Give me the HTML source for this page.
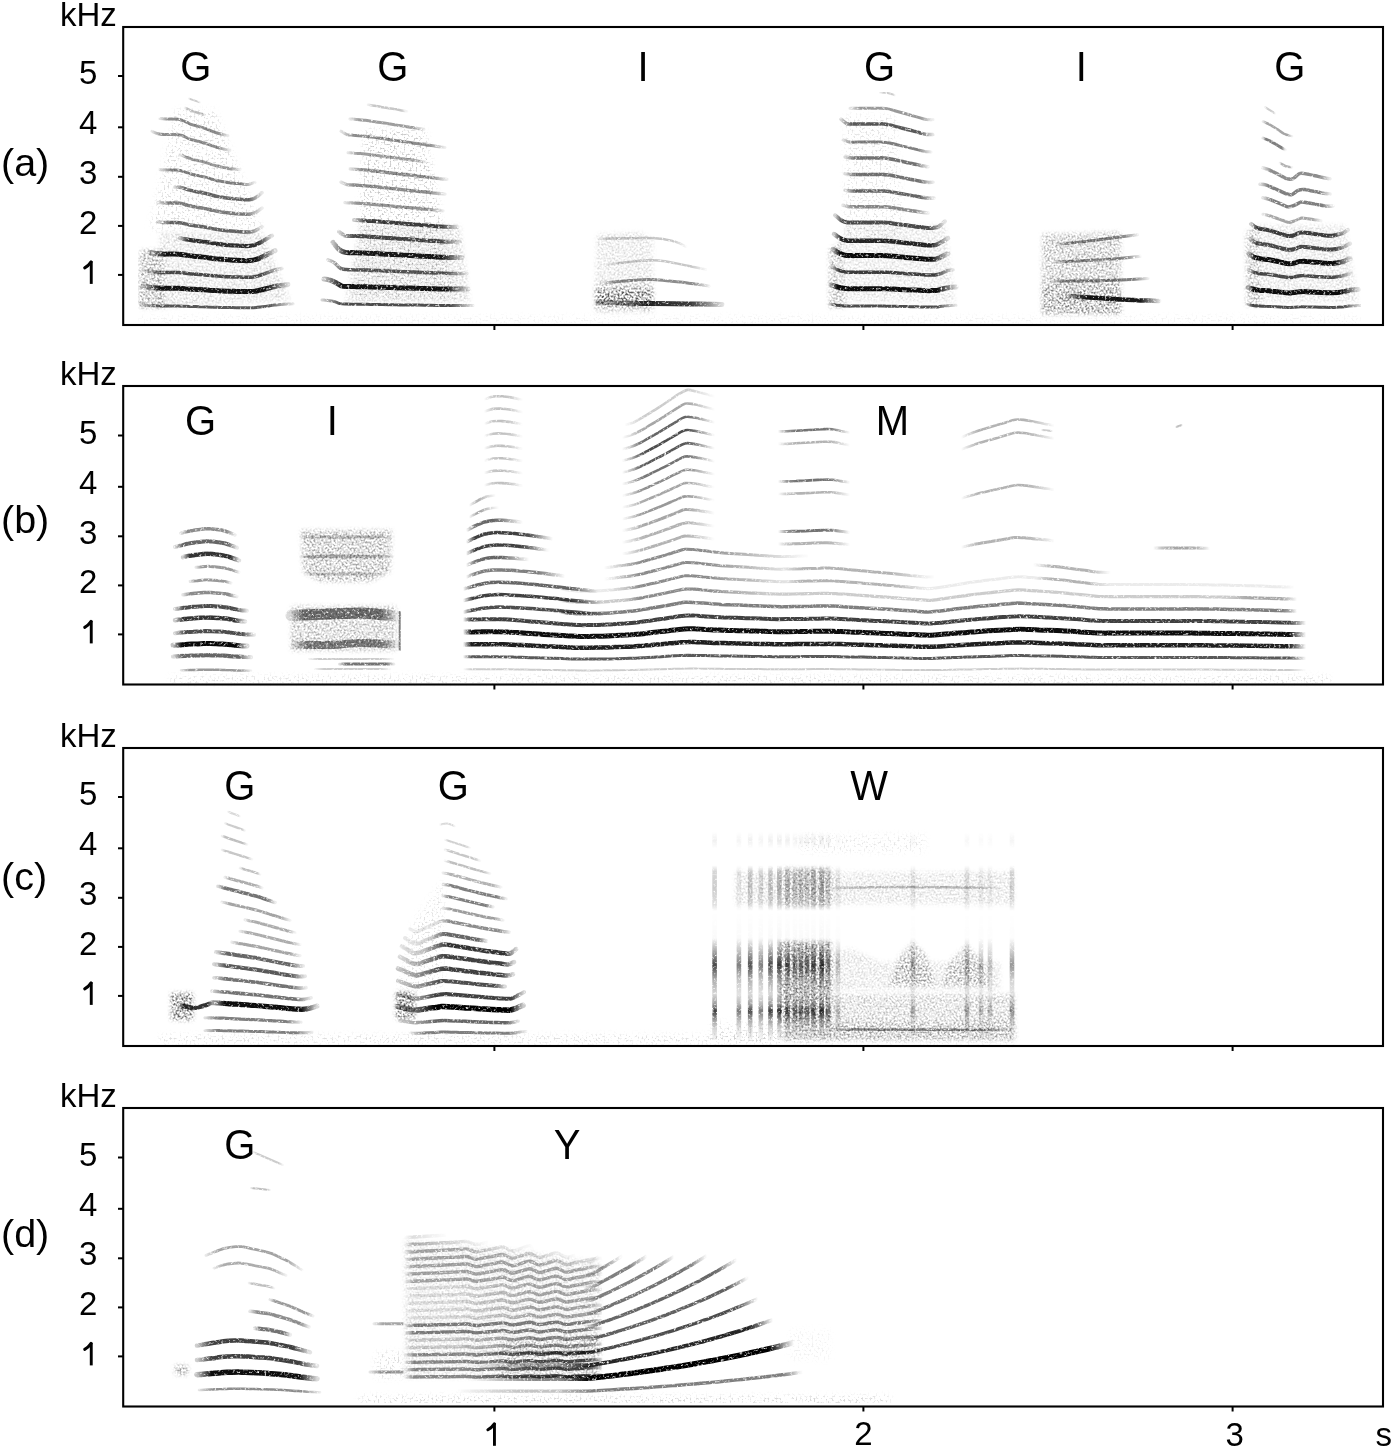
<!DOCTYPE html>
<html><head><meta charset="utf-8"><style>
html,body{margin:0;padding:0;background:#fff;}
body{width:1395px;height:1449px;overflow:hidden;}
svg{display:block;}
text{font-family:"Liberation Sans", sans-serif;fill:#000;}
</style></head><body>
<svg width="1395" height="1449" viewBox="0 0 1395 1449">
<defs>
<filter id="sp1" x="-3%" y="-3%" width="106%" height="106%" color-interpolation-filters="sRGB">
<feGaussianBlur in="SourceGraphic" stdDeviation="2" result="m"/>
<feTurbulence type="fractalNoise" baseFrequency="0.5" numOctaves="2" seed="7" result="n"/>
<feColorMatrix in="n" type="matrix" values="0 0 0 0 0  0 0 0 0 0  0 0 0 0 0  3.2 0 0 0 -1.25" result="a"/>
<feComposite in="a" in2="m" operator="in"/>
</filter>
<filter id="sp2" x="-3%" y="-3%" width="106%" height="106%" color-interpolation-filters="sRGB">
<feGaussianBlur in="SourceGraphic" stdDeviation="3" result="m"/>
<feTurbulence type="fractalNoise" baseFrequency="0.5" numOctaves="2" seed="3" result="n"/>
<feColorMatrix in="n" type="matrix" values="0 0 0 0 0  0 0 0 0 0  0 0 0 0 0  5 0 0 0 -2.6" result="a"/>
<feComposite in="a" in2="m" operator="in"/>
</filter>
<filter id="soft" x="0" y="0" width="100%" height="100%" color-interpolation-filters="sRGB">
<feTurbulence type="fractalNoise" baseFrequency="0.42" numOctaves="2" seed="11" result="n"/>
<feColorMatrix in="n" type="matrix" values="0 0 0 0 0  0 0 0 0 0  0 0 0 0 0  -3.2 0 0 0 2.75" result="m"/>
<feComposite in="SourceGraphic" in2="m" operator="in" result="s"/>
<feGaussianBlur in="s" stdDeviation="0.6"/>
</filter>
<linearGradient id="g1" gradientUnits="userSpaceOnUse" x1="141.0" y1="0" x2="293.0" y2="0"><stop offset="0" stop-opacity=".16"/><stop offset=".12" stop-opacity=".65"/><stop offset=".85" stop-opacity=".65"/><stop offset="1" stop-opacity=".1"/></linearGradient>
<linearGradient id="g2" gradientUnits="userSpaceOnUse" x1="143.0" y1="0" x2="288.0" y2="0"><stop offset="0" stop-opacity=".23"/><stop offset=".12" stop-opacity=".92"/><stop offset=".85" stop-opacity=".92"/><stop offset="1" stop-opacity=".14"/></linearGradient>
<linearGradient id="g3" gradientUnits="userSpaceOnUse" x1="147.0" y1="0" x2="282.0" y2="0"><stop offset="0" stop-opacity=".17"/><stop offset=".12" stop-opacity=".7"/><stop offset=".85" stop-opacity=".7"/><stop offset="1" stop-opacity=".1"/></linearGradient>
<linearGradient id="g4" gradientUnits="userSpaceOnUse" x1="150.0" y1="0" x2="275.0" y2="0"><stop offset="0" stop-opacity=".23"/><stop offset=".12" stop-opacity=".92"/><stop offset=".85" stop-opacity=".92"/><stop offset="1" stop-opacity=".14"/></linearGradient>
<linearGradient id="g5" gradientUnits="userSpaceOnUse" x1="180.0" y1="0" x2="272.0" y2="0"><stop offset="0" stop-opacity=".2"/><stop offset=".08" stop-opacity=".8"/><stop offset=".85" stop-opacity=".8"/><stop offset="1" stop-opacity=".12"/></linearGradient>
<linearGradient id="g6" gradientUnits="userSpaceOnUse" x1="158.0" y1="0" x2="262.0" y2="0"><stop offset="0" stop-opacity=".15"/><stop offset=".12" stop-opacity=".6"/><stop offset=".85" stop-opacity=".6"/><stop offset="1" stop-opacity=".09"/></linearGradient>
<linearGradient id="g7" gradientUnits="userSpaceOnUse" x1="158.0" y1="0" x2="262.0" y2="0"><stop offset="0" stop-opacity=".12"/><stop offset=".12" stop-opacity=".5"/><stop offset=".85" stop-opacity=".5"/><stop offset="1" stop-opacity=".07"/></linearGradient>
<linearGradient id="g8" gradientUnits="userSpaceOnUse" x1="175.0" y1="0" x2="262.0" y2="0"><stop offset="0" stop-opacity=".15"/><stop offset=".12" stop-opacity=".6"/><stop offset=".85" stop-opacity=".6"/><stop offset="1" stop-opacity=".09"/></linearGradient>
<linearGradient id="g9" gradientUnits="userSpaceOnUse" x1="160.0" y1="0" x2="255.0" y2="0"><stop offset="0" stop-opacity=".12"/><stop offset=".12" stop-opacity=".5"/><stop offset=".85" stop-opacity=".5"/><stop offset="1" stop-opacity=".07"/></linearGradient>
<linearGradient id="g10" gradientUnits="userSpaceOnUse" x1="180.0" y1="0" x2="240.0" y2="0"><stop offset="0" stop-opacity=".1"/><stop offset=".12" stop-opacity=".4"/><stop offset=".85" stop-opacity=".4"/><stop offset="1" stop-opacity=".06"/></linearGradient>
<linearGradient id="g11" gradientUnits="userSpaceOnUse" x1="152.0" y1="0" x2="230.0" y2="0"><stop offset="0" stop-opacity=".11"/><stop offset=".12" stop-opacity=".45"/><stop offset=".85" stop-opacity=".45"/><stop offset="1" stop-opacity=".07"/></linearGradient>
<linearGradient id="g12" gradientUnits="userSpaceOnUse" x1="160.0" y1="0" x2="228.0" y2="0"><stop offset="0" stop-opacity=".11"/><stop offset=".12" stop-opacity=".45"/><stop offset=".85" stop-opacity=".45"/><stop offset="1" stop-opacity=".07"/></linearGradient>
<linearGradient id="g13" gradientUnits="userSpaceOnUse" x1="185.0" y1="0" x2="205.0" y2="0"><stop offset="0" stop-opacity=".06"/><stop offset=".12" stop-opacity=".25"/><stop offset=".85" stop-opacity=".25"/><stop offset="1" stop-opacity=".04"/></linearGradient>
<linearGradient id="g14" gradientUnits="userSpaceOnUse" x1="189.0" y1="0" x2="200.0" y2="0"><stop offset="0" stop-opacity=".05"/><stop offset=".12" stop-opacity=".2"/><stop offset=".85" stop-opacity=".2"/><stop offset="1" stop-opacity=".03"/></linearGradient>
<linearGradient id="g15" gradientUnits="userSpaceOnUse" x1="322.0" y1="0" x2="473.0" y2="0"><stop offset="0" stop-opacity=".17"/><stop offset=".12" stop-opacity=".7"/><stop offset=".85" stop-opacity=".7"/><stop offset="1" stop-opacity=".1"/></linearGradient>
<linearGradient id="g16" gradientUnits="userSpaceOnUse" x1="324.0" y1="0" x2="468.0" y2="0"><stop offset="0" stop-opacity=".23"/><stop offset=".12" stop-opacity=".92"/><stop offset=".85" stop-opacity=".92"/><stop offset="1" stop-opacity=".14"/></linearGradient>
<linearGradient id="g17" gradientUnits="userSpaceOnUse" x1="328.0" y1="0" x2="467.0" y2="0"><stop offset="0" stop-opacity=".16"/><stop offset=".12" stop-opacity=".65"/><stop offset=".85" stop-opacity=".65"/><stop offset="1" stop-opacity=".1"/></linearGradient>
<linearGradient id="g18" gradientUnits="userSpaceOnUse" x1="333.0" y1="0" x2="462.0" y2="0"><stop offset="0" stop-opacity=".23"/><stop offset=".12" stop-opacity=".9"/><stop offset=".85" stop-opacity=".9"/><stop offset="1" stop-opacity=".14"/></linearGradient>
<linearGradient id="g19" gradientUnits="userSpaceOnUse" x1="339.0" y1="0" x2="460.0" y2="0"><stop offset="0" stop-opacity=".17"/><stop offset=".12" stop-opacity=".7"/><stop offset=".85" stop-opacity=".7"/><stop offset="1" stop-opacity=".1"/></linearGradient>
<linearGradient id="g20" gradientUnits="userSpaceOnUse" x1="354.0" y1="0" x2="457.0" y2="0"><stop offset="0" stop-opacity=".19"/><stop offset=".12" stop-opacity=".75"/><stop offset=".85" stop-opacity=".75"/><stop offset="1" stop-opacity=".11"/></linearGradient>
<linearGradient id="g21" gradientUnits="userSpaceOnUse" x1="345.0" y1="0" x2="443.0" y2="0"><stop offset="0" stop-opacity=".1"/><stop offset=".12" stop-opacity=".42"/><stop offset=".85" stop-opacity=".42"/><stop offset="1" stop-opacity=".06"/></linearGradient>
<linearGradient id="g22" gradientUnits="userSpaceOnUse" x1="341.0" y1="0" x2="445.0" y2="0"><stop offset="0" stop-opacity=".11"/><stop offset=".12" stop-opacity=".45"/><stop offset=".85" stop-opacity=".45"/><stop offset="1" stop-opacity=".07"/></linearGradient>
<linearGradient id="g23" gradientUnits="userSpaceOnUse" x1="350.0" y1="0" x2="447.0" y2="0"><stop offset="0" stop-opacity=".11"/><stop offset=".12" stop-opacity=".45"/><stop offset=".85" stop-opacity=".45"/><stop offset="1" stop-opacity=".07"/></linearGradient>
<linearGradient id="g24" gradientUnits="userSpaceOnUse" x1="348.0" y1="0" x2="425.0" y2="0"><stop offset="0" stop-opacity=".1"/><stop offset=".12" stop-opacity=".38"/><stop offset=".85" stop-opacity=".38"/><stop offset="1" stop-opacity=".06"/></linearGradient>
<linearGradient id="g25" gradientUnits="userSpaceOnUse" x1="341.0" y1="0" x2="445.0" y2="0"><stop offset="0" stop-opacity=".11"/><stop offset=".12" stop-opacity=".45"/><stop offset=".85" stop-opacity=".45"/><stop offset="1" stop-opacity=".07"/></linearGradient>
<linearGradient id="g26" gradientUnits="userSpaceOnUse" x1="350.0" y1="0" x2="424.0" y2="0"><stop offset="0" stop-opacity=".1"/><stop offset=".12" stop-opacity=".38"/><stop offset=".85" stop-opacity=".38"/><stop offset="1" stop-opacity=".06"/></linearGradient>
<linearGradient id="g27" gradientUnits="userSpaceOnUse" x1="368.0" y1="0" x2="407.0" y2="0"><stop offset="0" stop-opacity=".06"/><stop offset=".12" stop-opacity=".22"/><stop offset=".85" stop-opacity=".22"/><stop offset="1" stop-opacity=".03"/></linearGradient>
<linearGradient id="g28" gradientUnits="userSpaceOnUse" x1="598.0" y1="0" x2="722.0" y2="0"><stop offset="0" stop-opacity=".3"/><stop offset=".25" stop-opacity=".51"/><stop offset=".4" stop-opacity=".85"/><stop offset=".75" stop-opacity=".77"/><stop offset=".9" stop-opacity=".42"/><stop offset="1" stop-opacity=".13"/></linearGradient>
<linearGradient id="g29" gradientUnits="userSpaceOnUse" x1="603.0" y1="0" x2="709.0" y2="0"><stop offset="0" stop-opacity=".11"/><stop offset=".12" stop-opacity=".45"/><stop offset=".85" stop-opacity=".45"/><stop offset="1" stop-opacity=".07"/></linearGradient>
<linearGradient id="g30" gradientUnits="userSpaceOnUse" x1="607.0" y1="0" x2="706.0" y2="0"><stop offset="0" stop-opacity=".06"/><stop offset=".12" stop-opacity=".22"/><stop offset=".85" stop-opacity=".22"/><stop offset="1" stop-opacity=".03"/></linearGradient>
<linearGradient id="g31" gradientUnits="userSpaceOnUse" x1="599.0" y1="0" x2="686.0" y2="0"><stop offset="0" stop-opacity=".06"/><stop offset=".12" stop-opacity=".22"/><stop offset=".85" stop-opacity=".22"/><stop offset="1" stop-opacity=".03"/></linearGradient>
<linearGradient id="g32" gradientUnits="userSpaceOnUse" x1="830.0" y1="0" x2="956.0" y2="0"><stop offset="0" stop-opacity=".17"/><stop offset=".05" stop-opacity=".7"/><stop offset=".85" stop-opacity=".7"/><stop offset="1" stop-opacity=".1"/></linearGradient>
<linearGradient id="g33" gradientUnits="userSpaceOnUse" x1="831.0" y1="0" x2="956.0" y2="0"><stop offset="0" stop-opacity=".24"/><stop offset=".05" stop-opacity=".95"/><stop offset=".85" stop-opacity=".95"/><stop offset="1" stop-opacity=".14"/></linearGradient>
<linearGradient id="g34" gradientUnits="userSpaceOnUse" x1="832.0" y1="0" x2="953.0" y2="0"><stop offset="0" stop-opacity=".19"/><stop offset=".06" stop-opacity=".75"/><stop offset=".85" stop-opacity=".75"/><stop offset="1" stop-opacity=".11"/></linearGradient>
<linearGradient id="g35" gradientUnits="userSpaceOnUse" x1="833.0" y1="0" x2="948.0" y2="0"><stop offset="0" stop-opacity=".24"/><stop offset=".06" stop-opacity=".95"/><stop offset=".85" stop-opacity=".95"/><stop offset="1" stop-opacity=".14"/></linearGradient>
<linearGradient id="g36" gradientUnits="userSpaceOnUse" x1="834.0" y1="0" x2="948.0" y2="0"><stop offset="0" stop-opacity=".21"/><stop offset=".06" stop-opacity=".85"/><stop offset=".85" stop-opacity=".85"/><stop offset="1" stop-opacity=".13"/></linearGradient>
<linearGradient id="g37" gradientUnits="userSpaceOnUse" x1="835.0" y1="0" x2="945.0" y2="0"><stop offset="0" stop-opacity=".17"/><stop offset=".06" stop-opacity=".7"/><stop offset=".85" stop-opacity=".7"/><stop offset="1" stop-opacity=".1"/></linearGradient>
<linearGradient id="g38" gradientUnits="userSpaceOnUse" x1="843.0" y1="0" x2="928.0" y2="0"><stop offset="0" stop-opacity=".11"/><stop offset=".12" stop-opacity=".45"/><stop offset=".85" stop-opacity=".45"/><stop offset="1" stop-opacity=".07"/></linearGradient>
<linearGradient id="g39" gradientUnits="userSpaceOnUse" x1="845.0" y1="0" x2="934.0" y2="0"><stop offset="0" stop-opacity=".15"/><stop offset=".12" stop-opacity=".6"/><stop offset=".85" stop-opacity=".6"/><stop offset="1" stop-opacity=".09"/></linearGradient>
<linearGradient id="g40" gradientUnits="userSpaceOnUse" x1="845.0" y1="0" x2="933.0" y2="0"><stop offset="0" stop-opacity=".14"/><stop offset=".12" stop-opacity=".55"/><stop offset=".85" stop-opacity=".55"/><stop offset="1" stop-opacity=".08"/></linearGradient>
<linearGradient id="g41" gradientUnits="userSpaceOnUse" x1="845.0" y1="0" x2="928.0" y2="0"><stop offset="0" stop-opacity=".14"/><stop offset=".12" stop-opacity=".55"/><stop offset=".85" stop-opacity=".55"/><stop offset="1" stop-opacity=".08"/></linearGradient>
<linearGradient id="g42" gradientUnits="userSpaceOnUse" x1="843.0" y1="0" x2="931.0" y2="0"><stop offset="0" stop-opacity=".12"/><stop offset=".12" stop-opacity=".5"/><stop offset=".85" stop-opacity=".5"/><stop offset="1" stop-opacity=".07"/></linearGradient>
<linearGradient id="g43" gradientUnits="userSpaceOnUse" x1="841.0" y1="0" x2="933.0" y2="0"><stop offset="0" stop-opacity=".16"/><stop offset=".12" stop-opacity=".65"/><stop offset=".85" stop-opacity=".65"/><stop offset="1" stop-opacity=".1"/></linearGradient>
<linearGradient id="g44" gradientUnits="userSpaceOnUse" x1="850.0" y1="0" x2="933.0" y2="0"><stop offset="0" stop-opacity=".1"/><stop offset=".12" stop-opacity=".4"/><stop offset=".85" stop-opacity=".4"/><stop offset="1" stop-opacity=".06"/></linearGradient>
<linearGradient id="g45" gradientUnits="userSpaceOnUse" x1="880.0" y1="0" x2="895.0" y2="0"><stop offset="0" stop-opacity=".05"/><stop offset=".12" stop-opacity=".2"/><stop offset=".85" stop-opacity=".2"/><stop offset="1" stop-opacity=".03"/></linearGradient>
<linearGradient id="g46" gradientUnits="userSpaceOnUse" x1="1067.0" y1="0" x2="1159.0" y2="0"><stop offset="0" stop-opacity=".23"/><stop offset=".2" stop-opacity=".9"/><stop offset=".8" stop-opacity=".9"/><stop offset="1" stop-opacity=".14"/></linearGradient>
<linearGradient id="g47" gradientUnits="userSpaceOnUse" x1="1052.0" y1="0" x2="1148.0" y2="0"><stop offset="0" stop-opacity=".12"/><stop offset=".12" stop-opacity=".5"/><stop offset=".85" stop-opacity=".5"/><stop offset="1" stop-opacity=".07"/></linearGradient>
<linearGradient id="g48" gradientUnits="userSpaceOnUse" x1="1057.0" y1="0" x2="1140.0" y2="0"><stop offset="0" stop-opacity=".11"/><stop offset=".12" stop-opacity=".45"/><stop offset=".85" stop-opacity=".45"/><stop offset="1" stop-opacity=".07"/></linearGradient>
<linearGradient id="g49" gradientUnits="userSpaceOnUse" x1="1057.0" y1="0" x2="1137.5" y2="0"><stop offset="0" stop-opacity=".11"/><stop offset=".12" stop-opacity=".45"/><stop offset=".85" stop-opacity=".45"/><stop offset="1" stop-opacity=".07"/></linearGradient>
<linearGradient id="g50" gradientUnits="userSpaceOnUse" x1="1247.0" y1="0" x2="1361.0" y2="0"><stop offset="0" stop-opacity=".17"/><stop offset=".05" stop-opacity=".7"/><stop offset=".85" stop-opacity=".7"/><stop offset="1" stop-opacity=".1"/></linearGradient>
<linearGradient id="g51" gradientUnits="userSpaceOnUse" x1="1248.0" y1="0" x2="1358.0" y2="0"><stop offset="0" stop-opacity=".24"/><stop offset=".05" stop-opacity=".95"/><stop offset=".85" stop-opacity=".95"/><stop offset="1" stop-opacity=".14"/></linearGradient>
<linearGradient id="g52" gradientUnits="userSpaceOnUse" x1="1249.0" y1="0" x2="1351.0" y2="0"><stop offset="0" stop-opacity=".17"/><stop offset=".06" stop-opacity=".7"/><stop offset=".85" stop-opacity=".7"/><stop offset="1" stop-opacity=".1"/></linearGradient>
<linearGradient id="g53" gradientUnits="userSpaceOnUse" x1="1249.0" y1="0" x2="1350.0" y2="0"><stop offset="0" stop-opacity=".24"/><stop offset=".06" stop-opacity=".95"/><stop offset=".85" stop-opacity=".95"/><stop offset="1" stop-opacity=".14"/></linearGradient>
<linearGradient id="g54" gradientUnits="userSpaceOnUse" x1="1250.0" y1="0" x2="1350.0" y2="0"><stop offset="0" stop-opacity=".17"/><stop offset=".06" stop-opacity=".7"/><stop offset=".85" stop-opacity=".7"/><stop offset="1" stop-opacity=".1"/></linearGradient>
<linearGradient id="g55" gradientUnits="userSpaceOnUse" x1="1251.0" y1="0" x2="1348.0" y2="0"><stop offset="0" stop-opacity=".19"/><stop offset=".06" stop-opacity=".75"/><stop offset=".85" stop-opacity=".75"/><stop offset="1" stop-opacity=".11"/></linearGradient>
<linearGradient id="g56" gradientUnits="userSpaceOnUse" x1="1263.0" y1="0" x2="1321.0" y2="0"><stop offset="0" stop-opacity=".09"/><stop offset=".12" stop-opacity=".35"/><stop offset=".85" stop-opacity=".35"/><stop offset="1" stop-opacity=".05"/></linearGradient>
<linearGradient id="g57" gradientUnits="userSpaceOnUse" x1="1263.0" y1="0" x2="1333.0" y2="0"><stop offset="0" stop-opacity=".12"/><stop offset=".12" stop-opacity=".5"/><stop offset=".85" stop-opacity=".5"/><stop offset="1" stop-opacity=".07"/></linearGradient>
<linearGradient id="g58" gradientUnits="userSpaceOnUse" x1="1260.0" y1="0" x2="1330.0" y2="0"><stop offset="0" stop-opacity=".12"/><stop offset=".12" stop-opacity=".5"/><stop offset=".85" stop-opacity=".5"/><stop offset="1" stop-opacity=".07"/></linearGradient>
<linearGradient id="g59" gradientUnits="userSpaceOnUse" x1="1263.0" y1="0" x2="1330.0" y2="0"><stop offset="0" stop-opacity=".11"/><stop offset=".12" stop-opacity=".45"/><stop offset=".85" stop-opacity=".45"/><stop offset="1" stop-opacity=".07"/></linearGradient>
<linearGradient id="g60" gradientUnits="userSpaceOnUse" x1="1280.0" y1="0" x2="1292.0" y2="0"><stop offset="0" stop-opacity=".07"/><stop offset=".12" stop-opacity=".3"/><stop offset=".85" stop-opacity=".3"/><stop offset="1" stop-opacity=".04"/></linearGradient>
<linearGradient id="g61" gradientUnits="userSpaceOnUse" x1="1263.0" y1="0" x2="1285.0" y2="0"><stop offset="0" stop-opacity=".12"/><stop offset=".12" stop-opacity=".5"/><stop offset=".85" stop-opacity=".5"/><stop offset="1" stop-opacity=".07"/></linearGradient>
<linearGradient id="g62" gradientUnits="userSpaceOnUse" x1="1263.0" y1="0" x2="1292.0" y2="0"><stop offset="0" stop-opacity=".09"/><stop offset=".12" stop-opacity=".35"/><stop offset=".85" stop-opacity=".35"/><stop offset="1" stop-opacity=".05"/></linearGradient>
<linearGradient id="g63" gradientUnits="userSpaceOnUse" x1="1265.0" y1="0" x2="1275.0" y2="0"><stop offset="0" stop-opacity=".05"/><stop offset=".12" stop-opacity=".2"/><stop offset=".85" stop-opacity=".2"/><stop offset="1" stop-opacity=".03"/></linearGradient>
<linearGradient id="g64" gradientUnits="userSpaceOnUse" x1="181.0" y1="0" x2="251.0" y2="0"><stop offset="0" stop-opacity=".1"/><stop offset=".12" stop-opacity=".4"/><stop offset=".85" stop-opacity=".4"/><stop offset="1" stop-opacity=".06"/></linearGradient>
<linearGradient id="g65" gradientUnits="userSpaceOnUse" x1="173.0" y1="0" x2="251.0" y2="0"><stop offset="0" stop-opacity=".15"/><stop offset=".12" stop-opacity=".6"/><stop offset=".85" stop-opacity=".6"/><stop offset="1" stop-opacity=".09"/></linearGradient>
<linearGradient id="g66" gradientUnits="userSpaceOnUse" x1="173.0" y1="0" x2="247.0" y2="0"><stop offset="0" stop-opacity=".24"/><stop offset=".12" stop-opacity=".97"/><stop offset=".85" stop-opacity=".97"/><stop offset="1" stop-opacity=".15"/></linearGradient>
<linearGradient id="g67" gradientUnits="userSpaceOnUse" x1="175.0" y1="0" x2="254.0" y2="0"><stop offset="0" stop-opacity=".17"/><stop offset=".12" stop-opacity=".7"/><stop offset=".85" stop-opacity=".7"/><stop offset="1" stop-opacity=".1"/></linearGradient>
<linearGradient id="g68" gradientUnits="userSpaceOnUse" x1="175.0" y1="0" x2="245.0" y2="0"><stop offset="0" stop-opacity=".2"/><stop offset=".12" stop-opacity=".8"/><stop offset=".85" stop-opacity=".8"/><stop offset="1" stop-opacity=".12"/></linearGradient>
<linearGradient id="g69" gradientUnits="userSpaceOnUse" x1="175.0" y1="0" x2="247.0" y2="0"><stop offset="0" stop-opacity=".17"/><stop offset=".12" stop-opacity=".7"/><stop offset=".85" stop-opacity=".7"/><stop offset="1" stop-opacity=".1"/></linearGradient>
<linearGradient id="g70" gradientUnits="userSpaceOnUse" x1="183.0" y1="0" x2="237.0" y2="0"><stop offset="0" stop-opacity=".11"/><stop offset=".12" stop-opacity=".45"/><stop offset=".85" stop-opacity=".45"/><stop offset="1" stop-opacity=".07"/></linearGradient>
<linearGradient id="g71" gradientUnits="userSpaceOnUse" x1="190.0" y1="0" x2="231.0" y2="0"><stop offset="0" stop-opacity=".1"/><stop offset=".12" stop-opacity=".4"/><stop offset=".85" stop-opacity=".4"/><stop offset="1" stop-opacity=".06"/></linearGradient>
<linearGradient id="g72" gradientUnits="userSpaceOnUse" x1="196.0" y1="0" x2="239.0" y2="0"><stop offset="0" stop-opacity=".1"/><stop offset=".12" stop-opacity=".4"/><stop offset=".85" stop-opacity=".4"/><stop offset="1" stop-opacity=".06"/></linearGradient>
<linearGradient id="g73" gradientUnits="userSpaceOnUse" x1="183.0" y1="0" x2="239.0" y2="0"><stop offset="0" stop-opacity=".2"/><stop offset=".12" stop-opacity=".8"/><stop offset=".85" stop-opacity=".8"/><stop offset="1" stop-opacity=".12"/></linearGradient>
<linearGradient id="g74" gradientUnits="userSpaceOnUse" x1="175.0" y1="0" x2="237.0" y2="0"><stop offset="0" stop-opacity=".15"/><stop offset=".12" stop-opacity=".6"/><stop offset=".85" stop-opacity=".6"/><stop offset="1" stop-opacity=".09"/></linearGradient>
<linearGradient id="g75" gradientUnits="userSpaceOnUse" x1="181.0" y1="0" x2="235.0" y2="0"><stop offset="0" stop-opacity=".11"/><stop offset=".12" stop-opacity=".45"/><stop offset=".85" stop-opacity=".45"/><stop offset="1" stop-opacity=".07"/></linearGradient>
<linearGradient id="g76" gradientUnits="userSpaceOnUse" x1="301.0" y1="0" x2="392.0" y2="0"><stop offset="0" stop-opacity=".06"/><stop offset=".12" stop-opacity=".25"/><stop offset=".85" stop-opacity=".25"/><stop offset="1" stop-opacity=".04"/></linearGradient>
<linearGradient id="g77" gradientUnits="userSpaceOnUse" x1="301.0" y1="0" x2="392.0" y2="0"><stop offset="0" stop-opacity=".07"/><stop offset=".12" stop-opacity=".3"/><stop offset=".85" stop-opacity=".3"/><stop offset="1" stop-opacity=".04"/></linearGradient>
<linearGradient id="g78" gradientUnits="userSpaceOnUse" x1="305.0" y1="0" x2="385.0" y2="0"><stop offset="0" stop-opacity=".05"/><stop offset=".12" stop-opacity=".2"/><stop offset=".85" stop-opacity=".2"/><stop offset="1" stop-opacity=".03"/></linearGradient>
<linearGradient id="g79" gradientUnits="userSpaceOnUse" x1="291.0" y1="0" x2="396.0" y2="0"><stop offset="0" stop-opacity=".14"/><stop offset=".12" stop-opacity=".55"/><stop offset=".85" stop-opacity=".55"/><stop offset="1" stop-opacity=".08"/></linearGradient>
<linearGradient id="g80" gradientUnits="userSpaceOnUse" x1="295.0" y1="0" x2="396.0" y2="0"><stop offset="0" stop-opacity=".12"/><stop offset=".12" stop-opacity=".5"/><stop offset=".85" stop-opacity=".5"/><stop offset="1" stop-opacity=".07"/></linearGradient>
<linearGradient id="g81" gradientUnits="userSpaceOnUse" x1="339.7" y1="0" x2="393.9" y2="0"><stop offset="0" stop-opacity=".14"/><stop offset=".12" stop-opacity=".55"/><stop offset=".85" stop-opacity=".55"/><stop offset="1" stop-opacity=".08"/></linearGradient>
<linearGradient id="g82" gradientUnits="userSpaceOnUse" x1="309.0" y1="0" x2="393.0" y2="0"><stop offset="0" stop-opacity=".05"/><stop offset=".12" stop-opacity=".2"/><stop offset=".85" stop-opacity=".2"/><stop offset="1" stop-opacity=".03"/></linearGradient>
<linearGradient id="g83" gradientUnits="userSpaceOnUse" x1="315.0" y1="0" x2="390.0" y2="0"><stop offset="0" stop-opacity=".05"/><stop offset=".12" stop-opacity=".2"/><stop offset=".85" stop-opacity=".2"/><stop offset="1" stop-opacity=".03"/></linearGradient>
<linearGradient id="g84" gradientUnits="userSpaceOnUse" x1="463.0" y1="0" x2="1306.0" y2="0"><stop offset="0" stop-opacity="0"/><stop offset=".01" stop-opacity=".2"/><stop offset=".02" stop-opacity=".2"/><stop offset=".03" stop-opacity=".2"/><stop offset=".04" stop-opacity=".2"/><stop offset=".05" stop-opacity=".2"/><stop offset=".06" stop-opacity=".2"/><stop offset=".07" stop-opacity=".2"/><stop offset=".09" stop-opacity=".2"/><stop offset=".1" stop-opacity=".2"/><stop offset=".11" stop-opacity=".2"/><stop offset=".12" stop-opacity=".2"/><stop offset=".13" stop-opacity=".2"/><stop offset=".14" stop-opacity=".2"/><stop offset=".15" stop-opacity=".2"/><stop offset=".16" stop-opacity=".2"/><stop offset=".17" stop-opacity=".2"/><stop offset=".18" stop-opacity=".2"/><stop offset=".19" stop-opacity=".2"/><stop offset=".2" stop-opacity=".2"/><stop offset=".21" stop-opacity=".2"/><stop offset=".22" stop-opacity=".2"/><stop offset=".23" stop-opacity=".2"/><stop offset=".25" stop-opacity=".2"/><stop offset=".26" stop-opacity=".2"/><stop offset=".27" stop-opacity=".2"/><stop offset=".28" stop-opacity=".2"/><stop offset=".29" stop-opacity=".2"/><stop offset=".3" stop-opacity=".2"/><stop offset=".31" stop-opacity=".2"/><stop offset=".32" stop-opacity=".2"/><stop offset=".33" stop-opacity=".2"/><stop offset=".34" stop-opacity=".2"/><stop offset=".35" stop-opacity=".2"/><stop offset=".36" stop-opacity=".2"/><stop offset=".37" stop-opacity=".2"/><stop offset=".38" stop-opacity=".2"/><stop offset=".4" stop-opacity=".2"/><stop offset=".41" stop-opacity=".2"/><stop offset=".42" stop-opacity=".2"/><stop offset=".43" stop-opacity=".2"/><stop offset=".44" stop-opacity=".2"/><stop offset=".45" stop-opacity=".2"/><stop offset=".46" stop-opacity=".2"/><stop offset=".47" stop-opacity=".2"/><stop offset=".48" stop-opacity=".2"/><stop offset=".49" stop-opacity=".2"/><stop offset=".5" stop-opacity=".2"/><stop offset=".51" stop-opacity=".2"/><stop offset=".52" stop-opacity=".2"/><stop offset=".53" stop-opacity=".2"/><stop offset=".54" stop-opacity=".2"/><stop offset=".56" stop-opacity=".2"/><stop offset=".57" stop-opacity=".2"/><stop offset=".58" stop-opacity=".2"/><stop offset=".59" stop-opacity=".2"/><stop offset=".6" stop-opacity=".2"/><stop offset=".61" stop-opacity=".2"/><stop offset=".62" stop-opacity=".2"/><stop offset=".63" stop-opacity=".2"/><stop offset=".64" stop-opacity=".2"/><stop offset=".65" stop-opacity=".2"/><stop offset=".66" stop-opacity=".2"/><stop offset=".67" stop-opacity=".2"/><stop offset=".68" stop-opacity=".2"/><stop offset=".69" stop-opacity=".2"/><stop offset=".7" stop-opacity=".2"/><stop offset=".72" stop-opacity=".2"/><stop offset=".73" stop-opacity=".2"/><stop offset=".74" stop-opacity=".2"/><stop offset=".75" stop-opacity=".2"/><stop offset=".76" stop-opacity=".2"/><stop offset=".77" stop-opacity=".2"/><stop offset=".78" stop-opacity=".2"/><stop offset=".79" stop-opacity=".2"/><stop offset=".8" stop-opacity=".2"/><stop offset=".81" stop-opacity=".2"/><stop offset=".82" stop-opacity=".2"/><stop offset=".83" stop-opacity=".2"/><stop offset=".84" stop-opacity=".2"/><stop offset=".85" stop-opacity=".2"/><stop offset=".86" stop-opacity=".2"/><stop offset=".88" stop-opacity=".2"/><stop offset=".89" stop-opacity=".2"/><stop offset=".9" stop-opacity=".2"/><stop offset=".91" stop-opacity=".2"/><stop offset=".92" stop-opacity=".2"/><stop offset=".93" stop-opacity=".2"/><stop offset=".94" stop-opacity=".2"/><stop offset=".95" stop-opacity=".2"/><stop offset=".96" stop-opacity=".2"/><stop offset=".97" stop-opacity=".2"/><stop offset=".98" stop-opacity=".2"/><stop offset=".99" stop-opacity=".1"/><stop offset="1" stop-opacity="0"/></linearGradient>
<linearGradient id="g85" gradientUnits="userSpaceOnUse" x1="463.0" y1="0" x2="1306.0" y2="0"><stop offset="0" stop-opacity="0"/><stop offset=".01" stop-opacity=".65"/><stop offset=".02" stop-opacity=".65"/><stop offset=".03" stop-opacity=".65"/><stop offset=".04" stop-opacity=".65"/><stop offset=".05" stop-opacity=".65"/><stop offset=".06" stop-opacity=".65"/><stop offset=".07" stop-opacity=".65"/><stop offset=".09" stop-opacity=".65"/><stop offset=".1" stop-opacity=".65"/><stop offset=".11" stop-opacity=".65"/><stop offset=".12" stop-opacity=".65"/><stop offset=".13" stop-opacity=".65"/><stop offset=".14" stop-opacity=".65"/><stop offset=".15" stop-opacity=".65"/><stop offset=".16" stop-opacity=".65"/><stop offset=".17" stop-opacity=".65"/><stop offset=".18" stop-opacity=".65"/><stop offset=".19" stop-opacity=".65"/><stop offset=".2" stop-opacity=".65"/><stop offset=".21" stop-opacity=".65"/><stop offset=".22" stop-opacity=".65"/><stop offset=".23" stop-opacity=".65"/><stop offset=".25" stop-opacity=".65"/><stop offset=".26" stop-opacity=".65"/><stop offset=".27" stop-opacity=".65"/><stop offset=".28" stop-opacity=".65"/><stop offset=".29" stop-opacity=".65"/><stop offset=".3" stop-opacity=".65"/><stop offset=".31" stop-opacity=".65"/><stop offset=".32" stop-opacity=".65"/><stop offset=".33" stop-opacity=".65"/><stop offset=".34" stop-opacity=".65"/><stop offset=".35" stop-opacity=".65"/><stop offset=".36" stop-opacity=".65"/><stop offset=".37" stop-opacity=".65"/><stop offset=".38" stop-opacity=".65"/><stop offset=".4" stop-opacity=".65"/><stop offset=".41" stop-opacity=".65"/><stop offset=".42" stop-opacity=".65"/><stop offset=".43" stop-opacity=".65"/><stop offset=".44" stop-opacity=".65"/><stop offset=".45" stop-opacity=".65"/><stop offset=".46" stop-opacity=".65"/><stop offset=".47" stop-opacity=".65"/><stop offset=".48" stop-opacity=".65"/><stop offset=".49" stop-opacity=".65"/><stop offset=".5" stop-opacity=".65"/><stop offset=".51" stop-opacity=".65"/><stop offset=".52" stop-opacity=".65"/><stop offset=".53" stop-opacity=".65"/><stop offset=".54" stop-opacity=".65"/><stop offset=".56" stop-opacity=".65"/><stop offset=".57" stop-opacity=".65"/><stop offset=".58" stop-opacity=".65"/><stop offset=".59" stop-opacity=".65"/><stop offset=".6" stop-opacity=".65"/><stop offset=".61" stop-opacity=".65"/><stop offset=".62" stop-opacity=".65"/><stop offset=".63" stop-opacity=".65"/><stop offset=".64" stop-opacity=".65"/><stop offset=".65" stop-opacity=".65"/><stop offset=".66" stop-opacity=".65"/><stop offset=".67" stop-opacity=".65"/><stop offset=".68" stop-opacity=".65"/><stop offset=".69" stop-opacity=".65"/><stop offset=".7" stop-opacity=".65"/><stop offset=".72" stop-opacity=".65"/><stop offset=".73" stop-opacity=".65"/><stop offset=".74" stop-opacity=".65"/><stop offset=".75" stop-opacity=".65"/><stop offset=".76" stop-opacity=".65"/><stop offset=".77" stop-opacity=".65"/><stop offset=".78" stop-opacity=".65"/><stop offset=".79" stop-opacity=".65"/><stop offset=".8" stop-opacity=".65"/><stop offset=".81" stop-opacity=".65"/><stop offset=".82" stop-opacity=".65"/><stop offset=".83" stop-opacity=".65"/><stop offset=".84" stop-opacity=".65"/><stop offset=".85" stop-opacity=".65"/><stop offset=".86" stop-opacity=".65"/><stop offset=".88" stop-opacity=".65"/><stop offset=".89" stop-opacity=".65"/><stop offset=".9" stop-opacity=".65"/><stop offset=".91" stop-opacity=".65"/><stop offset=".92" stop-opacity=".65"/><stop offset=".93" stop-opacity=".65"/><stop offset=".94" stop-opacity=".65"/><stop offset=".95" stop-opacity=".65"/><stop offset=".96" stop-opacity=".65"/><stop offset=".97" stop-opacity=".65"/><stop offset=".98" stop-opacity=".65"/><stop offset=".99" stop-opacity=".33"/><stop offset="1" stop-opacity="0"/></linearGradient>
<linearGradient id="g86" gradientUnits="userSpaceOnUse" x1="463.0" y1="0" x2="1306.0" y2="0"><stop offset="0" stop-opacity="0"/><stop offset=".01" stop-opacity=".88"/><stop offset=".02" stop-opacity=".88"/><stop offset=".03" stop-opacity=".88"/><stop offset=".04" stop-opacity=".88"/><stop offset=".05" stop-opacity=".88"/><stop offset=".06" stop-opacity=".88"/><stop offset=".07" stop-opacity=".88"/><stop offset=".09" stop-opacity=".88"/><stop offset=".1" stop-opacity=".88"/><stop offset=".11" stop-opacity=".88"/><stop offset=".12" stop-opacity=".88"/><stop offset=".13" stop-opacity=".88"/><stop offset=".14" stop-opacity=".88"/><stop offset=".15" stop-opacity=".88"/><stop offset=".16" stop-opacity=".88"/><stop offset=".17" stop-opacity=".88"/><stop offset=".18" stop-opacity=".88"/><stop offset=".19" stop-opacity=".88"/><stop offset=".2" stop-opacity=".88"/><stop offset=".21" stop-opacity=".88"/><stop offset=".22" stop-opacity=".88"/><stop offset=".23" stop-opacity=".88"/><stop offset=".25" stop-opacity=".88"/><stop offset=".26" stop-opacity=".88"/><stop offset=".27" stop-opacity=".88"/><stop offset=".28" stop-opacity=".88"/><stop offset=".29" stop-opacity=".88"/><stop offset=".3" stop-opacity=".88"/><stop offset=".31" stop-opacity=".88"/><stop offset=".32" stop-opacity=".88"/><stop offset=".33" stop-opacity=".88"/><stop offset=".34" stop-opacity=".88"/><stop offset=".35" stop-opacity=".88"/><stop offset=".36" stop-opacity=".88"/><stop offset=".37" stop-opacity=".88"/><stop offset=".38" stop-opacity=".88"/><stop offset=".4" stop-opacity=".88"/><stop offset=".41" stop-opacity=".88"/><stop offset=".42" stop-opacity=".88"/><stop offset=".43" stop-opacity=".88"/><stop offset=".44" stop-opacity=".88"/><stop offset=".45" stop-opacity=".88"/><stop offset=".46" stop-opacity=".88"/><stop offset=".47" stop-opacity=".88"/><stop offset=".48" stop-opacity=".88"/><stop offset=".49" stop-opacity=".88"/><stop offset=".5" stop-opacity=".88"/><stop offset=".51" stop-opacity=".88"/><stop offset=".52" stop-opacity=".88"/><stop offset=".53" stop-opacity=".88"/><stop offset=".54" stop-opacity=".88"/><stop offset=".56" stop-opacity=".88"/><stop offset=".57" stop-opacity=".88"/><stop offset=".58" stop-opacity=".88"/><stop offset=".59" stop-opacity=".88"/><stop offset=".6" stop-opacity=".88"/><stop offset=".61" stop-opacity=".88"/><stop offset=".62" stop-opacity=".88"/><stop offset=".63" stop-opacity=".88"/><stop offset=".64" stop-opacity=".88"/><stop offset=".65" stop-opacity=".88"/><stop offset=".66" stop-opacity=".88"/><stop offset=".67" stop-opacity=".88"/><stop offset=".68" stop-opacity=".88"/><stop offset=".69" stop-opacity=".88"/><stop offset=".7" stop-opacity=".88"/><stop offset=".72" stop-opacity=".88"/><stop offset=".73" stop-opacity=".88"/><stop offset=".74" stop-opacity=".88"/><stop offset=".75" stop-opacity=".88"/><stop offset=".76" stop-opacity=".88"/><stop offset=".77" stop-opacity=".88"/><stop offset=".78" stop-opacity=".88"/><stop offset=".79" stop-opacity=".88"/><stop offset=".8" stop-opacity=".88"/><stop offset=".81" stop-opacity=".88"/><stop offset=".82" stop-opacity=".88"/><stop offset=".83" stop-opacity=".88"/><stop offset=".84" stop-opacity=".88"/><stop offset=".85" stop-opacity=".88"/><stop offset=".86" stop-opacity=".88"/><stop offset=".88" stop-opacity=".88"/><stop offset=".89" stop-opacity=".88"/><stop offset=".9" stop-opacity=".88"/><stop offset=".91" stop-opacity=".88"/><stop offset=".92" stop-opacity=".88"/><stop offset=".93" stop-opacity=".88"/><stop offset=".94" stop-opacity=".88"/><stop offset=".95" stop-opacity=".88"/><stop offset=".96" stop-opacity=".88"/><stop offset=".97" stop-opacity=".88"/><stop offset=".98" stop-opacity=".88"/><stop offset=".99" stop-opacity=".44"/><stop offset="1" stop-opacity="0"/></linearGradient>
<linearGradient id="g87" gradientUnits="userSpaceOnUse" x1="463.0" y1="0" x2="1306.0" y2="0"><stop offset="0" stop-opacity="0"/><stop offset=".01" stop-opacity=".95"/><stop offset=".02" stop-opacity=".95"/><stop offset=".03" stop-opacity=".95"/><stop offset=".04" stop-opacity=".95"/><stop offset=".05" stop-opacity=".95"/><stop offset=".06" stop-opacity=".95"/><stop offset=".07" stop-opacity=".95"/><stop offset=".09" stop-opacity=".95"/><stop offset=".1" stop-opacity=".95"/><stop offset=".11" stop-opacity=".95"/><stop offset=".12" stop-opacity=".95"/><stop offset=".13" stop-opacity=".95"/><stop offset=".14" stop-opacity=".95"/><stop offset=".15" stop-opacity=".95"/><stop offset=".16" stop-opacity=".95"/><stop offset=".17" stop-opacity=".95"/><stop offset=".18" stop-opacity=".95"/><stop offset=".19" stop-opacity=".95"/><stop offset=".2" stop-opacity=".95"/><stop offset=".21" stop-opacity=".95"/><stop offset=".22" stop-opacity=".95"/><stop offset=".23" stop-opacity=".95"/><stop offset=".25" stop-opacity=".95"/><stop offset=".26" stop-opacity=".95"/><stop offset=".27" stop-opacity=".95"/><stop offset=".28" stop-opacity=".95"/><stop offset=".29" stop-opacity=".95"/><stop offset=".3" stop-opacity=".95"/><stop offset=".31" stop-opacity=".95"/><stop offset=".32" stop-opacity=".95"/><stop offset=".33" stop-opacity=".95"/><stop offset=".34" stop-opacity=".95"/><stop offset=".35" stop-opacity=".95"/><stop offset=".36" stop-opacity=".95"/><stop offset=".37" stop-opacity=".95"/><stop offset=".38" stop-opacity=".95"/><stop offset=".4" stop-opacity=".95"/><stop offset=".41" stop-opacity=".95"/><stop offset=".42" stop-opacity=".95"/><stop offset=".43" stop-opacity=".95"/><stop offset=".44" stop-opacity=".95"/><stop offset=".45" stop-opacity=".95"/><stop offset=".46" stop-opacity=".95"/><stop offset=".47" stop-opacity=".95"/><stop offset=".48" stop-opacity=".95"/><stop offset=".49" stop-opacity=".95"/><stop offset=".5" stop-opacity=".95"/><stop offset=".51" stop-opacity=".95"/><stop offset=".52" stop-opacity=".95"/><stop offset=".53" stop-opacity=".95"/><stop offset=".54" stop-opacity=".95"/><stop offset=".56" stop-opacity=".95"/><stop offset=".57" stop-opacity=".95"/><stop offset=".58" stop-opacity=".95"/><stop offset=".59" stop-opacity=".95"/><stop offset=".6" stop-opacity=".95"/><stop offset=".61" stop-opacity=".95"/><stop offset=".62" stop-opacity=".95"/><stop offset=".63" stop-opacity=".95"/><stop offset=".64" stop-opacity=".95"/><stop offset=".65" stop-opacity=".95"/><stop offset=".66" stop-opacity=".95"/><stop offset=".67" stop-opacity=".95"/><stop offset=".68" stop-opacity=".95"/><stop offset=".69" stop-opacity=".95"/><stop offset=".7" stop-opacity=".95"/><stop offset=".72" stop-opacity=".95"/><stop offset=".73" stop-opacity=".95"/><stop offset=".74" stop-opacity=".95"/><stop offset=".75" stop-opacity=".95"/><stop offset=".76" stop-opacity=".95"/><stop offset=".77" stop-opacity=".95"/><stop offset=".78" stop-opacity=".95"/><stop offset=".79" stop-opacity=".95"/><stop offset=".8" stop-opacity=".95"/><stop offset=".81" stop-opacity=".95"/><stop offset=".82" stop-opacity=".95"/><stop offset=".83" stop-opacity=".95"/><stop offset=".84" stop-opacity=".95"/><stop offset=".85" stop-opacity=".95"/><stop offset=".86" stop-opacity=".95"/><stop offset=".88" stop-opacity=".95"/><stop offset=".89" stop-opacity=".95"/><stop offset=".9" stop-opacity=".95"/><stop offset=".91" stop-opacity=".95"/><stop offset=".92" stop-opacity=".95"/><stop offset=".93" stop-opacity=".95"/><stop offset=".94" stop-opacity=".95"/><stop offset=".95" stop-opacity=".95"/><stop offset=".96" stop-opacity=".95"/><stop offset=".97" stop-opacity=".95"/><stop offset=".98" stop-opacity=".95"/><stop offset=".99" stop-opacity=".47"/><stop offset="1" stop-opacity="0"/></linearGradient>
<linearGradient id="g88" gradientUnits="userSpaceOnUse" x1="463.0" y1="0" x2="1306.0" y2="0"><stop offset="0" stop-opacity="0"/><stop offset=".01" stop-opacity=".75"/><stop offset=".02" stop-opacity=".75"/><stop offset=".03" stop-opacity=".75"/><stop offset=".04" stop-opacity=".75"/><stop offset=".05" stop-opacity=".75"/><stop offset=".06" stop-opacity=".75"/><stop offset=".07" stop-opacity=".75"/><stop offset=".09" stop-opacity=".75"/><stop offset=".1" stop-opacity=".75"/><stop offset=".11" stop-opacity=".75"/><stop offset=".12" stop-opacity=".75"/><stop offset=".13" stop-opacity=".75"/><stop offset=".14" stop-opacity=".75"/><stop offset=".15" stop-opacity=".75"/><stop offset=".16" stop-opacity=".75"/><stop offset=".17" stop-opacity=".75"/><stop offset=".18" stop-opacity=".75"/><stop offset=".19" stop-opacity=".75"/><stop offset=".2" stop-opacity=".75"/><stop offset=".21" stop-opacity=".75"/><stop offset=".22" stop-opacity=".75"/><stop offset=".23" stop-opacity=".75"/><stop offset=".25" stop-opacity=".75"/><stop offset=".26" stop-opacity=".75"/><stop offset=".27" stop-opacity=".75"/><stop offset=".28" stop-opacity=".75"/><stop offset=".29" stop-opacity=".75"/><stop offset=".3" stop-opacity=".75"/><stop offset=".31" stop-opacity=".75"/><stop offset=".32" stop-opacity=".75"/><stop offset=".33" stop-opacity=".75"/><stop offset=".34" stop-opacity=".75"/><stop offset=".35" stop-opacity=".75"/><stop offset=".36" stop-opacity=".75"/><stop offset=".37" stop-opacity=".75"/><stop offset=".38" stop-opacity=".75"/><stop offset=".4" stop-opacity=".75"/><stop offset=".41" stop-opacity=".75"/><stop offset=".42" stop-opacity=".75"/><stop offset=".43" stop-opacity=".75"/><stop offset=".44" stop-opacity=".75"/><stop offset=".45" stop-opacity=".75"/><stop offset=".46" stop-opacity=".75"/><stop offset=".47" stop-opacity=".75"/><stop offset=".48" stop-opacity=".75"/><stop offset=".49" stop-opacity=".75"/><stop offset=".5" stop-opacity=".75"/><stop offset=".51" stop-opacity=".75"/><stop offset=".52" stop-opacity=".75"/><stop offset=".53" stop-opacity=".75"/><stop offset=".54" stop-opacity=".75"/><stop offset=".56" stop-opacity=".75"/><stop offset=".57" stop-opacity=".75"/><stop offset=".58" stop-opacity=".75"/><stop offset=".59" stop-opacity=".75"/><stop offset=".6" stop-opacity=".75"/><stop offset=".61" stop-opacity=".75"/><stop offset=".62" stop-opacity=".75"/><stop offset=".63" stop-opacity=".75"/><stop offset=".64" stop-opacity=".75"/><stop offset=".65" stop-opacity=".75"/><stop offset=".66" stop-opacity=".75"/><stop offset=".67" stop-opacity=".75"/><stop offset=".68" stop-opacity=".75"/><stop offset=".69" stop-opacity=".75"/><stop offset=".7" stop-opacity=".75"/><stop offset=".72" stop-opacity=".75"/><stop offset=".73" stop-opacity=".75"/><stop offset=".74" stop-opacity=".75"/><stop offset=".75" stop-opacity=".75"/><stop offset=".76" stop-opacity=".75"/><stop offset=".77" stop-opacity=".75"/><stop offset=".78" stop-opacity=".75"/><stop offset=".79" stop-opacity=".75"/><stop offset=".8" stop-opacity=".75"/><stop offset=".81" stop-opacity=".75"/><stop offset=".82" stop-opacity=".75"/><stop offset=".83" stop-opacity=".75"/><stop offset=".84" stop-opacity=".75"/><stop offset=".85" stop-opacity=".75"/><stop offset=".86" stop-opacity=".75"/><stop offset=".88" stop-opacity=".75"/><stop offset=".89" stop-opacity=".75"/><stop offset=".9" stop-opacity=".75"/><stop offset=".91" stop-opacity=".75"/><stop offset=".92" stop-opacity=".75"/><stop offset=".93" stop-opacity=".75"/><stop offset=".94" stop-opacity=".75"/><stop offset=".95" stop-opacity=".75"/><stop offset=".96" stop-opacity=".75"/><stop offset=".97" stop-opacity=".75"/><stop offset=".98" stop-opacity=".75"/><stop offset=".99" stop-opacity=".38"/><stop offset="1" stop-opacity="0"/></linearGradient>
<linearGradient id="g89" gradientUnits="userSpaceOnUse" x1="559.0" y1="0" x2="1297.0" y2="0"><stop offset="0" stop-opacity="0"/><stop offset=".01" stop-opacity=".5"/><stop offset=".02" stop-opacity=".5"/><stop offset=".04" stop-opacity=".5"/><stop offset=".05" stop-opacity=".5"/><stop offset=".06" stop-opacity=".5"/><stop offset=".07" stop-opacity=".5"/><stop offset=".09" stop-opacity=".5"/><stop offset=".1" stop-opacity=".5"/><stop offset=".11" stop-opacity=".5"/><stop offset=".12" stop-opacity=".5"/><stop offset=".13" stop-opacity=".5"/><stop offset=".15" stop-opacity=".5"/><stop offset=".16" stop-opacity=".5"/><stop offset=".17" stop-opacity=".5"/><stop offset=".18" stop-opacity=".5"/><stop offset=".2" stop-opacity=".5"/><stop offset=".21" stop-opacity=".5"/><stop offset=".22" stop-opacity=".5"/><stop offset=".23" stop-opacity=".5"/><stop offset=".24" stop-opacity=".5"/><stop offset=".26" stop-opacity=".5"/><stop offset=".27" stop-opacity=".5"/><stop offset=".28" stop-opacity=".5"/><stop offset=".29" stop-opacity=".5"/><stop offset=".3" stop-opacity=".5"/><stop offset=".32" stop-opacity=".5"/><stop offset=".33" stop-opacity=".5"/><stop offset=".34" stop-opacity=".5"/><stop offset=".35" stop-opacity=".5"/><stop offset=".37" stop-opacity=".5"/><stop offset=".38" stop-opacity=".5"/><stop offset=".39" stop-opacity=".5"/><stop offset=".4" stop-opacity=".5"/><stop offset=".41" stop-opacity=".5"/><stop offset=".43" stop-opacity=".5"/><stop offset=".44" stop-opacity=".5"/><stop offset=".45" stop-opacity=".5"/><stop offset=".46" stop-opacity=".5"/><stop offset=".48" stop-opacity=".5"/><stop offset=".49" stop-opacity=".5"/><stop offset=".5" stop-opacity=".5"/><stop offset=".51" stop-opacity=".5"/><stop offset=".52" stop-opacity=".5"/><stop offset=".54" stop-opacity=".5"/><stop offset=".55" stop-opacity=".5"/><stop offset=".56" stop-opacity=".5"/><stop offset=".57" stop-opacity=".5"/><stop offset=".59" stop-opacity=".5"/><stop offset=".6" stop-opacity=".5"/><stop offset=".61" stop-opacity=".5"/><stop offset=".62" stop-opacity=".5"/><stop offset=".63" stop-opacity=".5"/><stop offset=".65" stop-opacity=".5"/><stop offset=".66" stop-opacity=".5"/><stop offset=".67" stop-opacity=".5"/><stop offset=".68" stop-opacity=".5"/><stop offset=".7" stop-opacity=".5"/><stop offset=".71" stop-opacity=".5"/><stop offset=".72" stop-opacity=".5"/><stop offset=".73" stop-opacity=".5"/><stop offset=".74" stop-opacity=".5"/><stop offset=".76" stop-opacity=".5"/><stop offset=".77" stop-opacity=".5"/><stop offset=".78" stop-opacity=".5"/><stop offset=".79" stop-opacity=".5"/><stop offset=".8" stop-opacity=".5"/><stop offset=".82" stop-opacity=".5"/><stop offset=".83" stop-opacity=".5"/><stop offset=".84" stop-opacity=".5"/><stop offset=".85" stop-opacity=".5"/><stop offset=".87" stop-opacity=".5"/><stop offset=".88" stop-opacity=".5"/><stop offset=".89" stop-opacity=".5"/><stop offset=".9" stop-opacity=".5"/><stop offset=".91" stop-opacity=".5"/><stop offset=".93" stop-opacity=".5"/><stop offset=".94" stop-opacity=".5"/><stop offset=".95" stop-opacity=".5"/><stop offset=".96" stop-opacity=".5"/><stop offset=".98" stop-opacity=".5"/><stop offset=".99" stop-opacity=".33"/><stop offset="1" stop-opacity="0"/></linearGradient>
<linearGradient id="g90" gradientUnits="userSpaceOnUse" x1="559.0" y1="0" x2="1297.0" y2="0"><stop offset="0" stop-opacity="0"/><stop offset=".01" stop-opacity=".2"/><stop offset=".02" stop-opacity=".2"/><stop offset=".04" stop-opacity=".2"/><stop offset=".05" stop-opacity=".2"/><stop offset=".06" stop-opacity=".2"/><stop offset=".07" stop-opacity=".2"/><stop offset=".09" stop-opacity=".22"/><stop offset=".1" stop-opacity=".33"/><stop offset=".11" stop-opacity=".45"/><stop offset=".12" stop-opacity=".45"/><stop offset=".13" stop-opacity=".45"/><stop offset=".15" stop-opacity=".45"/><stop offset=".16" stop-opacity=".45"/><stop offset=".17" stop-opacity=".45"/><stop offset=".18" stop-opacity=".45"/><stop offset=".2" stop-opacity=".45"/><stop offset=".21" stop-opacity=".42"/><stop offset=".22" stop-opacity=".38"/><stop offset=".23" stop-opacity=".34"/><stop offset=".24" stop-opacity=".3"/><stop offset=".26" stop-opacity=".27"/><stop offset=".27" stop-opacity=".23"/><stop offset=".28" stop-opacity=".2"/><stop offset=".29" stop-opacity=".2"/><stop offset=".3" stop-opacity=".2"/><stop offset=".32" stop-opacity=".2"/><stop offset=".33" stop-opacity=".2"/><stop offset=".34" stop-opacity=".2"/><stop offset=".35" stop-opacity=".2"/><stop offset=".37" stop-opacity=".2"/><stop offset=".38" stop-opacity=".2"/><stop offset=".39" stop-opacity=".2"/><stop offset=".4" stop-opacity=".2"/><stop offset=".41" stop-opacity=".2"/><stop offset=".43" stop-opacity=".2"/><stop offset=".44" stop-opacity=".2"/><stop offset=".45" stop-opacity=".2"/><stop offset=".46" stop-opacity=".2"/><stop offset=".48" stop-opacity=".2"/><stop offset=".49" stop-opacity=".2"/><stop offset=".5" stop-opacity=".2"/><stop offset=".51" stop-opacity=".2"/><stop offset=".52" stop-opacity=".2"/><stop offset=".54" stop-opacity=".2"/><stop offset=".55" stop-opacity=".2"/><stop offset=".56" stop-opacity=".2"/><stop offset=".57" stop-opacity=".2"/><stop offset=".59" stop-opacity=".2"/><stop offset=".6" stop-opacity=".2"/><stop offset=".61" stop-opacity=".2"/><stop offset=".62" stop-opacity=".2"/><stop offset=".63" stop-opacity=".2"/><stop offset=".65" stop-opacity=".2"/><stop offset=".66" stop-opacity=".2"/><stop offset=".67" stop-opacity=".2"/><stop offset=".68" stop-opacity=".2"/><stop offset=".7" stop-opacity=".2"/><stop offset=".71" stop-opacity=".2"/><stop offset=".72" stop-opacity=".2"/><stop offset=".73" stop-opacity=".2"/><stop offset=".74" stop-opacity=".2"/><stop offset=".76" stop-opacity=".2"/><stop offset=".77" stop-opacity=".2"/><stop offset=".78" stop-opacity=".2"/><stop offset=".79" stop-opacity=".2"/><stop offset=".8" stop-opacity=".2"/><stop offset=".82" stop-opacity=".2"/><stop offset=".83" stop-opacity=".2"/><stop offset=".84" stop-opacity=".2"/><stop offset=".85" stop-opacity=".2"/><stop offset=".87" stop-opacity=".2"/><stop offset=".88" stop-opacity=".2"/><stop offset=".89" stop-opacity=".2"/><stop offset=".9" stop-opacity=".2"/><stop offset=".91" stop-opacity=".2"/><stop offset=".93" stop-opacity=".32"/><stop offset=".94" stop-opacity=".35"/><stop offset=".95" stop-opacity=".35"/><stop offset=".96" stop-opacity=".35"/><stop offset=".98" stop-opacity=".35"/><stop offset=".99" stop-opacity=".19"/><stop offset="1" stop-opacity="0"/></linearGradient>
<linearGradient id="g91" gradientUnits="userSpaceOnUse" x1="559.0" y1="0" x2="1294.0" y2="0"><stop offset="0" stop-opacity="0"/><stop offset=".01" stop-opacity=".08"/><stop offset=".02" stop-opacity=".08"/><stop offset=".04" stop-opacity=".08"/><stop offset=".05" stop-opacity=".08"/><stop offset=".06" stop-opacity=".08"/><stop offset=".07" stop-opacity=".1"/><stop offset=".09" stop-opacity=".22"/><stop offset=".1" stop-opacity=".33"/><stop offset=".11" stop-opacity=".45"/><stop offset=".12" stop-opacity=".45"/><stop offset=".13" stop-opacity=".45"/><stop offset=".15" stop-opacity=".45"/><stop offset=".16" stop-opacity=".45"/><stop offset=".17" stop-opacity=".45"/><stop offset=".18" stop-opacity=".45"/><stop offset=".2" stop-opacity=".45"/><stop offset=".21" stop-opacity=".42"/><stop offset=".22" stop-opacity=".38"/><stop offset=".23" stop-opacity=".34"/><stop offset=".24" stop-opacity=".3"/><stop offset=".26" stop-opacity=".27"/><stop offset=".27" stop-opacity=".23"/><stop offset=".28" stop-opacity=".19"/><stop offset=".29" stop-opacity=".15"/><stop offset=".31" stop-opacity=".11"/><stop offset=".32" stop-opacity=".2"/><stop offset=".33" stop-opacity=".3"/><stop offset=".34" stop-opacity=".3"/><stop offset=".36" stop-opacity=".3"/><stop offset=".37" stop-opacity=".3"/><stop offset=".38" stop-opacity=".3"/><stop offset=".39" stop-opacity=".3"/><stop offset=".4" stop-opacity=".3"/><stop offset=".42" stop-opacity=".3"/><stop offset=".43" stop-opacity=".3"/><stop offset=".44" stop-opacity=".3"/><stop offset=".45" stop-opacity=".29"/><stop offset=".47" stop-opacity=".23"/><stop offset=".48" stop-opacity=".17"/><stop offset=".49" stop-opacity=".11"/><stop offset=".5" stop-opacity=".08"/><stop offset=".51" stop-opacity=".08"/><stop offset=".53" stop-opacity=".08"/><stop offset=".54" stop-opacity=".08"/><stop offset=".55" stop-opacity=".08"/><stop offset=".56" stop-opacity=".08"/><stop offset=".58" stop-opacity=".08"/><stop offset=".59" stop-opacity=".08"/><stop offset=".6" stop-opacity=".08"/><stop offset=".61" stop-opacity=".08"/><stop offset=".62" stop-opacity=".08"/><stop offset=".64" stop-opacity=".08"/><stop offset=".65" stop-opacity=".08"/><stop offset=".66" stop-opacity=".2"/><stop offset=".67" stop-opacity=".3"/><stop offset=".69" stop-opacity=".3"/><stop offset=".7" stop-opacity=".3"/><stop offset=".71" stop-opacity=".3"/><stop offset=".72" stop-opacity=".3"/><stop offset=".73" stop-opacity=".17"/><stop offset=".75" stop-opacity=".08"/><stop offset=".76" stop-opacity=".08"/><stop offset=".77" stop-opacity=".08"/><stop offset=".78" stop-opacity=".08"/><stop offset=".8" stop-opacity=".08"/><stop offset=".81" stop-opacity=".08"/><stop offset=".82" stop-opacity=".08"/><stop offset=".83" stop-opacity=".08"/><stop offset=".84" stop-opacity=".08"/><stop offset=".86" stop-opacity=".08"/><stop offset=".87" stop-opacity=".08"/><stop offset=".88" stop-opacity=".08"/><stop offset=".89" stop-opacity=".08"/><stop offset=".91" stop-opacity=".08"/><stop offset=".92" stop-opacity=".08"/><stop offset=".93" stop-opacity=".08"/><stop offset=".94" stop-opacity=".08"/><stop offset=".96" stop-opacity=".08"/><stop offset=".97" stop-opacity=".08"/><stop offset=".98" stop-opacity=".08"/><stop offset=".99" stop-opacity=".05"/><stop offset="1" stop-opacity=".01"/></linearGradient>
<linearGradient id="g92" gradientUnits="userSpaceOnUse" x1="604.0" y1="0" x2="934.0" y2="0"><stop offset="0" stop-opacity="0"/><stop offset=".03" stop-opacity=".1"/><stop offset=".05" stop-opacity=".22"/><stop offset=".08" stop-opacity=".33"/><stop offset=".11" stop-opacity=".45"/><stop offset=".14" stop-opacity=".45"/><stop offset=".16" stop-opacity=".45"/><stop offset=".19" stop-opacity=".45"/><stop offset=".22" stop-opacity=".45"/><stop offset=".25" stop-opacity=".45"/><stop offset=".27" stop-opacity=".45"/><stop offset=".3" stop-opacity=".45"/><stop offset=".33" stop-opacity=".42"/><stop offset=".35" stop-opacity=".38"/><stop offset=".38" stop-opacity=".34"/><stop offset=".41" stop-opacity=".3"/><stop offset=".44" stop-opacity=".27"/><stop offset=".46" stop-opacity=".23"/><stop offset=".49" stop-opacity=".19"/><stop offset=".52" stop-opacity=".15"/><stop offset=".55" stop-opacity=".11"/><stop offset=".57" stop-opacity=".2"/><stop offset=".6" stop-opacity=".3"/><stop offset=".63" stop-opacity=".3"/><stop offset=".65" stop-opacity=".3"/><stop offset=".68" stop-opacity=".3"/><stop offset=".71" stop-opacity=".3"/><stop offset=".74" stop-opacity=".3"/><stop offset=".76" stop-opacity=".3"/><stop offset=".79" stop-opacity=".3"/><stop offset=".82" stop-opacity=".3"/><stop offset=".85" stop-opacity=".3"/><stop offset=".87" stop-opacity=".29"/><stop offset=".9" stop-opacity=".23"/><stop offset=".93" stop-opacity=".17"/><stop offset=".95" stop-opacity=".11"/><stop offset=".98" stop-opacity=".05"/><stop offset="1" stop-opacity=".01"/></linearGradient>
<linearGradient id="g93" gradientUnits="userSpaceOnUse" x1="1033.0" y1="0" x2="1111.0" y2="0"><stop offset="0" stop-opacity="0"/><stop offset=".12" stop-opacity=".14"/><stop offset=".23" stop-opacity=".3"/><stop offset=".35" stop-opacity=".3"/><stop offset=".46" stop-opacity=".3"/><stop offset=".58" stop-opacity=".3"/><stop offset=".69" stop-opacity=".3"/><stop offset=".81" stop-opacity=".21"/><stop offset=".92" stop-opacity=".07"/><stop offset="1" stop-opacity="0"/></linearGradient>
<linearGradient id="g94" gradientUnits="userSpaceOnUse" x1="604.0" y1="0" x2="808.0" y2="0"><stop offset="0" stop-opacity="0"/><stop offset=".04" stop-opacity=".1"/><stop offset=".09" stop-opacity=".22"/><stop offset=".13" stop-opacity=".33"/><stop offset=".18" stop-opacity=".45"/><stop offset=".22" stop-opacity=".45"/><stop offset=".26" stop-opacity=".45"/><stop offset=".31" stop-opacity=".45"/><stop offset=".35" stop-opacity=".45"/><stop offset=".4" stop-opacity=".45"/><stop offset=".44" stop-opacity=".45"/><stop offset=".49" stop-opacity=".45"/><stop offset=".53" stop-opacity=".42"/><stop offset=".57" stop-opacity=".38"/><stop offset=".62" stop-opacity=".34"/><stop offset=".66" stop-opacity=".3"/><stop offset=".71" stop-opacity=".27"/><stop offset=".75" stop-opacity=".23"/><stop offset=".79" stop-opacity=".19"/><stop offset=".84" stop-opacity=".15"/><stop offset=".88" stop-opacity=".11"/><stop offset=".93" stop-opacity=".07"/><stop offset=".97" stop-opacity=".03"/><stop offset="1" stop-opacity=".01"/></linearGradient>
<linearGradient id="g95" gradientUnits="userSpaceOnUse" x1="622.0" y1="0" x2="715.0" y2="0"><stop offset="0" stop-opacity="0"/><stop offset=".1" stop-opacity=".12"/><stop offset=".19" stop-opacity=".27"/><stop offset=".29" stop-opacity=".3"/><stop offset=".39" stop-opacity=".3"/><stop offset=".48" stop-opacity=".3"/><stop offset=".58" stop-opacity=".3"/><stop offset=".68" stop-opacity=".3"/><stop offset=".77" stop-opacity=".25"/><stop offset=".87" stop-opacity=".14"/><stop offset=".97" stop-opacity=".02"/><stop offset="1" stop-opacity="0"/></linearGradient>
<linearGradient id="g96" gradientUnits="userSpaceOnUse" x1="778.0" y1="0" x2="850.0" y2="0"><stop offset="0" stop-opacity="0"/><stop offset=".12" stop-opacity=".21"/><stop offset=".25" stop-opacity=".3"/><stop offset=".38" stop-opacity=".3"/><stop offset=".5" stop-opacity=".3"/><stop offset=".62" stop-opacity=".3"/><stop offset=".75" stop-opacity=".27"/><stop offset=".88" stop-opacity=".14"/><stop offset="1" stop-opacity="0"/></linearGradient>
<linearGradient id="g97" gradientUnits="userSpaceOnUse" x1="961.0" y1="0" x2="1054.0" y2="0"><stop offset="0" stop-opacity="0"/><stop offset=".1" stop-opacity=".18"/><stop offset=".19" stop-opacity=".3"/><stop offset=".29" stop-opacity=".3"/><stop offset=".39" stop-opacity=".3"/><stop offset=".48" stop-opacity=".3"/><stop offset=".58" stop-opacity=".3"/><stop offset=".68" stop-opacity=".3"/><stop offset=".77" stop-opacity=".26"/><stop offset=".87" stop-opacity=".16"/><stop offset=".97" stop-opacity=".05"/><stop offset="1" stop-opacity=".01"/></linearGradient>
<linearGradient id="g98" gradientUnits="userSpaceOnUse" x1="1153.0" y1="0" x2="1210.0" y2="0"><stop offset="0" stop-opacity="0"/><stop offset=".16" stop-opacity=".24"/><stop offset=".32" stop-opacity=".35"/><stop offset=".47" stop-opacity=".35"/><stop offset=".63" stop-opacity=".35"/><stop offset=".79" stop-opacity=".28"/><stop offset=".95" stop-opacity=".07"/><stop offset="1" stop-opacity="0"/></linearGradient>
<linearGradient id="g99" gradientUnits="userSpaceOnUse" x1="622.0" y1="0" x2="715.0" y2="0"><stop offset="0" stop-opacity="0"/><stop offset=".1" stop-opacity=".12"/><stop offset=".19" stop-opacity=".27"/><stop offset=".29" stop-opacity=".3"/><stop offset=".39" stop-opacity=".3"/><stop offset=".48" stop-opacity=".3"/><stop offset=".58" stop-opacity=".3"/><stop offset=".68" stop-opacity=".3"/><stop offset=".77" stop-opacity=".25"/><stop offset=".87" stop-opacity=".14"/><stop offset=".97" stop-opacity=".02"/><stop offset="1" stop-opacity="0"/></linearGradient>
<linearGradient id="g100" gradientUnits="userSpaceOnUse" x1="778.0" y1="0" x2="850.0" y2="0"><stop offset="0" stop-opacity="0"/><stop offset=".12" stop-opacity=".39"/><stop offset=".25" stop-opacity=".55"/><stop offset=".38" stop-opacity=".55"/><stop offset=".5" stop-opacity=".55"/><stop offset=".62" stop-opacity=".55"/><stop offset=".75" stop-opacity=".5"/><stop offset=".88" stop-opacity=".25"/><stop offset="1" stop-opacity="0"/></linearGradient>
<linearGradient id="g101" gradientUnits="userSpaceOnUse" x1="622.0" y1="0" x2="715.0" y2="0"><stop offset="0" stop-opacity="0"/><stop offset=".1" stop-opacity=".14"/><stop offset=".19" stop-opacity=".31"/><stop offset=".29" stop-opacity=".35"/><stop offset=".39" stop-opacity=".35"/><stop offset=".48" stop-opacity=".35"/><stop offset=".58" stop-opacity=".35"/><stop offset=".68" stop-opacity=".35"/><stop offset=".77" stop-opacity=".29"/><stop offset=".87" stop-opacity=".16"/><stop offset=".97" stop-opacity=".03"/><stop offset="1" stop-opacity="0"/></linearGradient>
<linearGradient id="g102" gradientUnits="userSpaceOnUse" x1="622.0" y1="0" x2="715.0" y2="0"><stop offset="0" stop-opacity="0"/><stop offset=".1" stop-opacity=".16"/><stop offset=".19" stop-opacity=".36"/><stop offset=".29" stop-opacity=".4"/><stop offset=".39" stop-opacity=".4"/><stop offset=".48" stop-opacity=".4"/><stop offset=".58" stop-opacity=".4"/><stop offset=".68" stop-opacity=".4"/><stop offset=".77" stop-opacity=".33"/><stop offset=".87" stop-opacity=".18"/><stop offset=".97" stop-opacity=".03"/><stop offset="1" stop-opacity="0"/></linearGradient>
<linearGradient id="g103" gradientUnits="userSpaceOnUse" x1="622.0" y1="0" x2="715.0" y2="0"><stop offset="0" stop-opacity="0"/><stop offset=".1" stop-opacity=".14"/><stop offset=".19" stop-opacity=".31"/><stop offset=".29" stop-opacity=".35"/><stop offset=".39" stop-opacity=".35"/><stop offset=".48" stop-opacity=".35"/><stop offset=".58" stop-opacity=".35"/><stop offset=".68" stop-opacity=".35"/><stop offset=".77" stop-opacity=".29"/><stop offset=".87" stop-opacity=".16"/><stop offset=".97" stop-opacity=".03"/><stop offset="1" stop-opacity="0"/></linearGradient>
<linearGradient id="g104" gradientUnits="userSpaceOnUse" x1="778.0" y1="0" x2="850.0" y2="0"><stop offset="0" stop-opacity="0"/><stop offset=".12" stop-opacity=".21"/><stop offset=".25" stop-opacity=".3"/><stop offset=".38" stop-opacity=".3"/><stop offset=".5" stop-opacity=".3"/><stop offset=".62" stop-opacity=".3"/><stop offset=".75" stop-opacity=".27"/><stop offset=".88" stop-opacity=".14"/><stop offset="1" stop-opacity="0"/></linearGradient>
<linearGradient id="g105" gradientUnits="userSpaceOnUse" x1="961.0" y1="0" x2="1054.0" y2="0"><stop offset="0" stop-opacity="0"/><stop offset=".1" stop-opacity=".18"/><stop offset=".19" stop-opacity=".3"/><stop offset=".29" stop-opacity=".3"/><stop offset=".39" stop-opacity=".3"/><stop offset=".48" stop-opacity=".3"/><stop offset=".58" stop-opacity=".3"/><stop offset=".68" stop-opacity=".3"/><stop offset=".77" stop-opacity=".26"/><stop offset=".87" stop-opacity=".16"/><stop offset=".97" stop-opacity=".05"/><stop offset="1" stop-opacity=".01"/></linearGradient>
<linearGradient id="g106" gradientUnits="userSpaceOnUse" x1="622.0" y1="0" x2="715.0" y2="0"><stop offset="0" stop-opacity="0"/><stop offset=".1" stop-opacity=".18"/><stop offset=".19" stop-opacity=".4"/><stop offset=".29" stop-opacity=".45"/><stop offset=".39" stop-opacity=".45"/><stop offset=".48" stop-opacity=".45"/><stop offset=".58" stop-opacity=".45"/><stop offset=".68" stop-opacity=".45"/><stop offset=".77" stop-opacity=".38"/><stop offset=".87" stop-opacity=".21"/><stop offset=".97" stop-opacity=".04"/><stop offset="1" stop-opacity="0"/></linearGradient>
<linearGradient id="g107" gradientUnits="userSpaceOnUse" x1="778.0" y1="0" x2="850.0" y2="0"><stop offset="0" stop-opacity="0"/><stop offset=".12" stop-opacity=".39"/><stop offset=".25" stop-opacity=".55"/><stop offset=".38" stop-opacity=".55"/><stop offset=".5" stop-opacity=".55"/><stop offset=".62" stop-opacity=".55"/><stop offset=".75" stop-opacity=".5"/><stop offset=".88" stop-opacity=".25"/><stop offset="1" stop-opacity="0"/></linearGradient>
<linearGradient id="g108" gradientUnits="userSpaceOnUse" x1="622.0" y1="0" x2="715.0" y2="0"><stop offset="0" stop-opacity="0"/><stop offset=".1" stop-opacity=".21"/><stop offset=".19" stop-opacity=".49"/><stop offset=".29" stop-opacity=".55"/><stop offset=".39" stop-opacity=".55"/><stop offset=".48" stop-opacity=".55"/><stop offset=".58" stop-opacity=".55"/><stop offset=".68" stop-opacity=".55"/><stop offset=".77" stop-opacity=".46"/><stop offset=".87" stop-opacity=".25"/><stop offset=".97" stop-opacity=".05"/><stop offset="1" stop-opacity="0"/></linearGradient>
<linearGradient id="g109" gradientUnits="userSpaceOnUse" x1="622.0" y1="0" x2="715.0" y2="0"><stop offset="0" stop-opacity="0"/><stop offset=".1" stop-opacity=".25"/><stop offset=".19" stop-opacity=".58"/><stop offset=".29" stop-opacity=".65"/><stop offset=".39" stop-opacity=".65"/><stop offset=".48" stop-opacity=".65"/><stop offset=".58" stop-opacity=".65"/><stop offset=".68" stop-opacity=".65"/><stop offset=".77" stop-opacity=".54"/><stop offset=".87" stop-opacity=".3"/><stop offset=".97" stop-opacity=".05"/><stop offset="1" stop-opacity="0"/></linearGradient>
<linearGradient id="g110" gradientUnits="userSpaceOnUse" x1="622.0" y1="0" x2="715.0" y2="0"><stop offset="0" stop-opacity="0"/><stop offset=".1" stop-opacity=".27"/><stop offset=".19" stop-opacity=".62"/><stop offset=".29" stop-opacity=".7"/><stop offset=".39" stop-opacity=".7"/><stop offset=".48" stop-opacity=".7"/><stop offset=".58" stop-opacity=".7"/><stop offset=".68" stop-opacity=".7"/><stop offset=".77" stop-opacity=".58"/><stop offset=".87" stop-opacity=".32"/><stop offset=".97" stop-opacity=".06"/><stop offset="1" stop-opacity="0"/></linearGradient>
<linearGradient id="g111" gradientUnits="userSpaceOnUse" x1="778.0" y1="0" x2="850.0" y2="0"><stop offset="0" stop-opacity="0"/><stop offset=".12" stop-opacity=".21"/><stop offset=".25" stop-opacity=".3"/><stop offset=".38" stop-opacity=".3"/><stop offset=".5" stop-opacity=".3"/><stop offset=".62" stop-opacity=".3"/><stop offset=".75" stop-opacity=".27"/><stop offset=".88" stop-opacity=".14"/><stop offset="1" stop-opacity="0"/></linearGradient>
<linearGradient id="g112" gradientUnits="userSpaceOnUse" x1="961.0" y1="0" x2="1054.0" y2="0"><stop offset="0" stop-opacity="0"/><stop offset=".1" stop-opacity=".18"/><stop offset=".19" stop-opacity=".3"/><stop offset=".29" stop-opacity=".3"/><stop offset=".39" stop-opacity=".3"/><stop offset=".48" stop-opacity=".3"/><stop offset=".58" stop-opacity=".3"/><stop offset=".68" stop-opacity=".3"/><stop offset=".77" stop-opacity=".26"/><stop offset=".87" stop-opacity=".16"/><stop offset=".97" stop-opacity=".05"/><stop offset="1" stop-opacity=".01"/></linearGradient>
<linearGradient id="g113" gradientUnits="userSpaceOnUse" x1="622.0" y1="0" x2="715.0" y2="0"><stop offset="0" stop-opacity="0"/><stop offset=".1" stop-opacity=".23"/><stop offset=".19" stop-opacity=".53"/><stop offset=".29" stop-opacity=".6"/><stop offset=".39" stop-opacity=".6"/><stop offset=".48" stop-opacity=".6"/><stop offset=".58" stop-opacity=".6"/><stop offset=".68" stop-opacity=".6"/><stop offset=".77" stop-opacity=".5"/><stop offset=".87" stop-opacity=".27"/><stop offset=".97" stop-opacity=".05"/><stop offset="1" stop-opacity="0"/></linearGradient>
<linearGradient id="g114" gradientUnits="userSpaceOnUse" x1="778.0" y1="0" x2="850.0" y2="0"><stop offset="0" stop-opacity="0"/><stop offset=".12" stop-opacity=".39"/><stop offset=".25" stop-opacity=".55"/><stop offset=".38" stop-opacity=".55"/><stop offset=".5" stop-opacity=".55"/><stop offset=".62" stop-opacity=".55"/><stop offset=".75" stop-opacity=".5"/><stop offset=".88" stop-opacity=".25"/><stop offset="1" stop-opacity="0"/></linearGradient>
<linearGradient id="g115" gradientUnits="userSpaceOnUse" x1="961.0" y1="0" x2="1054.0" y2="0"><stop offset="0" stop-opacity="0"/><stop offset=".1" stop-opacity=".18"/><stop offset=".19" stop-opacity=".3"/><stop offset=".29" stop-opacity=".3"/><stop offset=".39" stop-opacity=".3"/><stop offset=".48" stop-opacity=".3"/><stop offset=".58" stop-opacity=".3"/><stop offset=".68" stop-opacity=".3"/><stop offset=".77" stop-opacity=".26"/><stop offset=".87" stop-opacity=".16"/><stop offset=".97" stop-opacity=".05"/><stop offset="1" stop-opacity=".01"/></linearGradient>
<linearGradient id="g116" gradientUnits="userSpaceOnUse" x1="622.0" y1="0" x2="715.0" y2="0"><stop offset="0" stop-opacity="0"/><stop offset=".1" stop-opacity=".14"/><stop offset=".19" stop-opacity=".31"/><stop offset=".29" stop-opacity=".35"/><stop offset=".39" stop-opacity=".35"/><stop offset=".48" stop-opacity=".35"/><stop offset=".58" stop-opacity=".35"/><stop offset=".68" stop-opacity=".35"/><stop offset=".77" stop-opacity=".29"/><stop offset=".87" stop-opacity=".16"/><stop offset=".97" stop-opacity=".03"/><stop offset="1" stop-opacity="0"/></linearGradient>
<linearGradient id="g117" gradientUnits="userSpaceOnUse" x1="625.0" y1="0" x2="715.0" y2="0"><stop offset="0" stop-opacity=".01"/><stop offset=".1" stop-opacity=".11"/><stop offset=".2" stop-opacity=".2"/><stop offset=".3" stop-opacity=".2"/><stop offset=".4" stop-opacity=".2"/><stop offset=".5" stop-opacity=".2"/><stop offset=".6" stop-opacity=".2"/><stop offset=".7" stop-opacity=".2"/><stop offset=".8" stop-opacity=".14"/><stop offset=".9" stop-opacity=".07"/><stop offset="1" stop-opacity="0"/></linearGradient>
<linearGradient id="g118" gradientUnits="userSpaceOnUse" x1="463.0" y1="0" x2="604.0" y2="0"><stop offset="0" stop-opacity="0"/><stop offset=".06" stop-opacity=".7"/><stop offset=".13" stop-opacity=".7"/><stop offset=".19" stop-opacity=".7"/><stop offset=".26" stop-opacity=".7"/><stop offset=".32" stop-opacity=".7"/><stop offset=".38" stop-opacity=".7"/><stop offset=".45" stop-opacity=".7"/><stop offset=".51" stop-opacity=".7"/><stop offset=".57" stop-opacity=".7"/><stop offset=".64" stop-opacity=".7"/><stop offset=".7" stop-opacity=".7"/><stop offset=".77" stop-opacity=".7"/><stop offset=".83" stop-opacity=".67"/><stop offset=".89" stop-opacity=".42"/><stop offset=".96" stop-opacity=".17"/><stop offset="1" stop-opacity="0"/></linearGradient>
<linearGradient id="g119" gradientUnits="userSpaceOnUse" x1="463.0" y1="0" x2="601.0" y2="0"><stop offset="0" stop-opacity="0"/><stop offset=".07" stop-opacity=".75"/><stop offset=".13" stop-opacity=".75"/><stop offset=".2" stop-opacity=".75"/><stop offset=".26" stop-opacity=".75"/><stop offset=".33" stop-opacity=".75"/><stop offset=".39" stop-opacity=".75"/><stop offset=".46" stop-opacity=".75"/><stop offset=".52" stop-opacity=".75"/><stop offset=".59" stop-opacity=".75"/><stop offset=".65" stop-opacity=".75"/><stop offset=".72" stop-opacity=".75"/><stop offset=".78" stop-opacity=".75"/><stop offset=".85" stop-opacity=".6"/><stop offset=".91" stop-opacity=".33"/><stop offset=".98" stop-opacity=".06"/><stop offset="1" stop-opacity="0"/></linearGradient>
<linearGradient id="g120" gradientUnits="userSpaceOnUse" x1="463.0" y1="0" x2="598.0" y2="0"><stop offset="0" stop-opacity="0"/><stop offset=".07" stop-opacity=".6"/><stop offset=".13" stop-opacity=".6"/><stop offset=".2" stop-opacity=".6"/><stop offset=".27" stop-opacity=".6"/><stop offset=".33" stop-opacity=".6"/><stop offset=".4" stop-opacity=".6"/><stop offset=".47" stop-opacity=".6"/><stop offset=".53" stop-opacity=".6"/><stop offset=".6" stop-opacity=".6"/><stop offset=".67" stop-opacity=".6"/><stop offset=".73" stop-opacity=".6"/><stop offset=".8" stop-opacity=".6"/><stop offset=".87" stop-opacity=".43"/><stop offset=".93" stop-opacity=".22"/><stop offset="1" stop-opacity="0"/></linearGradient>
<linearGradient id="g121" gradientUnits="userSpaceOnUse" x1="466.0" y1="0" x2="565.0" y2="0"><stop offset="0" stop-opacity="0"/><stop offset=".09" stop-opacity=".5"/><stop offset=".18" stop-opacity=".5"/><stop offset=".27" stop-opacity=".5"/><stop offset=".36" stop-opacity=".5"/><stop offset=".45" stop-opacity=".5"/><stop offset=".55" stop-opacity=".5"/><stop offset=".64" stop-opacity=".5"/><stop offset=".73" stop-opacity=".5"/><stop offset=".82" stop-opacity=".36"/><stop offset=".91" stop-opacity=".18"/><stop offset="1" stop-opacity="0"/></linearGradient>
<linearGradient id="g122" gradientUnits="userSpaceOnUse" x1="466.0" y1="0" x2="529.0" y2="0"><stop offset="0" stop-opacity="0"/><stop offset=".14" stop-opacity=".53"/><stop offset=".29" stop-opacity=".6"/><stop offset=".43" stop-opacity=".6"/><stop offset=".57" stop-opacity=".6"/><stop offset=".71" stop-opacity=".41"/><stop offset=".86" stop-opacity=".19"/><stop offset="1" stop-opacity="0"/></linearGradient>
<linearGradient id="g123" gradientUnits="userSpaceOnUse" x1="466.0" y1="0" x2="550.0" y2="0"><stop offset="0" stop-opacity="0"/><stop offset=".11" stop-opacity=".75"/><stop offset=".21" stop-opacity=".75"/><stop offset=".32" stop-opacity=".75"/><stop offset=".43" stop-opacity=".75"/><stop offset=".54" stop-opacity=".75"/><stop offset=".64" stop-opacity=".75"/><stop offset=".75" stop-opacity=".57"/><stop offset=".86" stop-opacity=".3"/><stop offset=".96" stop-opacity=".03"/><stop offset="1" stop-opacity="0"/></linearGradient>
<linearGradient id="g124" gradientUnits="userSpaceOnUse" x1="466.0" y1="0" x2="553.0" y2="0"><stop offset="0" stop-opacity="0"/><stop offset=".1" stop-opacity=".75"/><stop offset=".21" stop-opacity=".75"/><stop offset=".31" stop-opacity=".75"/><stop offset=".41" stop-opacity=".75"/><stop offset=".52" stop-opacity=".75"/><stop offset=".62" stop-opacity=".75"/><stop offset=".72" stop-opacity=".69"/><stop offset=".83" stop-opacity=".42"/><stop offset=".93" stop-opacity=".15"/><stop offset="1" stop-opacity="0"/></linearGradient>
<linearGradient id="g125" gradientUnits="userSpaceOnUse" x1="466.0" y1="0" x2="523.0" y2="0"><stop offset="0" stop-opacity="0"/><stop offset=".16" stop-opacity=".53"/><stop offset=".32" stop-opacity=".6"/><stop offset=".47" stop-opacity=".6"/><stop offset=".63" stop-opacity=".48"/><stop offset=".79" stop-opacity=".26"/><stop offset=".95" stop-opacity=".05"/><stop offset="1" stop-opacity="0"/></linearGradient>
<linearGradient id="g126" gradientUnits="userSpaceOnUse" x1="469.0" y1="0" x2="499.0" y2="0"><stop offset="0" stop-opacity="0"/><stop offset=".3" stop-opacity=".4"/><stop offset=".6" stop-opacity=".22"/><stop offset=".9" stop-opacity=".04"/><stop offset="1" stop-opacity="0"/></linearGradient>
<linearGradient id="g127" gradientUnits="userSpaceOnUse" x1="469.0" y1="0" x2="496.0" y2="0"><stop offset="0" stop-opacity="0"/><stop offset=".33" stop-opacity=".32"/><stop offset=".67" stop-opacity=".16"/><stop offset="1" stop-opacity="0"/></linearGradient>
<linearGradient id="g128" gradientUnits="userSpaceOnUse" x1="484.0" y1="0" x2="523.0" y2="0"><stop offset="0" stop-opacity="0"/><stop offset=".23" stop-opacity=".22"/><stop offset=".46" stop-opacity=".25"/><stop offset=".69" stop-opacity=".2"/><stop offset=".92" stop-opacity=".04"/><stop offset="1" stop-opacity="0"/></linearGradient>
<linearGradient id="g129" gradientUnits="userSpaceOnUse" x1="484.0" y1="0" x2="523.0" y2="0"><stop offset="0" stop-opacity="0"/><stop offset=".23" stop-opacity=".22"/><stop offset=".46" stop-opacity=".25"/><stop offset=".69" stop-opacity=".2"/><stop offset=".92" stop-opacity=".04"/><stop offset="1" stop-opacity="0"/></linearGradient>
<linearGradient id="g130" gradientUnits="userSpaceOnUse" x1="484.0" y1="0" x2="523.0" y2="0"><stop offset="0" stop-opacity="0"/><stop offset=".23" stop-opacity=".22"/><stop offset=".46" stop-opacity=".25"/><stop offset=".69" stop-opacity=".2"/><stop offset=".92" stop-opacity=".04"/><stop offset="1" stop-opacity="0"/></linearGradient>
<linearGradient id="g131" gradientUnits="userSpaceOnUse" x1="484.0" y1="0" x2="523.0" y2="0"><stop offset="0" stop-opacity="0"/><stop offset=".23" stop-opacity=".22"/><stop offset=".46" stop-opacity=".25"/><stop offset=".69" stop-opacity=".2"/><stop offset=".92" stop-opacity=".04"/><stop offset="1" stop-opacity="0"/></linearGradient>
<linearGradient id="g132" gradientUnits="userSpaceOnUse" x1="484.0" y1="0" x2="523.0" y2="0"><stop offset="0" stop-opacity="0"/><stop offset=".23" stop-opacity=".22"/><stop offset=".46" stop-opacity=".25"/><stop offset=".69" stop-opacity=".2"/><stop offset=".92" stop-opacity=".04"/><stop offset="1" stop-opacity="0"/></linearGradient>
<linearGradient id="g133" gradientUnits="userSpaceOnUse" x1="484.0" y1="0" x2="523.0" y2="0"><stop offset="0" stop-opacity="0"/><stop offset=".23" stop-opacity=".22"/><stop offset=".46" stop-opacity=".25"/><stop offset=".69" stop-opacity=".2"/><stop offset=".92" stop-opacity=".04"/><stop offset="1" stop-opacity="0"/></linearGradient>
<linearGradient id="g134" gradientUnits="userSpaceOnUse" x1="484.0" y1="0" x2="523.0" y2="0"><stop offset="0" stop-opacity="0"/><stop offset=".23" stop-opacity=".22"/><stop offset=".46" stop-opacity=".25"/><stop offset=".69" stop-opacity=".2"/><stop offset=".92" stop-opacity=".04"/><stop offset="1" stop-opacity="0"/></linearGradient>
<linearGradient id="g135" gradientUnits="userSpaceOnUse" x1="484.0" y1="0" x2="523.0" y2="0"><stop offset="0" stop-opacity="0"/><stop offset=".23" stop-opacity=".22"/><stop offset=".46" stop-opacity=".25"/><stop offset=".69" stop-opacity=".2"/><stop offset=".92" stop-opacity=".04"/><stop offset="1" stop-opacity="0"/></linearGradient>
<linearGradient id="g136" gradientUnits="userSpaceOnUse" x1="1176.0" y1="0" x2="1182.0" y2="0"><stop offset="0" stop-opacity=".06"/><stop offset=".12" stop-opacity=".25"/><stop offset=".85" stop-opacity=".25"/><stop offset="1" stop-opacity=".04"/></linearGradient>
<linearGradient id="g137" gradientUnits="userSpaceOnUse" x1="1042.0" y1="0" x2="1052.0" y2="0"><stop offset="0" stop-opacity=".05"/><stop offset=".12" stop-opacity=".2"/><stop offset=".85" stop-opacity=".2"/><stop offset="1" stop-opacity=".03"/></linearGradient>
<linearGradient id="g138" gradientUnits="userSpaceOnUse" x1="180.0" y1="0" x2="212.8" y2="0"><stop offset="0" stop-opacity=".2"/><stop offset=".12" stop-opacity=".8"/><stop offset=".85" stop-opacity=".8"/><stop offset="1" stop-opacity=".12"/></linearGradient>
<linearGradient id="g139" gradientUnits="userSpaceOnUse" x1="205.0" y1="0" x2="312.0" y2="0"><stop offset="0" stop-opacity=".12"/><stop offset=".12" stop-opacity=".5"/><stop offset=".85" stop-opacity=".5"/><stop offset="1" stop-opacity=".07"/></linearGradient>
<linearGradient id="g140" gradientUnits="userSpaceOnUse" x1="205.0" y1="0" x2="301.0" y2="0"><stop offset="0" stop-opacity=".12"/><stop offset=".12" stop-opacity=".5"/><stop offset=".85" stop-opacity=".5"/><stop offset="1" stop-opacity=".07"/></linearGradient>
<linearGradient id="g141" gradientUnits="userSpaceOnUse" x1="212.0" y1="0" x2="317.0" y2="0"><stop offset="0" stop-opacity=".24"/><stop offset=".12" stop-opacity=".95"/><stop offset=".85" stop-opacity=".95"/><stop offset="1" stop-opacity=".14"/></linearGradient>
<linearGradient id="g142" gradientUnits="userSpaceOnUse" x1="212.0" y1="0" x2="311.0" y2="0"><stop offset="0" stop-opacity=".14"/><stop offset=".12" stop-opacity=".55"/><stop offset=".85" stop-opacity=".55"/><stop offset="1" stop-opacity=".08"/></linearGradient>
<linearGradient id="g143" gradientUnits="userSpaceOnUse" x1="214.0" y1="0" x2="306.0" y2="0"><stop offset="0" stop-opacity=".14"/><stop offset=".12" stop-opacity=".55"/><stop offset=".85" stop-opacity=".55"/><stop offset="1" stop-opacity=".08"/></linearGradient>
<linearGradient id="g144" gradientUnits="userSpaceOnUse" x1="214.0" y1="0" x2="305.0" y2="0"><stop offset="0" stop-opacity=".16"/><stop offset=".12" stop-opacity=".65"/><stop offset=".85" stop-opacity=".65"/><stop offset="1" stop-opacity=".1"/></linearGradient>
<linearGradient id="g145" gradientUnits="userSpaceOnUse" x1="216.0" y1="0" x2="303.0" y2="0"><stop offset="0" stop-opacity=".15"/><stop offset=".12" stop-opacity=".6"/><stop offset=".85" stop-opacity=".6"/><stop offset="1" stop-opacity=".09"/></linearGradient>
<linearGradient id="g146" gradientUnits="userSpaceOnUse" x1="232.0" y1="0" x2="300.0" y2="0"><stop offset="0" stop-opacity=".09"/><stop offset=".12" stop-opacity=".35"/><stop offset=".85" stop-opacity=".35"/><stop offset="1" stop-opacity=".05"/></linearGradient>
<linearGradient id="g147" gradientUnits="userSpaceOnUse" x1="240.0" y1="0" x2="300.0" y2="0"><stop offset="0" stop-opacity=".08"/><stop offset=".12" stop-opacity=".32"/><stop offset=".85" stop-opacity=".32"/><stop offset="1" stop-opacity=".05"/></linearGradient>
<linearGradient id="g148" gradientUnits="userSpaceOnUse" x1="245.0" y1="0" x2="295.0" y2="0"><stop offset="0" stop-opacity=".08"/><stop offset=".12" stop-opacity=".32"/><stop offset=".85" stop-opacity=".32"/><stop offset="1" stop-opacity=".05"/></linearGradient>
<linearGradient id="g149" gradientUnits="userSpaceOnUse" x1="222.0" y1="0" x2="290.0" y2="0"><stop offset="0" stop-opacity=".09"/><stop offset=".12" stop-opacity=".36"/><stop offset=".85" stop-opacity=".36"/><stop offset="1" stop-opacity=".05"/></linearGradient>
<linearGradient id="g150" gradientUnits="userSpaceOnUse" x1="218.0" y1="0" x2="275.0" y2="0"><stop offset="0" stop-opacity=".14"/><stop offset=".12" stop-opacity=".55"/><stop offset=".85" stop-opacity=".55"/><stop offset="1" stop-opacity=".08"/></linearGradient>
<linearGradient id="g151" gradientUnits="userSpaceOnUse" x1="225.0" y1="0" x2="262.0" y2="0"><stop offset="0" stop-opacity=".08"/><stop offset=".12" stop-opacity=".32"/><stop offset=".85" stop-opacity=".32"/><stop offset="1" stop-opacity=".05"/></linearGradient>
<linearGradient id="g152" gradientUnits="userSpaceOnUse" x1="240.0" y1="0" x2="260.0" y2="0"><stop offset="0" stop-opacity=".06"/><stop offset=".12" stop-opacity=".25"/><stop offset=".85" stop-opacity=".25"/><stop offset="1" stop-opacity=".04"/></linearGradient>
<linearGradient id="g153" gradientUnits="userSpaceOnUse" x1="222.0" y1="0" x2="252.0" y2="0"><stop offset="0" stop-opacity=".06"/><stop offset=".12" stop-opacity=".22"/><stop offset=".85" stop-opacity=".22"/><stop offset="1" stop-opacity=".03"/></linearGradient>
<linearGradient id="g154" gradientUnits="userSpaceOnUse" x1="222.0" y1="0" x2="247.0" y2="0"><stop offset="0" stop-opacity=".06"/><stop offset=".12" stop-opacity=".25"/><stop offset=".85" stop-opacity=".25"/><stop offset="1" stop-opacity=".04"/></linearGradient>
<linearGradient id="g155" gradientUnits="userSpaceOnUse" x1="225.0" y1="0" x2="245.0" y2="0"><stop offset="0" stop-opacity=".05"/><stop offset=".12" stop-opacity=".2"/><stop offset=".85" stop-opacity=".2"/><stop offset="1" stop-opacity=".03"/></linearGradient>
<linearGradient id="g156" gradientUnits="userSpaceOnUse" x1="228.0" y1="0" x2="240.0" y2="0"><stop offset="0" stop-opacity=".04"/><stop offset=".12" stop-opacity=".15"/><stop offset=".85" stop-opacity=".15"/><stop offset="1" stop-opacity=".02"/></linearGradient>
<linearGradient id="g157" gradientUnits="userSpaceOnUse" x1="411.0" y1="0" x2="526.0" y2="0"><stop offset="0" stop-opacity=".12"/><stop offset=".12" stop-opacity=".5"/><stop offset=".85" stop-opacity=".5"/><stop offset="1" stop-opacity=".07"/></linearGradient>
<linearGradient id="g158" gradientUnits="userSpaceOnUse" x1="400.0" y1="0" x2="518.0" y2="0"><stop offset="0" stop-opacity=".18"/><stop offset=".15" stop-opacity=".36"/><stop offset=".3" stop-opacity=".6"/><stop offset=".9" stop-opacity=".6"/><stop offset="1" stop-opacity=".12"/></linearGradient>
<linearGradient id="g159" gradientUnits="userSpaceOnUse" x1="398.0" y1="0" x2="523.0" y2="0"><stop offset="0" stop-opacity=".4"/><stop offset=".15" stop-opacity=".6"/><stop offset=".3" stop-opacity="1"/><stop offset=".9" stop-opacity="1"/><stop offset="1" stop-opacity=".2"/></linearGradient>
<linearGradient id="g160" gradientUnits="userSpaceOnUse" x1="398.0" y1="0" x2="524.0" y2="0"><stop offset="0" stop-opacity=".22"/><stop offset=".15" stop-opacity=".38"/><stop offset=".3" stop-opacity=".75"/><stop offset=".9" stop-opacity=".75"/><stop offset="1" stop-opacity=".15"/></linearGradient>
<linearGradient id="g161" gradientUnits="userSpaceOnUse" x1="398.0" y1="0" x2="505.0" y2="0"><stop offset="0" stop-opacity=".21"/><stop offset=".15" stop-opacity=".35"/><stop offset=".4" stop-opacity=".7"/><stop offset=".9" stop-opacity=".7"/><stop offset="1" stop-opacity=".14"/></linearGradient>
<linearGradient id="g162" gradientUnits="userSpaceOnUse" x1="398.0" y1="0" x2="513.0" y2="0"><stop offset="0" stop-opacity=".22"/><stop offset=".15" stop-opacity=".38"/><stop offset=".4" stop-opacity=".75"/><stop offset=".9" stop-opacity=".75"/><stop offset="1" stop-opacity=".15"/></linearGradient>
<linearGradient id="g163" gradientUnits="userSpaceOnUse" x1="400.0" y1="0" x2="514.0" y2="0"><stop offset="0" stop-opacity=".15"/><stop offset=".15" stop-opacity=".3"/><stop offset=".4" stop-opacity=".75"/><stop offset=".9" stop-opacity=".75"/><stop offset="1" stop-opacity=".15"/></linearGradient>
<linearGradient id="g164" gradientUnits="userSpaceOnUse" x1="402.0" y1="0" x2="516.0" y2="0"><stop offset="0" stop-opacity=".12"/><stop offset=".2" stop-opacity=".24"/><stop offset=".4" stop-opacity=".8"/><stop offset=".9" stop-opacity=".8"/><stop offset="1" stop-opacity=".16"/></linearGradient>
<linearGradient id="g165" gradientUnits="userSpaceOnUse" x1="405.0" y1="0" x2="486.0" y2="0"><stop offset="0" stop-opacity=".09"/><stop offset=".3" stop-opacity=".18"/><stop offset=".5" stop-opacity=".6"/><stop offset=".9" stop-opacity=".6"/><stop offset="1" stop-opacity=".12"/></linearGradient>
<linearGradient id="g166" gradientUnits="userSpaceOnUse" x1="410.0" y1="0" x2="509.0" y2="0"><stop offset="0" stop-opacity=".07"/><stop offset=".3" stop-opacity=".14"/><stop offset=".4" stop-opacity=".45"/><stop offset=".9" stop-opacity=".45"/><stop offset="1" stop-opacity=".09"/></linearGradient>
<linearGradient id="g167" gradientUnits="userSpaceOnUse" x1="443.0" y1="0" x2="503.0" y2="0"><stop offset="0" stop-opacity=".1"/><stop offset=".12" stop-opacity=".38"/><stop offset=".85" stop-opacity=".38"/><stop offset="1" stop-opacity=".06"/></linearGradient>
<linearGradient id="g168" gradientUnits="userSpaceOnUse" x1="443.0" y1="0" x2="493.0" y2="0"><stop offset="0" stop-opacity=".12"/><stop offset=".12" stop-opacity=".5"/><stop offset=".85" stop-opacity=".5"/><stop offset="1" stop-opacity=".07"/></linearGradient>
<linearGradient id="g169" gradientUnits="userSpaceOnUse" x1="443.0" y1="0" x2="506.0" y2="0"><stop offset="0" stop-opacity=".12"/><stop offset=".12" stop-opacity=".5"/><stop offset=".85" stop-opacity=".5"/><stop offset="1" stop-opacity=".07"/></linearGradient>
<linearGradient id="g170" gradientUnits="userSpaceOnUse" x1="443.0" y1="0" x2="501.0" y2="0"><stop offset="0" stop-opacity=".07"/><stop offset=".12" stop-opacity=".3"/><stop offset=".85" stop-opacity=".3"/><stop offset="1" stop-opacity=".04"/></linearGradient>
<linearGradient id="g171" gradientUnits="userSpaceOnUse" x1="445.0" y1="0" x2="490.0" y2="0"><stop offset="0" stop-opacity=".06"/><stop offset=".12" stop-opacity=".25"/><stop offset=".85" stop-opacity=".25"/><stop offset="1" stop-opacity=".04"/></linearGradient>
<linearGradient id="g172" gradientUnits="userSpaceOnUse" x1="445.0" y1="0" x2="480.0" y2="0"><stop offset="0" stop-opacity=".06"/><stop offset=".12" stop-opacity=".22"/><stop offset=".85" stop-opacity=".22"/><stop offset="1" stop-opacity=".03"/></linearGradient>
<linearGradient id="g173" gradientUnits="userSpaceOnUse" x1="445.0" y1="0" x2="470.0" y2="0"><stop offset="0" stop-opacity=".04"/><stop offset=".12" stop-opacity=".18"/><stop offset=".85" stop-opacity=".18"/><stop offset="1" stop-opacity=".03"/></linearGradient>
<linearGradient id="g174" gradientUnits="userSpaceOnUse" x1="440.0" y1="0" x2="455.0" y2="0"><stop offset="0" stop-opacity=".04"/><stop offset=".12" stop-opacity=".15"/><stop offset=".85" stop-opacity=".15"/><stop offset="1" stop-opacity=".02"/></linearGradient>
<linearGradient id="g175" gradientUnits="userSpaceOnUse" x1="830.0" y1="0" x2="1010.0" y2="0"><stop offset="0" stop-opacity=".11"/><stop offset=".12" stop-opacity=".45"/><stop offset=".85" stop-opacity=".45"/><stop offset="1" stop-opacity=".07"/></linearGradient>
<linearGradient id="g176" gradientUnits="userSpaceOnUse" x1="832.0" y1="0" x2="1000.0" y2="0"><stop offset="0" stop-opacity=".06"/><stop offset=".12" stop-opacity=".25"/><stop offset=".85" stop-opacity=".25"/><stop offset="1" stop-opacity=".04"/></linearGradient>
<linearGradient id="g177" gradientUnits="userSpaceOnUse" x1="0" y1="832.0" x2="0" y2="1040.0"><stop offset="0" stop-opacity="0"/><stop offset=".04" stop-opacity=".06"/><stop offset=".08" stop-opacity="0"/><stop offset=".16" stop-opacity="0"/><stop offset=".19" stop-opacity=".16"/><stop offset=".27" stop-opacity=".2"/><stop offset=".35" stop-opacity=".12"/><stop offset=".38" stop-opacity="0"/><stop offset=".51" stop-opacity=".02"/><stop offset=".57" stop-opacity=".32"/><stop offset=".64" stop-opacity=".72"/><stop offset=".71" stop-opacity=".32"/><stop offset=".78" stop-opacity=".16"/><stop offset=".83" stop-opacity=".4"/><stop offset=".86" stop-opacity=".76"/><stop offset=".9" stop-opacity=".4"/><stop offset=".94" stop-opacity=".18"/><stop offset="1" stop-opacity=".04"/></linearGradient>
<linearGradient id="g178" gradientUnits="userSpaceOnUse" x1="0" y1="832.0" x2="0" y2="1040.0"><stop offset="0" stop-opacity="0"/><stop offset=".04" stop-opacity=".04"/><stop offset=".08" stop-opacity="0"/><stop offset=".16" stop-opacity="0"/><stop offset=".19" stop-opacity=".07"/><stop offset=".27" stop-opacity=".08"/><stop offset=".35" stop-opacity=".05"/><stop offset=".38" stop-opacity="0"/><stop offset=".51" stop-opacity=".02"/><stop offset=".57" stop-opacity=".22"/><stop offset=".64" stop-opacity=".5"/><stop offset=".71" stop-opacity=".22"/><stop offset=".78" stop-opacity=".11"/><stop offset=".83" stop-opacity=".28"/><stop offset=".86" stop-opacity=".52"/><stop offset=".9" stop-opacity=".28"/><stop offset=".94" stop-opacity=".12"/><stop offset="1" stop-opacity=".03"/></linearGradient>
<linearGradient id="g179" gradientUnits="userSpaceOnUse" x1="0" y1="832.0" x2="0" y2="1040.0"><stop offset="0" stop-opacity="0"/><stop offset=".04" stop-opacity=".06"/><stop offset=".08" stop-opacity="0"/><stop offset=".16" stop-opacity="0"/><stop offset=".19" stop-opacity=".18"/><stop offset=".27" stop-opacity=".22"/><stop offset=".35" stop-opacity=".13"/><stop offset=".38" stop-opacity="0"/><stop offset=".51" stop-opacity=".02"/><stop offset=".57" stop-opacity=".3"/><stop offset=".64" stop-opacity=".68"/><stop offset=".71" stop-opacity=".3"/><stop offset=".78" stop-opacity=".15"/><stop offset=".83" stop-opacity=".38"/><stop offset=".86" stop-opacity=".71"/><stop offset=".9" stop-opacity=".38"/><stop offset=".94" stop-opacity=".17"/><stop offset="1" stop-opacity=".04"/></linearGradient>
<linearGradient id="g180" gradientUnits="userSpaceOnUse" x1="0" y1="832.0" x2="0" y2="1040.0"><stop offset="0" stop-opacity="0"/><stop offset=".04" stop-opacity=".04"/><stop offset=".08" stop-opacity="0"/><stop offset=".16" stop-opacity="0"/><stop offset=".19" stop-opacity=".13"/><stop offset=".27" stop-opacity=".17"/><stop offset=".35" stop-opacity=".1"/><stop offset=".38" stop-opacity="0"/><stop offset=".51" stop-opacity=".02"/><stop offset=".57" stop-opacity=".22"/><stop offset=".64" stop-opacity=".5"/><stop offset=".71" stop-opacity=".22"/><stop offset=".78" stop-opacity=".11"/><stop offset=".83" stop-opacity=".28"/><stop offset=".86" stop-opacity=".52"/><stop offset=".9" stop-opacity=".28"/><stop offset=".94" stop-opacity=".12"/><stop offset="1" stop-opacity=".03"/></linearGradient>
<linearGradient id="g181" gradientUnits="userSpaceOnUse" x1="0" y1="832.0" x2="0" y2="1040.0"><stop offset="0" stop-opacity="0"/><stop offset=".04" stop-opacity=".06"/><stop offset=".08" stop-opacity="0"/><stop offset=".16" stop-opacity="0"/><stop offset=".19" stop-opacity=".19"/><stop offset=".27" stop-opacity=".24"/><stop offset=".35" stop-opacity=".14"/><stop offset=".38" stop-opacity="0"/><stop offset=".51" stop-opacity=".02"/><stop offset=".57" stop-opacity=".32"/><stop offset=".64" stop-opacity=".72"/><stop offset=".71" stop-opacity=".32"/><stop offset=".78" stop-opacity=".16"/><stop offset=".83" stop-opacity=".4"/><stop offset=".86" stop-opacity=".76"/><stop offset=".9" stop-opacity=".4"/><stop offset=".94" stop-opacity=".18"/><stop offset="1" stop-opacity=".04"/></linearGradient>
<linearGradient id="g182" gradientUnits="userSpaceOnUse" x1="0" y1="832.0" x2="0" y2="1040.0"><stop offset="0" stop-opacity="0"/><stop offset=".04" stop-opacity=".07"/><stop offset=".08" stop-opacity="0"/><stop offset=".16" stop-opacity="0"/><stop offset=".19" stop-opacity=".24"/><stop offset=".27" stop-opacity=".3"/><stop offset=".35" stop-opacity=".18"/><stop offset=".38" stop-opacity="0"/><stop offset=".51" stop-opacity=".03"/><stop offset=".57" stop-opacity=".34"/><stop offset=".64" stop-opacity=".77"/><stop offset=".71" stop-opacity=".34"/><stop offset=".78" stop-opacity=".17"/><stop offset=".83" stop-opacity=".42"/><stop offset=".86" stop-opacity=".81"/><stop offset=".9" stop-opacity=".42"/><stop offset=".94" stop-opacity=".19"/><stop offset="1" stop-opacity=".04"/></linearGradient>
<linearGradient id="g183" gradientUnits="userSpaceOnUse" x1="0" y1="832.0" x2="0" y2="1040.0"><stop offset="0" stop-opacity="0"/><stop offset=".04" stop-opacity=".06"/><stop offset=".08" stop-opacity="0"/><stop offset=".16" stop-opacity="0"/><stop offset=".19" stop-opacity=".22"/><stop offset=".27" stop-opacity=".28"/><stop offset=".35" stop-opacity=".17"/><stop offset=".38" stop-opacity="0"/><stop offset=".51" stop-opacity=".02"/><stop offset=".57" stop-opacity=".32"/><stop offset=".64" stop-opacity=".72"/><stop offset=".71" stop-opacity=".32"/><stop offset=".78" stop-opacity=".16"/><stop offset=".83" stop-opacity=".4"/><stop offset=".86" stop-opacity=".76"/><stop offset=".9" stop-opacity=".4"/><stop offset=".94" stop-opacity=".18"/><stop offset="1" stop-opacity=".04"/></linearGradient>
<linearGradient id="g184" gradientUnits="userSpaceOnUse" x1="0" y1="832.0" x2="0" y2="1040.0"><stop offset="0" stop-opacity="0"/><stop offset=".04" stop-opacity=".05"/><stop offset=".08" stop-opacity="0"/><stop offset=".16" stop-opacity="0"/><stop offset=".19" stop-opacity=".18"/><stop offset=".27" stop-opacity=".23"/><stop offset=".35" stop-opacity=".14"/><stop offset=".38" stop-opacity="0"/><stop offset=".51" stop-opacity=".02"/><stop offset=".57" stop-opacity=".26"/><stop offset=".64" stop-opacity=".59"/><stop offset=".71" stop-opacity=".26"/><stop offset=".78" stop-opacity=".13"/><stop offset=".83" stop-opacity=".33"/><stop offset=".86" stop-opacity=".62"/><stop offset=".9" stop-opacity=".33"/><stop offset=".94" stop-opacity=".14"/><stop offset="1" stop-opacity=".03"/></linearGradient>
<linearGradient id="g185" gradientUnits="userSpaceOnUse" x1="0" y1="832.0" x2="0" y2="1040.0"><stop offset="0" stop-opacity="0"/><stop offset=".04" stop-opacity=".05"/><stop offset=".08" stop-opacity="0"/><stop offset=".16" stop-opacity="0"/><stop offset=".19" stop-opacity=".18"/><stop offset=".27" stop-opacity=".23"/><stop offset=".35" stop-opacity=".14"/><stop offset=".38" stop-opacity="0"/><stop offset=".51" stop-opacity=".02"/><stop offset=".57" stop-opacity=".26"/><stop offset=".64" stop-opacity=".59"/><stop offset=".71" stop-opacity=".26"/><stop offset=".78" stop-opacity=".13"/><stop offset=".83" stop-opacity=".33"/><stop offset=".86" stop-opacity=".62"/><stop offset=".9" stop-opacity=".33"/><stop offset=".94" stop-opacity=".14"/><stop offset="1" stop-opacity=".03"/></linearGradient>
<linearGradient id="g186" gradientUnits="userSpaceOnUse" x1="0" y1="832.0" x2="0" y2="1040.0"><stop offset="0" stop-opacity="0"/><stop offset=".04" stop-opacity=".05"/><stop offset=".08" stop-opacity="0"/><stop offset=".16" stop-opacity="0"/><stop offset=".19" stop-opacity=".18"/><stop offset=".27" stop-opacity=".23"/><stop offset=".35" stop-opacity=".14"/><stop offset=".38" stop-opacity="0"/><stop offset=".51" stop-opacity=".02"/><stop offset=".57" stop-opacity=".26"/><stop offset=".64" stop-opacity=".59"/><stop offset=".71" stop-opacity=".26"/><stop offset=".78" stop-opacity=".13"/><stop offset=".83" stop-opacity=".33"/><stop offset=".86" stop-opacity=".62"/><stop offset=".9" stop-opacity=".33"/><stop offset=".94" stop-opacity=".14"/><stop offset="1" stop-opacity=".03"/></linearGradient>
<linearGradient id="g187" gradientUnits="userSpaceOnUse" x1="0" y1="832.0" x2="0" y2="1040.0"><stop offset="0" stop-opacity="0"/><stop offset=".04" stop-opacity=".06"/><stop offset=".08" stop-opacity="0"/><stop offset=".16" stop-opacity="0"/><stop offset=".19" stop-opacity=".26"/><stop offset=".27" stop-opacity=".32"/><stop offset=".35" stop-opacity=".19"/><stop offset=".38" stop-opacity="0"/><stop offset=".51" stop-opacity=".02"/><stop offset=".57" stop-opacity=".32"/><stop offset=".64" stop-opacity=".72"/><stop offset=".71" stop-opacity=".32"/><stop offset=".78" stop-opacity=".16"/><stop offset=".83" stop-opacity=".4"/><stop offset=".86" stop-opacity=".76"/><stop offset=".9" stop-opacity=".4"/><stop offset=".94" stop-opacity=".18"/><stop offset="1" stop-opacity=".04"/></linearGradient>
<linearGradient id="g188" gradientUnits="userSpaceOnUse" x1="0" y1="832.0" x2="0" y2="1040.0"><stop offset="0" stop-opacity="0"/><stop offset=".04" stop-opacity=".07"/><stop offset=".08" stop-opacity="0"/><stop offset=".16" stop-opacity="0"/><stop offset=".19" stop-opacity=".29"/><stop offset=".27" stop-opacity=".36"/><stop offset=".35" stop-opacity=".22"/><stop offset=".38" stop-opacity="0"/><stop offset=".51" stop-opacity=".03"/><stop offset=".57" stop-opacity=".36"/><stop offset=".64" stop-opacity=".81"/><stop offset=".71" stop-opacity=".36"/><stop offset=".78" stop-opacity=".18"/><stop offset=".83" stop-opacity=".45"/><stop offset=".86" stop-opacity=".85"/><stop offset=".9" stop-opacity=".45"/><stop offset=".94" stop-opacity=".2"/><stop offset="1" stop-opacity=".05"/></linearGradient>
<linearGradient id="g189" gradientUnits="userSpaceOnUse" x1="0" y1="832.0" x2="0" y2="1040.0"><stop offset="0" stop-opacity="0"/><stop offset=".04" stop-opacity=".05"/><stop offset=".08" stop-opacity="0"/><stop offset=".16" stop-opacity="0"/><stop offset=".19" stop-opacity=".17"/><stop offset=".27" stop-opacity=".21"/><stop offset=".35" stop-opacity=".13"/><stop offset=".38" stop-opacity="0"/><stop offset=".51" stop-opacity=".02"/><stop offset=".57" stop-opacity=".24"/><stop offset=".64" stop-opacity=".54"/><stop offset=".71" stop-opacity=".24"/><stop offset=".78" stop-opacity=".12"/><stop offset=".83" stop-opacity=".3"/><stop offset=".86" stop-opacity=".57"/><stop offset=".9" stop-opacity=".3"/><stop offset=".94" stop-opacity=".13"/><stop offset="1" stop-opacity=".03"/></linearGradient>
<linearGradient id="g190" gradientUnits="userSpaceOnUse" x1="0" y1="832.0" x2="0" y2="1040.0"><stop offset="0" stop-opacity="0"/><stop offset=".04" stop-opacity=".02"/><stop offset=".08" stop-opacity="0"/><stop offset=".16" stop-opacity="0"/><stop offset=".19" stop-opacity=".07"/><stop offset=".27" stop-opacity=".09"/><stop offset=".35" stop-opacity=".05"/><stop offset=".38" stop-opacity="0"/><stop offset=".51" stop-opacity=".01"/><stop offset=".57" stop-opacity=".12"/><stop offset=".64" stop-opacity=".27"/><stop offset=".71" stop-opacity=".12"/><stop offset=".78" stop-opacity=".06"/><stop offset=".83" stop-opacity=".15"/><stop offset=".86" stop-opacity=".28"/><stop offset=".9" stop-opacity=".15"/><stop offset=".94" stop-opacity=".07"/><stop offset="1" stop-opacity=".01"/></linearGradient>
<linearGradient id="g191" gradientUnits="userSpaceOnUse" x1="0" y1="832.0" x2="0" y2="1040.0"><stop offset="0" stop-opacity="0"/><stop offset=".04" stop-opacity=".03"/><stop offset=".08" stop-opacity="0"/><stop offset=".16" stop-opacity="0"/><stop offset=".19" stop-opacity=".08"/><stop offset=".27" stop-opacity=".1"/><stop offset=".35" stop-opacity=".06"/><stop offset=".38" stop-opacity="0"/><stop offset=".51" stop-opacity=".01"/><stop offset=".57" stop-opacity=".14"/><stop offset=".64" stop-opacity=".32"/><stop offset=".71" stop-opacity=".14"/><stop offset=".78" stop-opacity=".07"/><stop offset=".83" stop-opacity=".17"/><stop offset=".86" stop-opacity=".33"/><stop offset=".9" stop-opacity=".17"/><stop offset=".94" stop-opacity=".08"/><stop offset="1" stop-opacity=".02"/></linearGradient>
<linearGradient id="g192" gradientUnits="userSpaceOnUse" x1="0" y1="832.0" x2="0" y2="1040.0"><stop offset="0" stop-opacity="0"/><stop offset=".04" stop-opacity=".03"/><stop offset=".08" stop-opacity="0"/><stop offset=".16" stop-opacity="0"/><stop offset=".19" stop-opacity=".1"/><stop offset=".27" stop-opacity=".12"/><stop offset=".35" stop-opacity=".07"/><stop offset=".38" stop-opacity="0"/><stop offset=".51" stop-opacity=".01"/><stop offset=".57" stop-opacity=".16"/><stop offset=".64" stop-opacity=".36"/><stop offset=".71" stop-opacity=".16"/><stop offset=".78" stop-opacity=".08"/><stop offset=".83" stop-opacity=".2"/><stop offset=".86" stop-opacity=".38"/><stop offset=".9" stop-opacity=".2"/><stop offset=".94" stop-opacity=".09"/><stop offset="1" stop-opacity=".02"/></linearGradient>
<linearGradient id="g193" gradientUnits="userSpaceOnUse" x1="0" y1="832.0" x2="0" y2="1040.0"><stop offset="0" stop-opacity="0"/><stop offset=".04" stop-opacity=".02"/><stop offset=".08" stop-opacity="0"/><stop offset=".16" stop-opacity="0"/><stop offset=".19" stop-opacity=".06"/><stop offset=".27" stop-opacity=".07"/><stop offset=".35" stop-opacity=".04"/><stop offset=".38" stop-opacity="0"/><stop offset=".51" stop-opacity=".01"/><stop offset=".57" stop-opacity=".12"/><stop offset=".64" stop-opacity=".27"/><stop offset=".71" stop-opacity=".12"/><stop offset=".78" stop-opacity=".06"/><stop offset=".83" stop-opacity=".15"/><stop offset=".86" stop-opacity=".28"/><stop offset=".9" stop-opacity=".15"/><stop offset=".94" stop-opacity=".07"/><stop offset="1" stop-opacity=".01"/></linearGradient>
<linearGradient id="g194" gradientUnits="userSpaceOnUse" x1="0" y1="832.0" x2="0" y2="1040.0"><stop offset="0" stop-opacity="0"/><stop offset=".04" stop-opacity=".02"/><stop offset=".08" stop-opacity="0"/><stop offset=".16" stop-opacity="0"/><stop offset=".19" stop-opacity=".06"/><stop offset=".27" stop-opacity=".07"/><stop offset=".35" stop-opacity=".04"/><stop offset=".38" stop-opacity="0"/><stop offset=".51" stop-opacity=".01"/><stop offset=".57" stop-opacity=".12"/><stop offset=".64" stop-opacity=".27"/><stop offset=".71" stop-opacity=".12"/><stop offset=".78" stop-opacity=".06"/><stop offset=".83" stop-opacity=".15"/><stop offset=".86" stop-opacity=".28"/><stop offset=".9" stop-opacity=".15"/><stop offset=".94" stop-opacity=".07"/><stop offset="1" stop-opacity=".01"/></linearGradient>
<linearGradient id="g195" gradientUnits="userSpaceOnUse" x1="0" y1="832.0" x2="0" y2="1040.0"><stop offset="0" stop-opacity="0"/><stop offset=".04" stop-opacity=".04"/><stop offset=".08" stop-opacity="0"/><stop offset=".16" stop-opacity="0"/><stop offset=".19" stop-opacity=".13"/><stop offset=".27" stop-opacity=".16"/><stop offset=".35" stop-opacity=".09"/><stop offset=".38" stop-opacity="0"/><stop offset=".51" stop-opacity=".01"/><stop offset=".57" stop-opacity=".18"/><stop offset=".64" stop-opacity=".41"/><stop offset=".71" stop-opacity=".18"/><stop offset=".78" stop-opacity=".09"/><stop offset=".83" stop-opacity=".23"/><stop offset=".86" stop-opacity=".43"/><stop offset=".9" stop-opacity=".23"/><stop offset=".94" stop-opacity=".1"/><stop offset="1" stop-opacity=".02"/></linearGradient>
<linearGradient id="g196" gradientUnits="userSpaceOnUse" x1="199.0" y1="0" x2="320.0" y2="0"><stop offset="0" stop-opacity=".11"/><stop offset=".12" stop-opacity=".45"/><stop offset=".85" stop-opacity=".45"/><stop offset="1" stop-opacity=".07"/></linearGradient>
<linearGradient id="g197" gradientUnits="userSpaceOnUse" x1="197.0" y1="0" x2="317.0" y2="0"><stop offset="0" stop-opacity=".24"/><stop offset=".12" stop-opacity=".95"/><stop offset=".85" stop-opacity=".95"/><stop offset="1" stop-opacity=".14"/></linearGradient>
<linearGradient id="g198" gradientUnits="userSpaceOnUse" x1="197.0" y1="0" x2="317.0" y2="0"><stop offset="0" stop-opacity=".19"/><stop offset=".12" stop-opacity=".75"/><stop offset=".85" stop-opacity=".75"/><stop offset="1" stop-opacity=".11"/></linearGradient>
<linearGradient id="g199" gradientUnits="userSpaceOnUse" x1="197.0" y1="0" x2="310.0" y2="0"><stop offset="0" stop-opacity=".19"/><stop offset=".12" stop-opacity=".75"/><stop offset=".85" stop-opacity=".75"/><stop offset="1" stop-opacity=".11"/></linearGradient>
<linearGradient id="g200" gradientUnits="userSpaceOnUse" x1="255.0" y1="0" x2="290.0" y2="0"><stop offset="0" stop-opacity=".14"/><stop offset=".12" stop-opacity=".55"/><stop offset=".85" stop-opacity=".55"/><stop offset="1" stop-opacity=".08"/></linearGradient>
<linearGradient id="g201" gradientUnits="userSpaceOnUse" x1="250.0" y1="0" x2="309.0" y2="0"><stop offset="0" stop-opacity=".11"/><stop offset=".12" stop-opacity=".45"/><stop offset=".85" stop-opacity=".45"/><stop offset="1" stop-opacity=".07"/></linearGradient>
<linearGradient id="g202" gradientUnits="userSpaceOnUse" x1="270.0" y1="0" x2="313.0" y2="0"><stop offset="0" stop-opacity=".1"/><stop offset=".12" stop-opacity=".4"/><stop offset=".85" stop-opacity=".4"/><stop offset="1" stop-opacity=".06"/></linearGradient>
<linearGradient id="g203" gradientUnits="userSpaceOnUse" x1="249.0" y1="0" x2="274.0" y2="0"><stop offset="0" stop-opacity=".06"/><stop offset=".12" stop-opacity=".25"/><stop offset=".85" stop-opacity=".25"/><stop offset="1" stop-opacity=".04"/></linearGradient>
<linearGradient id="g204" gradientUnits="userSpaceOnUse" x1="214.0" y1="0" x2="286.0" y2="0"><stop offset="0" stop-opacity=".08"/><stop offset=".12" stop-opacity=".32"/><stop offset=".85" stop-opacity=".32"/><stop offset="1" stop-opacity=".05"/></linearGradient>
<linearGradient id="g205" gradientUnits="userSpaceOnUse" x1="206.0" y1="0" x2="302.0" y2="0"><stop offset="0" stop-opacity=".09"/><stop offset=".12" stop-opacity=".36"/><stop offset=".85" stop-opacity=".36"/><stop offset="1" stop-opacity=".05"/></linearGradient>
<linearGradient id="g206" gradientUnits="userSpaceOnUse" x1="251.0" y1="0" x2="270.0" y2="0"><stop offset="0" stop-opacity=".06"/><stop offset=".12" stop-opacity=".25"/><stop offset=".85" stop-opacity=".25"/><stop offset="1" stop-opacity=".04"/></linearGradient>
<linearGradient id="g207" gradientUnits="userSpaceOnUse" x1="253.0" y1="0" x2="283.0" y2="0"><stop offset="0" stop-opacity=".05"/><stop offset=".12" stop-opacity=".2"/><stop offset=".85" stop-opacity=".2"/><stop offset="1" stop-opacity=".03"/></linearGradient>
<linearGradient id="g208" gradientUnits="userSpaceOnUse" x1="404.0" y1="0" x2="602.0" y2="0"><stop offset="0" stop-opacity="0"/><stop offset=".05" stop-opacity=".45"/><stop offset=".09" stop-opacity=".45"/><stop offset=".14" stop-opacity=".45"/><stop offset=".18" stop-opacity=".45"/><stop offset=".23" stop-opacity=".45"/><stop offset=".27" stop-opacity=".45"/><stop offset=".32" stop-opacity=".45"/><stop offset=".36" stop-opacity=".47"/><stop offset=".41" stop-opacity=".5"/><stop offset=".45" stop-opacity=".53"/><stop offset=".5" stop-opacity=".55"/><stop offset=".55" stop-opacity=".58"/><stop offset=".59" stop-opacity=".61"/><stop offset=".64" stop-opacity=".64"/><stop offset=".68" stop-opacity=".67"/><stop offset=".73" stop-opacity=".69"/><stop offset=".77" stop-opacity=".7"/><stop offset=".82" stop-opacity=".7"/><stop offset=".86" stop-opacity=".7"/><stop offset=".91" stop-opacity=".7"/><stop offset=".95" stop-opacity=".55"/><stop offset="1" stop-opacity=".1"/></linearGradient>
<linearGradient id="g209" gradientUnits="userSpaceOnUse" x1="404.0" y1="0" x2="602.0" y2="0"><stop offset="0" stop-opacity="0"/><stop offset=".05" stop-opacity=".45"/><stop offset=".09" stop-opacity=".45"/><stop offset=".14" stop-opacity=".45"/><stop offset=".18" stop-opacity=".45"/><stop offset=".23" stop-opacity=".45"/><stop offset=".27" stop-opacity=".45"/><stop offset=".32" stop-opacity=".45"/><stop offset=".36" stop-opacity=".47"/><stop offset=".41" stop-opacity=".5"/><stop offset=".45" stop-opacity=".53"/><stop offset=".5" stop-opacity=".55"/><stop offset=".55" stop-opacity=".58"/><stop offset=".59" stop-opacity=".61"/><stop offset=".64" stop-opacity=".64"/><stop offset=".68" stop-opacity=".67"/><stop offset=".73" stop-opacity=".69"/><stop offset=".77" stop-opacity=".7"/><stop offset=".82" stop-opacity=".7"/><stop offset=".86" stop-opacity=".7"/><stop offset=".91" stop-opacity=".7"/><stop offset=".95" stop-opacity=".55"/><stop offset="1" stop-opacity=".1"/></linearGradient>
<linearGradient id="g210" gradientUnits="userSpaceOnUse" x1="404.0" y1="0" x2="602.0" y2="0"><stop offset="0" stop-opacity="0"/><stop offset=".05" stop-opacity=".45"/><stop offset=".09" stop-opacity=".45"/><stop offset=".14" stop-opacity=".45"/><stop offset=".18" stop-opacity=".45"/><stop offset=".23" stop-opacity=".45"/><stop offset=".27" stop-opacity=".45"/><stop offset=".32" stop-opacity=".45"/><stop offset=".36" stop-opacity=".47"/><stop offset=".41" stop-opacity=".5"/><stop offset=".45" stop-opacity=".53"/><stop offset=".5" stop-opacity=".55"/><stop offset=".55" stop-opacity=".58"/><stop offset=".59" stop-opacity=".61"/><stop offset=".64" stop-opacity=".64"/><stop offset=".68" stop-opacity=".67"/><stop offset=".73" stop-opacity=".69"/><stop offset=".77" stop-opacity=".7"/><stop offset=".82" stop-opacity=".7"/><stop offset=".86" stop-opacity=".7"/><stop offset=".91" stop-opacity=".7"/><stop offset=".95" stop-opacity=".55"/><stop offset="1" stop-opacity=".1"/></linearGradient>
<linearGradient id="g211" gradientUnits="userSpaceOnUse" x1="404.0" y1="0" x2="602.0" y2="0"><stop offset="0" stop-opacity="0"/><stop offset=".05" stop-opacity=".45"/><stop offset=".09" stop-opacity=".45"/><stop offset=".14" stop-opacity=".45"/><stop offset=".18" stop-opacity=".45"/><stop offset=".23" stop-opacity=".45"/><stop offset=".27" stop-opacity=".45"/><stop offset=".32" stop-opacity=".45"/><stop offset=".36" stop-opacity=".47"/><stop offset=".41" stop-opacity=".5"/><stop offset=".45" stop-opacity=".53"/><stop offset=".5" stop-opacity=".55"/><stop offset=".55" stop-opacity=".58"/><stop offset=".59" stop-opacity=".61"/><stop offset=".64" stop-opacity=".64"/><stop offset=".68" stop-opacity=".67"/><stop offset=".73" stop-opacity=".69"/><stop offset=".77" stop-opacity=".7"/><stop offset=".82" stop-opacity=".7"/><stop offset=".86" stop-opacity=".7"/><stop offset=".91" stop-opacity=".7"/><stop offset=".95" stop-opacity=".55"/><stop offset="1" stop-opacity=".1"/></linearGradient>
<linearGradient id="g212" gradientUnits="userSpaceOnUse" x1="404.0" y1="0" x2="602.0" y2="0"><stop offset="0" stop-opacity="0"/><stop offset=".05" stop-opacity=".2"/><stop offset=".09" stop-opacity=".2"/><stop offset=".14" stop-opacity=".2"/><stop offset=".18" stop-opacity=".2"/><stop offset=".23" stop-opacity=".2"/><stop offset=".27" stop-opacity=".22"/><stop offset=".32" stop-opacity=".25"/><stop offset=".36" stop-opacity=".27"/><stop offset=".41" stop-opacity=".3"/><stop offset=".45" stop-opacity=".32"/><stop offset=".5" stop-opacity=".35"/><stop offset=".55" stop-opacity=".37"/><stop offset=".59" stop-opacity=".4"/><stop offset=".64" stop-opacity=".42"/><stop offset=".68" stop-opacity=".45"/><stop offset=".73" stop-opacity=".45"/><stop offset=".77" stop-opacity=".45"/><stop offset=".82" stop-opacity=".45"/><stop offset=".86" stop-opacity=".45"/><stop offset=".91" stop-opacity=".45"/><stop offset=".95" stop-opacity=".35"/><stop offset="1" stop-opacity=".06"/></linearGradient>
<linearGradient id="g213" gradientUnits="userSpaceOnUse" x1="404.0" y1="0" x2="602.0" y2="0"><stop offset="0" stop-opacity="0"/><stop offset=".05" stop-opacity=".2"/><stop offset=".09" stop-opacity=".2"/><stop offset=".14" stop-opacity=".2"/><stop offset=".18" stop-opacity=".2"/><stop offset=".23" stop-opacity=".2"/><stop offset=".27" stop-opacity=".22"/><stop offset=".32" stop-opacity=".25"/><stop offset=".36" stop-opacity=".27"/><stop offset=".41" stop-opacity=".3"/><stop offset=".45" stop-opacity=".32"/><stop offset=".5" stop-opacity=".35"/><stop offset=".55" stop-opacity=".37"/><stop offset=".59" stop-opacity=".4"/><stop offset=".64" stop-opacity=".42"/><stop offset=".68" stop-opacity=".45"/><stop offset=".73" stop-opacity=".45"/><stop offset=".77" stop-opacity=".45"/><stop offset=".82" stop-opacity=".45"/><stop offset=".86" stop-opacity=".45"/><stop offset=".91" stop-opacity=".45"/><stop offset=".95" stop-opacity=".35"/><stop offset="1" stop-opacity=".06"/></linearGradient>
<linearGradient id="g214" gradientUnits="userSpaceOnUse" x1="404.0" y1="0" x2="602.0" y2="0"><stop offset="0" stop-opacity="0"/><stop offset=".05" stop-opacity=".5"/><stop offset=".09" stop-opacity=".5"/><stop offset=".14" stop-opacity=".5"/><stop offset=".18" stop-opacity=".5"/><stop offset=".23" stop-opacity=".5"/><stop offset=".27" stop-opacity=".5"/><stop offset=".32" stop-opacity=".5"/><stop offset=".36" stop-opacity=".5"/><stop offset=".41" stop-opacity=".5"/><stop offset=".45" stop-opacity=".5"/><stop offset=".5" stop-opacity=".5"/><stop offset=".55" stop-opacity=".5"/><stop offset=".59" stop-opacity=".5"/><stop offset=".64" stop-opacity=".5"/><stop offset=".68" stop-opacity=".5"/><stop offset=".73" stop-opacity=".5"/><stop offset=".77" stop-opacity=".5"/><stop offset=".82" stop-opacity=".5"/><stop offset=".86" stop-opacity=".5"/><stop offset=".91" stop-opacity=".5"/><stop offset=".95" stop-opacity=".39"/><stop offset="1" stop-opacity=".07"/></linearGradient>
<linearGradient id="g215" gradientUnits="userSpaceOnUse" x1="404.0" y1="0" x2="602.0" y2="0"><stop offset="0" stop-opacity="0"/><stop offset=".05" stop-opacity=".5"/><stop offset=".09" stop-opacity=".5"/><stop offset=".14" stop-opacity=".5"/><stop offset=".18" stop-opacity=".5"/><stop offset=".23" stop-opacity=".5"/><stop offset=".27" stop-opacity=".5"/><stop offset=".32" stop-opacity=".5"/><stop offset=".36" stop-opacity=".5"/><stop offset=".41" stop-opacity=".5"/><stop offset=".45" stop-opacity=".5"/><stop offset=".5" stop-opacity=".5"/><stop offset=".55" stop-opacity=".5"/><stop offset=".59" stop-opacity=".5"/><stop offset=".64" stop-opacity=".5"/><stop offset=".68" stop-opacity=".5"/><stop offset=".73" stop-opacity=".5"/><stop offset=".77" stop-opacity=".5"/><stop offset=".82" stop-opacity=".5"/><stop offset=".86" stop-opacity=".5"/><stop offset=".91" stop-opacity=".5"/><stop offset=".95" stop-opacity=".39"/><stop offset="1" stop-opacity=".07"/></linearGradient>
<linearGradient id="g216" gradientUnits="userSpaceOnUse" x1="404.0" y1="0" x2="602.0" y2="0"><stop offset="0" stop-opacity="0"/><stop offset=".05" stop-opacity=".12"/><stop offset=".09" stop-opacity=".12"/><stop offset=".14" stop-opacity=".12"/><stop offset=".18" stop-opacity=".12"/><stop offset=".23" stop-opacity=".12"/><stop offset=".27" stop-opacity=".14"/><stop offset=".32" stop-opacity=".16"/><stop offset=".36" stop-opacity=".18"/><stop offset=".41" stop-opacity=".21"/><stop offset=".45" stop-opacity=".23"/><stop offset=".5" stop-opacity=".25"/><stop offset=".55" stop-opacity=".27"/><stop offset=".59" stop-opacity=".29"/><stop offset=".64" stop-opacity=".32"/><stop offset=".68" stop-opacity=".34"/><stop offset=".73" stop-opacity=".34"/><stop offset=".77" stop-opacity=".34"/><stop offset=".82" stop-opacity=".34"/><stop offset=".86" stop-opacity=".34"/><stop offset=".91" stop-opacity=".34"/><stop offset=".95" stop-opacity=".27"/><stop offset="1" stop-opacity=".05"/></linearGradient>
<linearGradient id="g217" gradientUnits="userSpaceOnUse" x1="404.0" y1="0" x2="602.0" y2="0"><stop offset="0" stop-opacity="0"/><stop offset=".05" stop-opacity=".12"/><stop offset=".09" stop-opacity=".12"/><stop offset=".14" stop-opacity=".12"/><stop offset=".18" stop-opacity=".12"/><stop offset=".23" stop-opacity=".12"/><stop offset=".27" stop-opacity=".14"/><stop offset=".32" stop-opacity=".16"/><stop offset=".36" stop-opacity=".18"/><stop offset=".41" stop-opacity=".21"/><stop offset=".45" stop-opacity=".23"/><stop offset=".5" stop-opacity=".25"/><stop offset=".55" stop-opacity=".27"/><stop offset=".59" stop-opacity=".29"/><stop offset=".64" stop-opacity=".32"/><stop offset=".68" stop-opacity=".34"/><stop offset=".73" stop-opacity=".34"/><stop offset=".77" stop-opacity=".34"/><stop offset=".82" stop-opacity=".34"/><stop offset=".86" stop-opacity=".34"/><stop offset=".91" stop-opacity=".34"/><stop offset=".95" stop-opacity=".27"/><stop offset="1" stop-opacity=".05"/></linearGradient>
<linearGradient id="g218" gradientUnits="userSpaceOnUse" x1="404.0" y1="0" x2="602.0" y2="0"><stop offset="0" stop-opacity="0"/><stop offset=".05" stop-opacity=".12"/><stop offset=".09" stop-opacity=".12"/><stop offset=".14" stop-opacity=".12"/><stop offset=".18" stop-opacity=".12"/><stop offset=".23" stop-opacity=".12"/><stop offset=".27" stop-opacity=".14"/><stop offset=".32" stop-opacity=".16"/><stop offset=".36" stop-opacity=".18"/><stop offset=".41" stop-opacity=".21"/><stop offset=".45" stop-opacity=".23"/><stop offset=".5" stop-opacity=".25"/><stop offset=".55" stop-opacity=".27"/><stop offset=".59" stop-opacity=".29"/><stop offset=".64" stop-opacity=".32"/><stop offset=".68" stop-opacity=".34"/><stop offset=".73" stop-opacity=".34"/><stop offset=".77" stop-opacity=".34"/><stop offset=".82" stop-opacity=".34"/><stop offset=".86" stop-opacity=".34"/><stop offset=".91" stop-opacity=".34"/><stop offset=".95" stop-opacity=".27"/><stop offset="1" stop-opacity=".05"/></linearGradient>
<linearGradient id="g219" gradientUnits="userSpaceOnUse" x1="404.0" y1="0" x2="602.0" y2="0"><stop offset="0" stop-opacity="0"/><stop offset=".05" stop-opacity=".12"/><stop offset=".09" stop-opacity=".12"/><stop offset=".14" stop-opacity=".12"/><stop offset=".18" stop-opacity=".12"/><stop offset=".23" stop-opacity=".12"/><stop offset=".27" stop-opacity=".14"/><stop offset=".32" stop-opacity=".16"/><stop offset=".36" stop-opacity=".18"/><stop offset=".41" stop-opacity=".21"/><stop offset=".45" stop-opacity=".23"/><stop offset=".5" stop-opacity=".25"/><stop offset=".55" stop-opacity=".27"/><stop offset=".59" stop-opacity=".29"/><stop offset=".64" stop-opacity=".32"/><stop offset=".68" stop-opacity=".34"/><stop offset=".73" stop-opacity=".34"/><stop offset=".77" stop-opacity=".34"/><stop offset=".82" stop-opacity=".34"/><stop offset=".86" stop-opacity=".34"/><stop offset=".91" stop-opacity=".34"/><stop offset=".95" stop-opacity=".27"/><stop offset="1" stop-opacity=".05"/></linearGradient>
<linearGradient id="g220" gradientUnits="userSpaceOnUse" x1="404.0" y1="0" x2="602.0" y2="0"><stop offset="0" stop-opacity="0"/><stop offset=".05" stop-opacity=".12"/><stop offset=".09" stop-opacity=".12"/><stop offset=".14" stop-opacity=".12"/><stop offset=".18" stop-opacity=".12"/><stop offset=".23" stop-opacity=".12"/><stop offset=".27" stop-opacity=".14"/><stop offset=".32" stop-opacity=".16"/><stop offset=".36" stop-opacity=".18"/><stop offset=".41" stop-opacity=".21"/><stop offset=".45" stop-opacity=".23"/><stop offset=".5" stop-opacity=".25"/><stop offset=".55" stop-opacity=".27"/><stop offset=".59" stop-opacity=".29"/><stop offset=".64" stop-opacity=".32"/><stop offset=".68" stop-opacity=".34"/><stop offset=".73" stop-opacity=".34"/><stop offset=".77" stop-opacity=".34"/><stop offset=".82" stop-opacity=".34"/><stop offset=".86" stop-opacity=".34"/><stop offset=".91" stop-opacity=".34"/><stop offset=".95" stop-opacity=".27"/><stop offset="1" stop-opacity=".05"/></linearGradient>
<linearGradient id="g221" gradientUnits="userSpaceOnUse" x1="404.0" y1="0" x2="602.0" y2="0"><stop offset="0" stop-opacity="0"/><stop offset=".05" stop-opacity=".34"/><stop offset=".09" stop-opacity=".34"/><stop offset=".14" stop-opacity=".34"/><stop offset=".18" stop-opacity=".34"/><stop offset=".23" stop-opacity=".34"/><stop offset=".27" stop-opacity=".34"/><stop offset=".32" stop-opacity=".34"/><stop offset=".36" stop-opacity=".34"/><stop offset=".41" stop-opacity=".34"/><stop offset=".45" stop-opacity=".34"/><stop offset=".5" stop-opacity=".34"/><stop offset=".55" stop-opacity=".34"/><stop offset=".59" stop-opacity=".34"/><stop offset=".64" stop-opacity=".34"/><stop offset=".68" stop-opacity=".34"/><stop offset=".73" stop-opacity=".34"/><stop offset=".77" stop-opacity=".34"/><stop offset=".82" stop-opacity=".34"/><stop offset=".86" stop-opacity=".34"/><stop offset=".91" stop-opacity=".34"/><stop offset=".95" stop-opacity=".27"/><stop offset="1" stop-opacity=".05"/></linearGradient>
<linearGradient id="g222" gradientUnits="userSpaceOnUse" x1="404.0" y1="0" x2="602.0" y2="0"><stop offset="0" stop-opacity="0"/><stop offset=".05" stop-opacity=".34"/><stop offset=".09" stop-opacity=".34"/><stop offset=".14" stop-opacity=".34"/><stop offset=".18" stop-opacity=".34"/><stop offset=".23" stop-opacity=".34"/><stop offset=".27" stop-opacity=".34"/><stop offset=".32" stop-opacity=".34"/><stop offset=".36" stop-opacity=".34"/><stop offset=".41" stop-opacity=".34"/><stop offset=".45" stop-opacity=".34"/><stop offset=".5" stop-opacity=".34"/><stop offset=".55" stop-opacity=".34"/><stop offset=".59" stop-opacity=".34"/><stop offset=".64" stop-opacity=".34"/><stop offset=".68" stop-opacity=".34"/><stop offset=".73" stop-opacity=".34"/><stop offset=".77" stop-opacity=".34"/><stop offset=".82" stop-opacity=".34"/><stop offset=".86" stop-opacity=".34"/><stop offset=".91" stop-opacity=".32"/><stop offset=".95" stop-opacity=".22"/><stop offset="1" stop-opacity=".04"/></linearGradient>
<linearGradient id="g223" gradientUnits="userSpaceOnUse" x1="404.0" y1="0" x2="602.0" y2="0"><stop offset="0" stop-opacity="0"/><stop offset=".05" stop-opacity=".34"/><stop offset=".09" stop-opacity=".34"/><stop offset=".14" stop-opacity=".34"/><stop offset=".18" stop-opacity=".34"/><stop offset=".23" stop-opacity=".34"/><stop offset=".27" stop-opacity=".34"/><stop offset=".32" stop-opacity=".34"/><stop offset=".36" stop-opacity=".34"/><stop offset=".41" stop-opacity=".34"/><stop offset=".45" stop-opacity=".34"/><stop offset=".5" stop-opacity=".34"/><stop offset=".55" stop-opacity=".34"/><stop offset=".59" stop-opacity=".34"/><stop offset=".64" stop-opacity=".34"/><stop offset=".68" stop-opacity=".32"/><stop offset=".73" stop-opacity=".29"/><stop offset=".77" stop-opacity=".25"/><stop offset=".82" stop-opacity=".22"/><stop offset=".86" stop-opacity=".18"/><stop offset=".91" stop-opacity=".15"/><stop offset=".95" stop-opacity=".09"/><stop offset="1" stop-opacity=".01"/></linearGradient>
<linearGradient id="g224" gradientUnits="userSpaceOnUse" x1="404.0" y1="0" x2="575.0" y2="0"><stop offset="0" stop-opacity="0"/><stop offset=".05" stop-opacity=".34"/><stop offset=".11" stop-opacity=".34"/><stop offset=".16" stop-opacity=".34"/><stop offset=".21" stop-opacity=".34"/><stop offset=".26" stop-opacity=".34"/><stop offset=".32" stop-opacity=".34"/><stop offset=".37" stop-opacity=".34"/><stop offset=".42" stop-opacity=".34"/><stop offset=".47" stop-opacity=".34"/><stop offset=".53" stop-opacity=".33"/><stop offset=".58" stop-opacity=".29"/><stop offset=".63" stop-opacity=".26"/><stop offset=".68" stop-opacity=".22"/><stop offset=".74" stop-opacity=".19"/><stop offset=".79" stop-opacity=".15"/><stop offset=".84" stop-opacity=".12"/><stop offset=".89" stop-opacity=".08"/><stop offset=".95" stop-opacity=".05"/><stop offset="1" stop-opacity=".01"/></linearGradient>
<linearGradient id="g225" gradientUnits="userSpaceOnUse" x1="404.0" y1="0" x2="533.0" y2="0"><stop offset="0" stop-opacity="0"/><stop offset=".07" stop-opacity=".34"/><stop offset=".14" stop-opacity=".34"/><stop offset=".21" stop-opacity=".34"/><stop offset=".28" stop-opacity=".34"/><stop offset=".35" stop-opacity=".33"/><stop offset=".42" stop-opacity=".3"/><stop offset=".49" stop-opacity=".26"/><stop offset=".56" stop-opacity=".23"/><stop offset=".63" stop-opacity=".19"/><stop offset=".7" stop-opacity=".16"/><stop offset=".77" stop-opacity=".12"/><stop offset=".84" stop-opacity=".09"/><stop offset=".91" stop-opacity=".05"/><stop offset=".98" stop-opacity=".02"/><stop offset="1" stop-opacity=".01"/></linearGradient>
<linearGradient id="g226" gradientUnits="userSpaceOnUse" x1="404.0" y1="0" x2="488.0" y2="0"><stop offset="0" stop-opacity="0"/><stop offset=".11" stop-opacity=".3"/><stop offset=".21" stop-opacity=".27"/><stop offset=".32" stop-opacity=".23"/><stop offset=".43" stop-opacity=".2"/><stop offset=".54" stop-opacity=".16"/><stop offset=".64" stop-opacity=".13"/><stop offset=".75" stop-opacity=".09"/><stop offset=".86" stop-opacity=".06"/><stop offset=".96" stop-opacity=".02"/><stop offset="1" stop-opacity=".01"/></linearGradient>
<linearGradient id="g227" gradientUnits="userSpaceOnUse" x1="404.0" y1="0" x2="446.0" y2="0"><stop offset="0" stop-opacity="0"/><stop offset=".21" stop-opacity=".13"/><stop offset=".43" stop-opacity=".1"/><stop offset=".64" stop-opacity=".06"/><stop offset=".86" stop-opacity=".03"/><stop offset="1" stop-opacity=".01"/></linearGradient>
<linearGradient id="g228" gradientUnits="userSpaceOnUse" x1="374.0" y1="0" x2="404.0" y2="0"><stop offset="0" stop-opacity=".09"/><stop offset=".3" stop-opacity=".35"/><stop offset=".95" stop-opacity=".35"/><stop offset="1" stop-opacity=".05"/></linearGradient>
<linearGradient id="g229" gradientUnits="userSpaceOnUse" x1="370.0" y1="0" x2="404.0" y2="0"><stop offset="0" stop-opacity=".1"/><stop offset=".3" stop-opacity=".4"/><stop offset=".95" stop-opacity=".4"/><stop offset="1" stop-opacity=".06"/></linearGradient>
<linearGradient id="g230" gradientUnits="userSpaceOnUse" x1="458.0" y1="0" x2="803.0" y2="0"><stop offset="0" stop-opacity=".01"/><stop offset=".03" stop-opacity=".05"/><stop offset=".05" stop-opacity=".08"/><stop offset=".08" stop-opacity=".11"/><stop offset=".1" stop-opacity=".15"/><stop offset=".13" stop-opacity=".18"/><stop offset=".16" stop-opacity=".21"/><stop offset=".18" stop-opacity=".23"/><stop offset=".21" stop-opacity=".23"/><stop offset=".23" stop-opacity=".23"/><stop offset=".26" stop-opacity=".23"/><stop offset=".29" stop-opacity=".23"/><stop offset=".31" stop-opacity=".28"/><stop offset=".34" stop-opacity=".36"/><stop offset=".37" stop-opacity=".45"/><stop offset=".39" stop-opacity=".5"/><stop offset=".42" stop-opacity=".5"/><stop offset=".44" stop-opacity=".5"/><stop offset=".47" stop-opacity=".5"/><stop offset=".5" stop-opacity=".5"/><stop offset=".52" stop-opacity=".5"/><stop offset=".55" stop-opacity=".5"/><stop offset=".57" stop-opacity=".5"/><stop offset=".6" stop-opacity=".5"/><stop offset=".63" stop-opacity=".5"/><stop offset=".65" stop-opacity=".5"/><stop offset=".68" stop-opacity=".5"/><stop offset=".7" stop-opacity=".5"/><stop offset=".73" stop-opacity=".5"/><stop offset=".76" stop-opacity=".5"/><stop offset=".78" stop-opacity=".5"/><stop offset=".81" stop-opacity=".5"/><stop offset=".83" stop-opacity=".5"/><stop offset=".86" stop-opacity=".5"/><stop offset=".89" stop-opacity=".5"/><stop offset=".91" stop-opacity=".5"/><stop offset=".94" stop-opacity=".5"/><stop offset=".97" stop-opacity=".28"/><stop offset=".99" stop-opacity=".05"/><stop offset="1" stop-opacity="0"/></linearGradient>
<linearGradient id="g231" gradientUnits="userSpaceOnUse" x1="470.0" y1="0" x2="794.0" y2="0"><stop offset="0" stop-opacity="0"/><stop offset=".03" stop-opacity=".07"/><stop offset=".06" stop-opacity=".14"/><stop offset=".08" stop-opacity=".2"/><stop offset=".11" stop-opacity=".27"/><stop offset=".14" stop-opacity=".34"/><stop offset=".17" stop-opacity=".41"/><stop offset=".19" stop-opacity=".45"/><stop offset=".22" stop-opacity=".45"/><stop offset=".25" stop-opacity=".45"/><stop offset=".28" stop-opacity=".45"/><stop offset=".31" stop-opacity=".61"/><stop offset=".33" stop-opacity=".78"/><stop offset=".36" stop-opacity=".95"/><stop offset=".39" stop-opacity="1"/><stop offset=".42" stop-opacity="1"/><stop offset=".44" stop-opacity="1"/><stop offset=".47" stop-opacity="1"/><stop offset=".5" stop-opacity="1"/><stop offset=".53" stop-opacity="1"/><stop offset=".56" stop-opacity="1"/><stop offset=".58" stop-opacity="1"/><stop offset=".61" stop-opacity="1"/><stop offset=".64" stop-opacity="1"/><stop offset=".67" stop-opacity="1"/><stop offset=".69" stop-opacity="1"/><stop offset=".72" stop-opacity="1"/><stop offset=".75" stop-opacity="1"/><stop offset=".78" stop-opacity="1"/><stop offset=".81" stop-opacity="1"/><stop offset=".83" stop-opacity="1"/><stop offset=".86" stop-opacity="1"/><stop offset=".89" stop-opacity="1"/><stop offset=".92" stop-opacity="1"/><stop offset=".94" stop-opacity=".8"/><stop offset=".97" stop-opacity=".35"/><stop offset="1" stop-opacity="0"/></linearGradient>
<linearGradient id="g232" gradientUnits="userSpaceOnUse" x1="470.0" y1="0" x2="773.0" y2="0"><stop offset="0" stop-opacity="0"/><stop offset=".03" stop-opacity=".06"/><stop offset=".06" stop-opacity=".11"/><stop offset=".09" stop-opacity=".17"/><stop offset=".12" stop-opacity=".23"/><stop offset=".15" stop-opacity=".29"/><stop offset=".18" stop-opacity=".34"/><stop offset=".21" stop-opacity=".38"/><stop offset=".24" stop-opacity=".38"/><stop offset=".27" stop-opacity=".38"/><stop offset=".3" stop-opacity=".38"/><stop offset=".33" stop-opacity=".52"/><stop offset=".36" stop-opacity=".66"/><stop offset=".39" stop-opacity=".8"/><stop offset=".42" stop-opacity=".85"/><stop offset=".45" stop-opacity=".85"/><stop offset=".48" stop-opacity=".85"/><stop offset=".5" stop-opacity=".85"/><stop offset=".53" stop-opacity=".85"/><stop offset=".56" stop-opacity=".85"/><stop offset=".59" stop-opacity=".85"/><stop offset=".62" stop-opacity=".85"/><stop offset=".65" stop-opacity=".85"/><stop offset=".68" stop-opacity=".85"/><stop offset=".71" stop-opacity=".85"/><stop offset=".74" stop-opacity=".85"/><stop offset=".77" stop-opacity=".85"/><stop offset=".8" stop-opacity=".85"/><stop offset=".83" stop-opacity=".85"/><stop offset=".86" stop-opacity=".85"/><stop offset=".89" stop-opacity=".85"/><stop offset=".92" stop-opacity=".85"/><stop offset=".95" stop-opacity=".59"/><stop offset=".98" stop-opacity=".21"/><stop offset="1" stop-opacity="0"/></linearGradient>
<linearGradient id="g233" gradientUnits="userSpaceOnUse" x1="470.0" y1="0" x2="758.0" y2="0"><stop offset="0" stop-opacity="0"/><stop offset=".03" stop-opacity=".05"/><stop offset=".06" stop-opacity=".09"/><stop offset=".09" stop-opacity=".14"/><stop offset=".12" stop-opacity=".19"/><stop offset=".16" stop-opacity=".24"/><stop offset=".19" stop-opacity=".28"/><stop offset=".22" stop-opacity=".32"/><stop offset=".25" stop-opacity=".32"/><stop offset=".28" stop-opacity=".32"/><stop offset=".31" stop-opacity=".32"/><stop offset=".34" stop-opacity=".43"/><stop offset=".38" stop-opacity=".55"/><stop offset=".41" stop-opacity=".66"/><stop offset=".44" stop-opacity=".7"/><stop offset=".47" stop-opacity=".7"/><stop offset=".5" stop-opacity=".7"/><stop offset=".53" stop-opacity=".7"/><stop offset=".56" stop-opacity=".7"/><stop offset=".59" stop-opacity=".7"/><stop offset=".62" stop-opacity=".7"/><stop offset=".66" stop-opacity=".7"/><stop offset=".69" stop-opacity=".7"/><stop offset=".72" stop-opacity=".7"/><stop offset=".75" stop-opacity=".7"/><stop offset=".78" stop-opacity=".7"/><stop offset=".81" stop-opacity=".7"/><stop offset=".84" stop-opacity=".7"/><stop offset=".88" stop-opacity=".7"/><stop offset=".91" stop-opacity=".7"/><stop offset=".94" stop-opacity=".59"/><stop offset=".97" stop-opacity=".28"/><stop offset="1" stop-opacity="0"/></linearGradient>
<linearGradient id="g234" gradientUnits="userSpaceOnUse" x1="584.0" y1="0" x2="749.0" y2="0"><stop offset="0" stop-opacity="0"/><stop offset=".05" stop-opacity=".36"/><stop offset=".11" stop-opacity=".62"/><stop offset=".16" stop-opacity=".62"/><stop offset=".22" stop-opacity=".62"/><stop offset=".27" stop-opacity=".62"/><stop offset=".33" stop-opacity=".62"/><stop offset=".38" stop-opacity=".62"/><stop offset=".44" stop-opacity=".62"/><stop offset=".49" stop-opacity=".62"/><stop offset=".55" stop-opacity=".62"/><stop offset=".6" stop-opacity=".62"/><stop offset=".65" stop-opacity=".62"/><stop offset=".71" stop-opacity=".62"/><stop offset=".76" stop-opacity=".62"/><stop offset=".82" stop-opacity=".62"/><stop offset=".87" stop-opacity=".62"/><stop offset=".93" stop-opacity=".34"/><stop offset=".98" stop-opacity=".06"/><stop offset="1" stop-opacity="0"/></linearGradient>
<linearGradient id="g235" gradientUnits="userSpaceOnUse" x1="584.0" y1="0" x2="737.0" y2="0"><stop offset="0" stop-opacity="0"/><stop offset=".06" stop-opacity=".35"/><stop offset=".12" stop-opacity=".6"/><stop offset=".18" stop-opacity=".6"/><stop offset=".24" stop-opacity=".6"/><stop offset=".29" stop-opacity=".6"/><stop offset=".35" stop-opacity=".6"/><stop offset=".41" stop-opacity=".6"/><stop offset=".47" stop-opacity=".6"/><stop offset=".53" stop-opacity=".6"/><stop offset=".59" stop-opacity=".6"/><stop offset=".65" stop-opacity=".6"/><stop offset=".71" stop-opacity=".6"/><stop offset=".76" stop-opacity=".6"/><stop offset=".82" stop-opacity=".6"/><stop offset=".88" stop-opacity=".54"/><stop offset=".94" stop-opacity=".23"/><stop offset="1" stop-opacity="0"/></linearGradient>
<linearGradient id="g236" gradientUnits="userSpaceOnUse" x1="584.0" y1="0" x2="707.0" y2="0"><stop offset="0" stop-opacity="0"/><stop offset=".07" stop-opacity=".32"/><stop offset=".15" stop-opacity=".55"/><stop offset=".22" stop-opacity=".55"/><stop offset=".29" stop-opacity=".55"/><stop offset=".37" stop-opacity=".55"/><stop offset=".44" stop-opacity=".55"/><stop offset=".51" stop-opacity=".55"/><stop offset=".59" stop-opacity=".55"/><stop offset=".66" stop-opacity=".55"/><stop offset=".73" stop-opacity=".55"/><stop offset=".8" stop-opacity=".55"/><stop offset=".88" stop-opacity=".45"/><stop offset=".95" stop-opacity=".15"/><stop offset="1" stop-opacity="0"/></linearGradient>
<linearGradient id="g237" gradientUnits="userSpaceOnUse" x1="584.0" y1="0" x2="674.0" y2="0"><stop offset="0" stop-opacity="0"/><stop offset=".1" stop-opacity=".29"/><stop offset=".2" stop-opacity=".5"/><stop offset=".3" stop-opacity=".5"/><stop offset=".4" stop-opacity=".5"/><stop offset=".5" stop-opacity=".5"/><stop offset=".6" stop-opacity=".5"/><stop offset=".7" stop-opacity=".5"/><stop offset=".8" stop-opacity=".5"/><stop offset=".9" stop-opacity=".28"/><stop offset="1" stop-opacity="0"/></linearGradient>
<linearGradient id="g238" gradientUnits="userSpaceOnUse" x1="584.0" y1="0" x2="647.0" y2="0"><stop offset="0" stop-opacity="0"/><stop offset=".14" stop-opacity=".29"/><stop offset=".29" stop-opacity=".5"/><stop offset=".43" stop-opacity=".5"/><stop offset=".57" stop-opacity=".5"/><stop offset=".71" stop-opacity=".5"/><stop offset=".86" stop-opacity=".26"/><stop offset="1" stop-opacity="0"/></linearGradient>
<linearGradient id="g239" gradientUnits="userSpaceOnUse" x1="584.0" y1="0" x2="623.0" y2="0"><stop offset="0" stop-opacity="0"/><stop offset=".23" stop-opacity=".26"/><stop offset=".46" stop-opacity=".45"/><stop offset=".69" stop-opacity=".29"/><stop offset=".92" stop-opacity=".04"/><stop offset="1" stop-opacity="0"/></linearGradient>
<linearGradient id="g240" gradientUnits="userSpaceOnUse" x1="584.0" y1="0" x2="599.0" y2="0"><stop offset="0" stop-opacity="0"/><stop offset=".6" stop-opacity=".1"/><stop offset="1" stop-opacity="0"/></linearGradient>
</defs>
<g id="spec" filter="url(#soft)">
<g filter="url(#sp1)"><path d="M140.0,250.0 L162.0,250.0 L165.0,308.0 L138.0,308.0Z" fill="#000" fill-opacity="0.380"/><path d="M160.0,232.0 L262.0,232.0 L290.0,300.0 L160.0,308.0Z" fill="#000" fill-opacity="0.160"/><path d="M360.0,225.0 L460.0,225.0 L470.0,302.0 L345.0,302.0Z" fill="#000" fill-opacity="0.160"/><path d="M595.0,282.0 L653.0,282.0 L653.0,312.0 L595.0,312.0Z" fill="#000" fill-opacity="0.250"/><path d="M596.0,289.0 L653.0,289.0 L653.0,306.0 L596.0,306.0Z" fill="#000" fill-opacity="0.550"/><path d="M597.0,234.0 L640.0,232.0 L653.0,240.0 L653.0,282.0 L595.0,282.0Z" fill="#000" fill-opacity="0.140"/><path d="M829.0,250.0 L843.0,240.0 L845.0,308.0 L829.0,308.0Z" fill="#000" fill-opacity="0.300"/><path d="M845.0,225.0 L945.0,225.0 L955.0,302.0 L845.0,302.0Z" fill="#000" fill-opacity="0.130"/><path d="M1042.0,234.0 L1121.0,232.0 L1121.0,285.0 L1042.0,285.0Z" fill="#000" fill-opacity="0.320"/><path d="M1042.0,285.0 L1121.0,285.0 L1121.0,314.0 L1042.0,314.0Z" fill="#000" fill-opacity="0.500"/><path d="M1246.0,232.0 L1260.0,225.0 L1262.0,306.0 L1246.0,306.0Z" fill="#000" fill-opacity="0.300"/><path d="M1262.0,225.0 L1345.0,225.0 L1358.0,302.0 L1262.0,302.0Z" fill="#000" fill-opacity="0.140"/><path d="M301.0,530.0 L392.0,530.0 L390.0,572.0 L370.0,582.0 L320.0,582.0 L303.0,572.0Z" fill="#000" fill-opacity="0.350"/><path d="M291.0,606.0 L396.0,606.0 L396.0,651.0 L291.0,651.0Z" fill="#000" fill-opacity="0.300"/><path d="M171.0,993.0 L193.0,993.0 L193.0,1020.0 L171.0,1020.0Z" fill="#000" fill-opacity="0.650"/><path d="M396.0,992.0 L415.0,992.0 L415.0,1019.0 L396.0,1019.0Z" fill="#000" fill-opacity="0.650"/><path d="M735.0,872.0 L1014.0,872.0 L1014.0,904.0 L735.0,904.0Z" fill="#000" fill-opacity="0.140"/><path d="M783.0,868.0 L832.0,868.0 L832.0,906.0 L783.0,906.0Z" fill="#000" fill-opacity="0.220"/><path d="M832.0,955.0 L850.0,948.0 L880.0,962.0 L1000.0,962.0 L1000.0,990.0 L832.0,990.0Z" fill="#000" fill-opacity="0.140"/><path d="M890.0,985.0 L900.0,955.0 L913.0,942.0 L926.0,955.0 L935.0,985.0Z" fill="#000" fill-opacity="0.320"/><path d="M942.0,985.0 L952.0,958.0 L967.0,945.0 L980.0,958.0 L988.0,985.0Z" fill="#000" fill-opacity="0.280"/><path d="M780.0,942.0 L832.0,942.0 L832.0,1022.0 L780.0,1022.0Z" fill="#000" fill-opacity="0.450"/><path d="M832.0,994.0 L1015.0,994.0 L1015.0,1022.0 L832.0,1022.0Z" fill="#000" fill-opacity="0.240"/><path d="M783.0,1022.0 L1015.0,1022.0 L1015.0,1040.0 L783.0,1040.0Z" fill="#000" fill-opacity="0.380"/><path d="M175.0,1365.0 L188.0,1365.0 L188.0,1375.0 L175.0,1375.0Z" fill="#000" fill-opacity="0.400"/><path d="M404.0,1240.0 L460.0,1244.0 L530.0,1252.0 L600.0,1262.0 L600.0,1378.0 L404.0,1378.0Z" fill="#000" fill-opacity="0.120"/><path d="M500.0,1340.0 L600.0,1334.0 L600.0,1378.0 L500.0,1378.0Z" fill="#000" fill-opacity="0.200"/></g><g filter="url(#sp2)"><path d="M175.0,110.0 L215.0,110.0 L262.0,230.0 L150.0,230.0Z" fill="#000" fill-opacity="0.150"/><path d="M365.0,130.0 L425.0,130.0 L455.0,300.0 L355.0,300.0Z" fill="#000" fill-opacity="0.220"/><path d="M845.0,115.0 L895.0,115.0 L905.0,240.0 L845.0,240.0Z" fill="#000" fill-opacity="0.120"/><path d="M140.0,317.0 L1360.0,317.0 L1360.0,322.0 L140.0,322.0Z" fill="#000" fill-opacity="0.100"/><path d="M170.0,677.0 L1330.0,677.0 L1330.0,682.0 L170.0,682.0Z" fill="#000" fill-opacity="0.220"/><path d="M415.0,920.0 L443.0,880.0 L443.0,990.0 L398.0,990.0Z" fill="#000" fill-opacity="0.120"/><path d="M800.0,835.0 L925.0,835.0 L925.0,852.0 L800.0,852.0Z" fill="#000" fill-opacity="0.100"/><path d="M712.0,1022.0 L783.0,1025.0 L783.0,1040.0 L712.0,1040.0Z" fill="#000" fill-opacity="0.120"/><path d="M160.0,1036.0 L1015.0,1036.0 L1015.0,1042.0 L160.0,1042.0Z" fill="#000" fill-opacity="0.200"/><path d="M376.0,1352.0 L404.0,1352.0 L404.0,1378.0 L376.0,1378.0Z" fill="#000" fill-opacity="0.150"/><path d="M790.0,1330.0 L830.0,1330.0 L830.0,1360.0 L790.0,1360.0Z" fill="#000" fill-opacity="0.060"/><path d="M360.0,1397.0 L890.0,1397.0 L890.0,1403.0 L360.0,1403.0Z" fill="#000" fill-opacity="0.250"/></g>


<path d="M141.0,304.9C142 305 145.1 305.2 147.1 305.4C149.1 305.5 151.1 305.6 153.2 305.7C155.2 305.8 157.2 305.9 159.2 306C161.3 306 163.3 306 165.3 306C167.3 306 169.4 306 171.4 306C173.4 306 175.5 306 177.5 306C179.5 306 181.5 306.1 183.6 306.2C185.6 306.2 187.6 306.4 189.6 306.4C191.7 306.5 193.7 306.6 195.7 306.6C197.7 306.7 199.8 306.7 201.8 306.8C203.8 306.8 205.9 306.9 207.9 307C209.9 307 211.9 307.1 214 307.2C216 307.3 218 307.3 220 307.4C222.1 307.4 224.1 307.5 226.1 307.5C228.1 307.5 230.2 307.6 232.2 307.6C234.2 307.6 236.3 307.7 238.3 307.7C240.3 307.7 242.3 307.7 244.4 307.7C246.4 307.8 248.4 307.8 250.4 307.7C252.5 307.7 254.5 307.6 256.5 307.4C258.5 307.2 260.6 307 262.6 306.7C264.6 306.5 266.7 306.2 268.7 305.9C270.7 305.6 272.7 305.3 274.8 305.1C276.8 304.9 278.8 304.8 280.8 304.6C282.9 304.4 284.9 304.3 286.9 304.1C288.9 304 292 303.8 293 303.8" stroke="url(#g1)" stroke-width="3" fill="none" stroke-linecap="round"/>
<path d="M143.0,286.3C144 286.5 147 287 149 287.3C151.1 287.5 153.1 287.7 155.1 287.8C157.1 288 159.1 288.1 161.1 288.2C163.1 288.2 165.2 288.2 167.2 288.2C169.2 288.2 171.2 288.2 173.2 288.2C175.2 288.2 177.2 288.2 179.2 288.2C181.3 288.3 183.3 288.5 185.3 288.7C187.3 288.8 189.3 289 191.3 289.2C193.3 289.3 195.4 289.4 197.4 289.5C199.4 289.6 201.4 289.7 203.4 289.8C205.4 289.9 207.4 290 209.5 290.2C211.5 290.3 213.5 290.5 215.5 290.6C217.5 290.7 219.5 290.8 221.5 290.9C223.6 291 225.6 291.1 227.6 291.2C229.6 291.3 231.6 291.3 233.6 291.3C235.6 291.4 237.7 291.4 239.7 291.5C241.7 291.5 243.7 291.6 245.7 291.6C247.7 291.6 249.7 291.6 251.8 291.5C253.8 291.3 255.8 291.1 257.8 290.7C259.8 290.3 261.8 289.7 263.8 289.2C265.8 288.7 267.9 288.2 269.9 287.7C271.9 287.2 273.9 286.7 275.9 286.3C277.9 285.9 279.9 285.6 282 285.3C284 285 287 284.5 288 284.4" stroke="url(#g2)" stroke-width="5" fill="none" stroke-linecap="round"/>
<path d="M147.0,270.8C148 270.9 151.1 271.5 153.1 271.8C155.2 272 157.2 272.2 159.3 272.4C161.3 272.5 163.4 272.5 165.4 272.5C167.5 272.5 169.5 272.5 171.5 272.5C173.6 272.5 175.6 272.4 177.7 272.5C179.7 272.6 181.8 272.8 183.8 273C185.9 273.2 187.9 273.5 190 273.8C192 274 194 274.1 196.1 274.2C198.1 274.4 200.2 274.5 202.2 274.7C204.3 274.8 206.3 275 208.4 275.2C210.4 275.4 212.5 275.7 214.5 275.8C216.5 276 218.6 276.2 220.6 276.3C222.7 276.4 224.7 276.6 226.8 276.7C228.8 276.8 230.9 276.9 232.9 277C235 277 237 277.1 239 277.1C241.1 277.2 243.1 277.3 245.2 277.3C247.2 277.3 249.3 277.4 251.3 277.2C253.4 277 255.4 276.7 257.5 276.1C259.5 275.6 261.5 274.8 263.6 274.1C265.6 273.4 267.7 272.5 269.7 271.8C271.8 271.1 273.8 270.3 275.9 269.8C277.9 269.2 281 268.6 282 268.4" stroke="url(#g3)" stroke-width="3.5" fill="none" stroke-linecap="round"/>
<path d="M150.0,252.5C151 252.7 154.2 253.3 156.2 253.6C158.3 253.8 160.4 254 162.5 254.1C164.6 254.2 166.7 254.1 168.8 254.1C170.8 254.1 172.9 254.1 175 254.1C177.1 254.1 179.2 254.2 181.2 254.4C183.3 254.6 185.4 255.1 187.5 255.4C189.6 255.7 191.7 256 193.8 256.2C195.8 256.5 197.9 256.6 200 256.8C202.1 257 204.2 257.2 206.2 257.5C208.3 257.7 210.4 258.1 212.5 258.4C214.6 258.6 216.7 258.8 218.8 259.1C220.8 259.3 222.9 259.5 225 259.6C227.1 259.8 229.2 259.9 231.2 260C233.3 260.2 235.4 260.2 237.5 260.3C239.6 260.4 241.7 260.5 243.8 260.6C245.8 260.6 247.9 260.8 250 260.6C252.1 260.4 254.2 260 256.2 259.4C258.3 258.8 260.4 257.7 262.5 256.8C264.6 255.8 266.7 254.7 268.8 253.7C270.8 252.6 274 251.2 275 250.7" stroke="url(#g4)" stroke-width="5" fill="none" stroke-linecap="round"/>
<path d="M180.0,238.2C181 238.4 184.1 239 186.1 239.3C188.2 239.7 190.2 240.1 192.3 240.4C194.3 240.7 196.4 240.9 198.4 241.1C200.4 241.4 202.5 241.6 204.5 241.9C206.6 242.2 208.6 242.6 210.7 242.9C212.7 243.2 214.8 243.6 216.8 243.8C218.8 244.1 220.9 244.3 222.9 244.6C225 244.8 227 245 229.1 245.2C231.1 245.3 233.2 245.4 235.2 245.5C237.2 245.6 239.3 245.7 241.3 245.8C243.4 245.9 245.4 246.2 247.5 246.1C249.5 246 251.6 245.8 253.6 245.3C255.6 244.8 257.7 243.9 259.7 242.9C261.8 241.9 263.8 240.5 265.9 239.2C267.9 238 271 236.1 272 235.5" stroke="url(#g5)" stroke-width="4.2" fill="none" stroke-linecap="round"/>
<path d="M158.0,222.1C159 222.1 162.1 222.4 164.1 222.5C166.2 222.6 168.2 222.5 170.2 222.5C172.3 222.5 174.3 222.4 176.4 222.5C178.4 222.6 180.4 222.8 182.5 223.2C184.5 223.5 186.5 224.2 188.6 224.7C190.6 225.1 192.7 225.4 194.7 225.7C196.7 226 198.8 226.2 200.8 226.5C202.9 226.8 204.9 227.2 206.9 227.5C209 227.9 211 228.4 213.1 228.8C215.1 229.1 217.1 229.4 219.2 229.7C221.2 230 223.3 230.3 225.3 230.5C227.3 230.8 229.4 231 231.4 231.1C233.5 231.3 235.5 231.4 237.5 231.5C239.6 231.6 241.6 231.8 243.6 231.9C245.7 231.9 247.7 232.2 249.8 231.9C251.8 231.7 253.8 231.2 255.9 230.3C257.9 229.4 261 227.3 262 226.7" stroke="url(#g6)" stroke-width="3.5" fill="none" stroke-linecap="round"/>
<path d="M158.0,202.5C159 202.6 162.1 202.9 164.1 203C166.2 203.1 168.2 203 170.2 203C172.3 203 174.3 202.9 176.4 203C178.4 203.1 180.4 203.3 182.5 203.8C184.5 204.2 186.5 205.1 188.6 205.6C190.6 206.1 192.7 206.4 194.7 206.8C196.7 207.2 198.8 207.5 200.8 207.8C202.9 208.2 204.9 208.5 206.9 209C209 209.4 211 210 213.1 210.4C215.1 210.9 217.1 211.2 219.2 211.6C221.2 212 223.3 212.3 225.3 212.6C227.3 212.8 229.4 213.1 231.4 213.2C233.5 213.4 235.5 213.5 237.5 213.7C239.6 213.8 241.6 214 243.6 214.1C245.7 214.2 247.7 214.5 249.8 214.2C251.8 213.9 253.8 213.3 255.9 212.3C257.9 211.3 261 208.8 262 208.1" stroke="url(#g7)" stroke-width="3.5" fill="none" stroke-linecap="round"/>
<path d="M175.0,187.0C176 187.1 179.1 187.1 181.2 187.5C183.3 188 185.4 189 187.4 189.6C189.5 190.1 191.6 190.7 193.6 191.1C195.7 191.6 197.8 191.9 199.9 192.3C201.9 192.7 204 193.1 206.1 193.5C208.1 194 210.2 194.7 212.3 195.2C214.4 195.7 216.4 196.2 218.5 196.6C220.6 197 222.6 197.4 224.7 197.7C226.8 198 228.9 198.3 230.9 198.6C233 198.8 235.1 198.9 237.1 199.1C239.2 199.2 241.3 199.5 243.4 199.6C245.4 199.7 247.5 200.1 249.6 199.7C251.6 199.4 253.7 198.7 255.8 197.6C257.9 196.4 261 193.5 262 192.7" stroke="url(#g8)" stroke-width="3.5" fill="none" stroke-linecap="round"/>
<path d="M160.0,169.7C161.1 169.8 164.2 170 166.3 170C168.4 170 170.6 170 172.7 170C174.8 170 176.9 169.8 179 170.2C181.1 170.5 183.2 171.4 185.3 172.1C187.4 172.7 189.6 173.6 191.7 174.2C193.8 174.8 195.9 175.1 198 175.5C200.1 176 202.2 176.4 204.3 176.9C206.4 177.4 208.6 178.1 210.7 178.7C212.8 179.3 214.9 180 217 180.5C219.1 181 221.2 181.4 223.3 181.8C225.4 182.2 227.6 182.6 229.7 182.8C231.8 183.1 233.9 183.2 236 183.4C238.1 183.6 240.2 183.9 242.3 184C244.4 184.2 246.6 184.7 248.7 184.4C250.8 184.1 253.9 182.7 255 182.3" stroke="url(#g9)" stroke-width="3" fill="none" stroke-linecap="round"/>
<path d="M180.0,154.9C181 155.2 184 156.3 186 157.1C188 157.8 190 158.6 192 159.2C194 159.8 196 160.1 198 160.6C200 161 202 161.4 204 162C206 162.5 208 163.3 210 163.9C212 164.5 214 165.2 216 165.8C218 166.3 220 166.7 222 167.1C224 167.6 226 168.1 228 168.4C230 168.7 232 168.9 234 169.1C236 169.3 239 169.6 240 169.7" stroke="url(#g10)" stroke-width="3" fill="none" stroke-linecap="round"/>
<path d="M152.0,131.4C153 131.8 156 133.2 158 133.7C160 134.2 162 134.4 164 134.5C166 134.6 168 134.5 170 134.5C172 134.5 174 134.3 176 134.5C178 134.7 180 134.9 182 135.5C184 136.2 186 137.5 188 138.3C190 139.1 192 139.7 194 140.3C196 140.9 198 141.3 200 141.8C202 142.3 204 142.9 206 143.5C208 144.2 210 145.1 212 145.7C214 146.4 216 147.1 218 147.6C220 148.2 222 148.7 224 149.1C226 149.6 229 150.1 230 150.3" stroke="url(#g11)" stroke-width="3" fill="none" stroke-linecap="round"/>
<path d="M160.0,118.6C161 118.7 164.1 118.9 166.2 119C168.2 119.1 170.3 119 172.4 119C174.4 119 176.5 118.7 178.5 119.2C180.6 119.6 182.7 120.6 184.7 121.4C186.8 122.3 188.8 123.5 190.9 124.3C193 125.1 195 125.5 197.1 126.1C199.2 126.7 201.2 127.2 203.3 127.8C205.3 128.5 207.4 129.3 209.5 130.1C211.5 130.9 213.6 131.8 215.6 132.5C217.7 133.2 219.8 133.7 221.8 134.2C223.9 134.8 227 135.5 228 135.8" stroke="url(#g12)" stroke-width="3" fill="none" stroke-linecap="round"/>
<path d="M185.0,107.8C186.1 108.3 189.4 110.1 191.7 110.9C193.9 111.8 196.1 112.3 198.3 112.9C200.6 113.6 203.9 114.7 205 115" stroke="url(#g13)" stroke-width="2.5" fill="none" stroke-linecap="round"/>
<path d="M189.0,98.6L200.0,102.4" stroke="url(#g14)" stroke-width="2" fill="none" stroke-linecap="round"/>


<path d="M322.0,300.0C323 300.1 326 300.2 328 300.5C330.1 300.7 332.1 301 334.1 301.5C336.1 302 338.1 303.1 340.1 303.6C342.1 304 344.1 304 346.2 304.1C348.2 304.2 350.2 304.2 352.2 304.2C354.2 304.2 356.2 304.2 358.2 304.3C360.3 304.3 362.3 304.3 364.3 304.3C366.3 304.3 368.3 304.4 370.3 304.4C372.3 304.4 374.3 304.5 376.4 304.5C378.4 304.5 380.4 304.6 382.4 304.6C384.4 304.6 386.4 304.6 388.4 304.7C390.5 304.7 392.5 304.7 394.5 304.8C396.5 304.8 398.5 304.8 400.5 304.9C402.5 304.9 404.5 304.9 406.6 305C408.6 305 410.6 305 412.6 305.1C414.6 305.1 416.6 305.1 418.6 305.1C420.7 305.2 422.7 305.2 424.7 305.2C426.7 305.3 428.7 305.3 430.7 305.3C432.7 305.4 434.7 305.4 436.8 305.4C438.8 305.5 440.8 305.5 442.8 305.5C444.8 305.5 446.8 305.6 448.8 305.6C450.9 305.6 452.9 305.6 454.9 305.6C456.9 305.6 458.9 305.6 460.9 305.6C462.9 305.6 464.9 305.6 467 305.6C469 305.6 472 305.6 473 305.6" stroke="url(#g15)" stroke-width="3" fill="none" stroke-linecap="round"/>
<path d="M324.0,279.1C325 279.2 328 279.5 330 280.1C332 280.7 334 281.8 336 282.8C338 283.8 340 285.5 342 286.1C344 286.7 346 286.4 348 286.5C350 286.6 352 286.6 354 286.6C356 286.6 358 286.7 360 286.7C362 286.7 364 286.8 366 286.8C368 286.9 370 286.9 372 287C374 287 376 287.1 378 287.2C380 287.2 382 287.3 384 287.3C386 287.4 388 287.5 390 287.5C392 287.6 394 287.6 396 287.7C398 287.7 400 287.8 402 287.9C404 287.9 406 288 408 288C410 288.1 412 288.1 414 288.2C416 288.3 418 288.3 420 288.4C422 288.4 424 288.5 426 288.6C428 288.6 430 288.7 432 288.7C434 288.8 436 288.8 438 288.9C440 289 442 289 444 289.1C446 289.1 448 289.1 450 289.1C452 289.1 454 289.1 456 289.1C458 289.1 460 289.1 462 289.1C464 289.1 467 289.1 468 289.1" stroke="url(#g16)" stroke-width="5" fill="none" stroke-linecap="round"/>
<path d="M328.0,259.9C329 260.4 332 261.2 334 262.6C336.1 263.9 338.1 266.9 340.1 268.1C342.1 269.2 344.1 269.3 346.1 269.6C348.1 269.9 350.2 269.7 352.2 269.8C354.2 269.8 356.2 269.8 358.2 269.9C360.2 269.9 362.2 270 364.3 270C366.3 270.1 368.3 270.2 370.3 270.3C372.3 270.4 374.3 270.4 376.3 270.5C378.4 270.6 380.4 270.7 382.4 270.8C384.4 270.9 386.4 270.9 388.4 271C390.4 271.1 392.5 271.2 394.5 271.3C396.5 271.4 398.5 271.4 400.5 271.5C402.5 271.6 404.6 271.7 406.6 271.8C408.6 271.9 410.6 272 412.6 272C414.6 272.1 416.6 272.2 418.7 272.3C420.7 272.4 422.7 272.5 424.7 272.5C426.7 272.6 428.7 272.7 430.7 272.8C432.8 272.9 434.8 273 436.8 273C438.8 273.1 440.8 273.2 442.8 273.3C444.8 273.3 446.9 273.4 448.9 273.4C450.9 273.4 452.9 273.4 454.9 273.4C456.9 273.4 458.9 273.4 461 273.4C463 273.4 466 273.4 467 273.4" stroke="url(#g17)" stroke-width="3.5" fill="none" stroke-linecap="round"/>
<path d="M333.0,242.3C334 243.5 337.1 247.8 339.1 249.5C341.2 251.2 343.2 251.9 345.3 252.4C347.3 252.9 349.4 252.6 351.4 252.6C353.5 252.7 355.5 252.7 357.6 252.8C359.6 252.9 361.7 252.9 363.7 253C365.8 253.1 367.8 253.2 369.9 253.3C371.9 253.4 374 253.5 376 253.6C378 253.7 380.1 253.9 382.1 254C384.2 254.1 386.2 254.2 388.3 254.3C390.3 254.4 392.4 254.5 394.4 254.6C396.5 254.7 398.5 254.9 400.6 255C402.6 255.1 404.7 255.2 406.7 255.3C408.8 255.4 410.8 255.5 412.9 255.6C414.9 255.7 417 255.9 419 256C421 256.1 423.1 256.2 425.1 256.3C427.2 256.4 429.2 256.5 431.3 256.6C433.3 256.8 435.4 256.9 437.4 257C439.5 257.1 441.5 257.2 443.6 257.3C445.6 257.4 447.7 257.4 449.7 257.4C451.8 257.4 453.8 257.4 455.9 257.4C457.9 257.4 461 257.4 462 257.4" stroke="url(#g18)" stroke-width="5" fill="none" stroke-linecap="round"/>
<path d="M339.0,231.9C340 232.5 343 235 345.1 235.7C347.1 236.3 349.1 235.8 351.1 235.9C353.1 236 355.1 236 357.1 236.1C359.2 236.2 361.2 236.2 363.2 236.3C365.2 236.4 367.2 236.6 369.2 236.7C371.3 236.8 373.3 237 375.3 237.1C377.3 237.2 379.3 237.4 381.4 237.5C383.4 237.6 385.4 237.8 387.4 237.9C389.4 238 391.4 238.2 393.4 238.3C395.5 238.4 397.5 238.6 399.5 238.7C401.5 238.8 403.5 239 405.6 239.1C407.6 239.3 409.6 239.4 411.6 239.5C413.6 239.7 415.6 239.8 417.6 239.9C419.7 240.1 421.7 240.2 423.7 240.3C425.7 240.5 427.7 240.6 429.8 240.7C431.8 240.9 433.8 241 435.8 241.1C437.8 241.3 439.8 241.5 441.9 241.6C443.9 241.7 445.9 241.7 447.9 241.8C449.9 241.8 451.9 241.8 453.9 241.8C456 241.8 459 241.8 460 241.8" stroke="url(#g19)" stroke-width="4" fill="none" stroke-linecap="round"/>
<path d="M354.0,220.1C355 220.1 358 220.2 360.1 220.3C362.1 220.4 364.1 220.5 366.1 220.7C368.1 220.8 370.2 221 372.2 221.1C374.2 221.3 376.2 221.4 378.2 221.6C380.3 221.8 382.3 221.9 384.3 222.1C386.3 222.2 388.3 222.4 390.4 222.6C392.4 222.7 394.4 222.9 396.4 223C398.4 223.2 400.5 223.4 402.5 223.5C404.5 223.7 406.5 223.8 408.5 224C410.5 224.2 412.6 224.3 414.6 224.5C416.6 224.6 418.6 224.8 420.6 225C422.7 225.1 424.7 225.3 426.7 225.4C428.7 225.6 430.7 225.8 432.8 225.9C434.8 226.1 436.8 226.2 438.8 226.4C440.8 226.5 442.9 226.7 444.9 226.8C446.9 226.9 448.9 226.9 450.9 226.9C453 226.9 456 226.9 457 226.9" stroke="url(#g20)" stroke-width="4" fill="none" stroke-linecap="round"/>
<path d="M345.0,202.6C346 202.7 349.1 202.8 351.1 202.9C353.2 203 355.2 203.1 357.2 203.2C359.3 203.3 361.3 203.4 363.4 203.6C365.4 203.7 367.5 203.9 369.5 204C371.5 204.2 373.6 204.4 375.6 204.6C377.7 204.8 379.7 205 381.8 205.2C383.8 205.4 385.8 205.5 387.9 205.7C389.9 205.9 392 206.1 394 206.3C396 206.5 398.1 206.7 400.1 206.9C402.2 207 404.2 207.2 406.2 207.4C408.3 207.6 410.3 207.8 412.4 208C414.4 208.2 416.5 208.4 418.5 208.5C420.5 208.7 422.6 208.9 424.6 209.1C426.7 209.3 428.7 209.5 430.8 209.7C432.8 209.9 434.8 210 436.9 210.2C438.9 210.4 442 210.7 443 210.8" stroke="url(#g21)" stroke-width="3.3" fill="none" stroke-linecap="round"/>
<path d="M341.0,182.1C342 182.5 345.1 184.2 347.1 184.7C349.2 185.1 351.2 184.9 353.2 185C355.3 185.1 357.3 185.2 359.4 185.4C361.4 185.5 363.4 185.6 365.5 185.8C367.5 186 369.5 186.2 371.6 186.4C373.6 186.6 375.7 186.8 377.7 187C379.7 187.3 381.8 187.5 383.8 187.7C385.9 187.9 387.9 188.1 389.9 188.3C392 188.6 394 188.8 396.1 189C398.1 189.2 400.1 189.4 402.2 189.6C404.2 189.8 406.3 190.1 408.3 190.3C410.3 190.5 412.4 190.7 414.4 190.9C416.5 191.1 418.5 191.4 420.5 191.6C422.6 191.8 424.6 192 426.6 192.2C428.7 192.4 430.7 192.6 432.8 192.9C434.8 193.1 436.8 193.3 438.9 193.5C440.9 193.7 444 194 445 194.1" stroke="url(#g22)" stroke-width="3.3" fill="none" stroke-linecap="round"/>
<path d="M350.0,168.9C351 169 354 169.2 356.1 169.3C358.1 169.4 360.1 169.5 362.1 169.7C364.1 169.8 366.2 170 368.2 170.2C370.2 170.5 372.2 170.7 374.2 171C376.3 171.2 378.3 171.4 380.3 171.7C382.3 171.9 384.4 172.1 386.4 172.4C388.4 172.6 390.4 172.9 392.4 173.1C394.5 173.3 396.5 173.6 398.5 173.8C400.5 174 402.5 174.3 404.6 174.5C406.6 174.8 408.6 175 410.6 175.2C412.6 175.5 414.7 175.7 416.7 175.9C418.7 176.2 420.7 176.4 422.8 176.7C424.8 176.9 426.8 177.1 428.8 177.4C430.8 177.6 432.9 177.8 434.9 178.1C436.9 178.3 438.9 178.6 440.9 178.8C443 179 446 179.2 447 179.3" stroke="url(#g23)" stroke-width="3.3" fill="none" stroke-linecap="round"/>
<path d="M348.0,152.7C349.1 152.8 352.3 153 354.4 153.2C356.6 153.3 358.7 153.5 360.8 153.6C363 153.8 365.1 154 367.2 154.2C369.4 154.5 371.5 154.8 373.7 155.1C375.8 155.3 377.9 155.6 380.1 155.9C382.2 156.2 384.4 156.4 386.5 156.7C388.6 157 390.8 157.3 392.9 157.5C395.1 157.8 397.2 158.1 399.3 158.4C401.5 158.7 403.6 158.9 405.8 159.2C407.9 159.5 410 159.8 412.2 160C414.3 160.3 416.4 160.6 418.6 160.9C420.7 161.1 423.9 161.6 425 161.7" stroke="url(#g24)" stroke-width="3" fill="none" stroke-linecap="round"/>
<path d="M341.0,131.2C342 131.8 345.1 134 347.1 134.7C349.2 135.3 351.2 135 353.2 135.2C355.3 135.3 357.3 135.5 359.4 135.7C361.4 135.8 363.4 136 365.5 136.2C367.5 136.4 369.5 136.8 371.6 137.1C373.6 137.3 375.7 137.6 377.7 137.9C379.7 138.2 381.8 138.5 383.8 138.8C385.9 139.1 387.9 139.4 389.9 139.7C392 140 394 140.3 396.1 140.6C398.1 140.8 400.1 141.1 402.2 141.4C404.2 141.7 406.3 142 408.3 142.3C410.3 142.6 412.4 142.9 414.4 143.2C416.5 143.5 418.5 143.8 420.5 144.1C422.6 144.3 424.6 144.6 426.6 144.9C428.7 145.2 430.7 145.5 432.8 145.8C434.8 146.1 436.8 146.4 438.9 146.7C440.9 147 444 147.3 445 147.4" stroke="url(#g25)" stroke-width="3" fill="none" stroke-linecap="round"/>
<path d="M350.0,118.9C351 119 354.1 119.2 356.2 119.4C358.2 119.6 360.3 119.7 362.3 119.9C364.4 120.2 366.4 120.4 368.5 120.7C370.6 121 372.6 121.4 374.7 121.7C376.7 122 378.8 122.3 380.8 122.6C382.9 122.9 384.9 123.3 387 123.6C389.1 123.9 391.1 124.2 393.2 124.5C395.2 124.9 397.3 125.2 399.3 125.5C401.4 125.8 403.4 126.1 405.5 126.5C407.6 126.8 409.6 127.1 411.7 127.4C413.7 127.7 415.8 128 417.8 128.4C419.9 128.7 423 129.2 424 129.3" stroke="url(#g26)" stroke-width="3" fill="none" stroke-linecap="round"/>
<path d="M368.0,104.7C369.1 104.9 372.3 105.5 374.5 105.8C376.7 106.2 378.8 106.5 381 106.9C383.2 107.3 385.3 107.6 387.5 108C389.7 108.4 391.8 108.7 394 109.1C396.2 109.4 398.3 109.8 400.5 110.2C402.7 110.5 405.9 111.1 407 111.3" stroke="url(#g27)" stroke-width="2.5" fill="none" stroke-linecap="round"/>



<path d="M598.0,302.0C603.2 302.2 619.8 302.9 629 303.2C638.2 303.4 643 303.4 653 303.5C663 303.6 677.5 303.9 689 304C700.5 304.1 716.5 304.3 722 304.4" stroke="url(#g28)" stroke-width="5" fill="none" stroke-linecap="round"/>
<path d="M603.0,283.0C607.5 282.6 621.7 281.1 630 280.5C638.3 279.9 643.2 279.2 653 279.6C662.8 280.1 679.7 282.1 689 283.2C698.3 284.3 705.7 285.5 709 286" stroke="url(#g29)" stroke-width="3" fill="none" stroke-linecap="round"/>
<path d="M607.0,264.5C614.7 263.8 639.3 259.9 653 260.2C666.7 260.4 680.2 264.4 689 266C697.8 267.6 703.2 268.9 706 269.5" stroke="url(#g30)" stroke-width="2.5" fill="none" stroke-linecap="round"/>
<path d="M599.0,238.7C608 238.6 640.3 237.5 653 238C665.7 238.5 669.5 240.2 675 241.6C680.5 243 684.2 245.8 686 246.6" stroke="url(#g31)" stroke-width="2.5" fill="none" stroke-linecap="round"/>



<path d="M830.0,304.0C831 304.2 834 304.7 836 305C838 305.3 840 305.6 842 305.8C844 306 846 306 848 306.1C850 306.2 852 306.1 854 306.1C856 306.1 858 306.1 860 306.1C862 306.1 864 306.1 866 306.1C868 306.1 870 306.1 872 306.1C874 306.1 876 306.1 878 306.1C880 306.1 882 306.1 884 306.1C886 306.1 888 306.2 890 306.2C892 306.2 894 306.3 896 306.3C898 306.4 900 306.4 902 306.5C904 306.5 906 306.6 908 306.6C910 306.7 912 306.7 914 306.8C916 306.8 918 306.9 920 306.9C922 307 924 307.1 926 307.1C928 307.1 930 307.1 932 307.1C934 307.1 936 307.1 938 306.9C940 306.7 942 306.3 944 306C946 305.8 948 305.5 950 305.4C952 305.3 955 305.2 956 305.2" stroke="url(#g32)" stroke-width="3" fill="none" stroke-linecap="round"/>
<path d="M831.0,284.9C832 285.2 835.2 286.3 837.2 286.9C839.3 287.5 841.4 288 843.5 288.3C845.6 288.6 847.7 288.6 849.8 288.7C851.8 288.8 853.9 288.7 856 288.7C858.1 288.7 860.2 288.7 862.2 288.7C864.3 288.7 866.4 288.7 868.5 288.7C870.6 288.7 872.7 288.7 874.8 288.7C876.8 288.7 878.9 288.7 881 288.7C883.1 288.7 885.2 288.7 887.2 288.8C889.3 288.8 891.4 289 893.5 289.1C895.6 289.2 897.7 289.3 899.8 289.4C901.8 289.5 903.9 289.6 906 289.7C908.1 289.7 910.2 289.8 912.2 289.9C914.3 290 916.4 290.1 918.5 290.2C920.6 290.3 922.7 290.5 924.8 290.5C926.8 290.6 928.9 290.7 931 290.6C933.1 290.6 935.2 290.7 937.2 290.4C939.3 290 941.4 289.2 943.5 288.7C945.6 288.2 947.7 287.7 949.8 287.4C951.8 287.1 955 287 956 287" stroke="url(#g33)" stroke-width="5" fill="none" stroke-linecap="round"/>
<path d="M832.0,267.0C833 267.5 836 269.1 838 269.9C840.1 270.7 842.1 271.4 844.1 271.8C846.1 272.2 848.1 272.1 850.1 272.2C852.2 272.3 854.2 272.2 856.2 272.2C858.2 272.2 860.2 272.2 862.2 272.2C864.3 272.2 866.3 272.2 868.3 272.2C870.3 272.2 872.3 272.2 874.4 272.2C876.4 272.2 878.4 272.2 880.4 272.2C882.4 272.2 884.4 272.2 886.5 272.3C888.5 272.4 890.5 272.5 892.5 272.6C894.5 272.8 896.5 272.9 898.5 273.1C900.6 273.2 902.6 273.3 904.6 273.5C906.6 273.6 908.6 273.8 910.6 273.9C912.7 274 914.7 274.2 916.7 274.3C918.7 274.5 920.7 274.6 922.8 274.7C924.8 274.9 926.8 275 928.8 275C930.8 275.1 932.8 275.2 934.9 274.9C936.9 274.7 938.9 274.1 940.9 273.5C942.9 272.8 944.9 271.5 947 270.9C949 270.3 952 270.1 953 269.9" stroke="url(#g34)" stroke-width="3.5" fill="none" stroke-linecap="round"/>
<path d="M833.0,249.4C834 250 837 252.1 839.1 253.1C841.1 254.1 843.1 254.9 845.1 255.3C847.1 255.7 849.1 255.5 851.2 255.6C853.2 255.7 855.2 255.6 857.2 255.6C859.2 255.6 861.2 255.6 863.3 255.6C865.3 255.6 867.3 255.6 869.3 255.6C871.3 255.6 873.4 255.6 875.4 255.6C877.4 255.6 879.4 255.6 881.4 255.6C883.4 255.6 885.5 255.6 887.5 255.8C889.5 255.9 891.5 256.1 893.5 256.3C895.5 256.5 897.6 256.7 899.6 256.8C901.6 257 903.6 257.2 905.6 257.4C907.6 257.6 909.7 257.8 911.7 257.9C913.7 258.1 915.7 258.3 917.7 258.5C919.8 258.7 921.8 258.9 923.8 259C925.8 259.2 927.8 259.3 929.8 259.3C931.9 259.3 933.9 259.5 935.9 259.1C937.9 258.6 939.9 257.6 941.9 256.6C944 255.7 947 254.1 948 253.6" stroke="url(#g35)" stroke-width="5" fill="none" stroke-linecap="round"/>
<path d="M834.0,234.0C835 234.7 838 237.2 840 238.2C842 239.3 844 240.1 846 240.5C848 240.9 850 240.7 852 240.7C854 240.7 856 240.7 858 240.7C860 240.7 862 240.7 864 240.7C866 240.7 868 240.7 870 240.7C872 240.7 874 240.7 876 240.7C878 240.7 880 240.7 882 240.7C884 240.7 886 240.8 888 240.9C890 241.1 892 241.4 894 241.6C896 241.8 898 242 900 242.2C902 242.5 904 242.7 906 242.9C908 243.1 910 243.3 912 243.6C914 243.8 916 244 918 244.2C920 244.5 922 244.7 924 244.9C926 245.1 928 245.2 930 245.2C932 245.2 934 245.5 936 244.9C938 244.3 940 243 942 241.9C944 240.8 947 238.8 948 238.2" stroke="url(#g36)" stroke-width="4.5" fill="none" stroke-linecap="round"/>
<path d="M835.0,215.3C836 216.1 839.1 219 841.1 220.2C843.1 221.4 845.2 222.1 847.2 222.4C849.3 222.8 851.3 222.5 853.3 222.5C855.4 222.5 857.4 222.5 859.4 222.5C861.5 222.5 863.5 222.5 865.6 222.5C867.6 222.5 869.6 222.5 871.7 222.5C873.7 222.5 875.7 222.5 877.8 222.5C879.8 222.5 881.9 222.4 883.9 222.5C885.9 222.6 888 222.8 890 223C892 223.3 894.1 223.6 896.1 223.9C898.1 224.1 900.2 224.4 902.2 224.7C904.3 225 906.3 225.2 908.3 225.5C910.4 225.8 912.4 226 914.4 226.3C916.5 226.6 918.5 226.9 920.6 227.1C922.6 227.4 924.6 227.8 926.7 227.9C928.7 228 930.7 228.1 932.8 227.9C934.8 227.6 936.9 227.5 938.9 226.4C940.9 225.3 944 222.2 945 221.3" stroke="url(#g37)" stroke-width="4" fill="none" stroke-linecap="round"/>
<path d="M843.0,205.3C844 205.5 847 206.5 849.1 206.7C851.1 206.9 853.1 206.7 855.1 206.7C857.2 206.7 859.2 206.7 861.2 206.7C863.2 206.7 865.3 206.7 867.3 206.7C869.3 206.7 871.3 206.7 873.4 206.7C875.4 206.7 877.4 206.7 879.4 206.7C881.5 206.7 883.5 206.7 885.5 206.8C887.5 206.9 889.5 207.3 891.6 207.6C893.6 207.8 895.6 208.2 897.6 208.5C899.7 208.8 901.7 209.1 903.7 209.4C905.7 209.8 907.8 210.1 909.8 210.4C911.8 210.7 913.8 211 915.9 211.3C917.9 211.6 919.9 212 921.9 212.3C924 212.5 927 212.9 928 213" stroke="url(#g38)" stroke-width="3.5" fill="none" stroke-linecap="round"/>
<path d="M845.0,190.3C846.1 190.5 849.2 190.9 851.4 191C853.5 191.1 855.6 191 857.7 191C859.8 191 862 191 864.1 191C866.2 191 868.3 191 870.4 191C872.5 191 874.7 191 876.8 191C878.9 191 881 190.9 883.1 191C885.3 191.1 887.4 191.3 889.5 191.6C891.6 191.9 893.7 192.4 895.9 192.7C898 193.1 900.1 193.5 902.2 193.8C904.3 194.2 906.5 194.6 908.6 195C910.7 195.3 912.8 195.7 914.9 196.1C917 196.4 919.2 196.8 921.3 197.2C923.4 197.5 925.5 198 927.6 198.1C929.8 198.3 932.9 198 934 198" stroke="url(#g39)" stroke-width="3.5" fill="none" stroke-linecap="round"/>
<path d="M845.0,173.7C846 173.8 849.2 174.3 851.3 174.4C853.4 174.5 855.5 174.4 857.6 174.4C859.7 174.4 861.8 174.4 863.9 174.4C866 174.4 868 174.4 870.1 174.4C872.2 174.4 874.3 174.4 876.4 174.4C878.5 174.4 880.6 174.3 882.7 174.4C884.8 174.5 886.9 174.7 889 175C891.1 175.3 893.2 175.8 895.3 176.2C897.4 176.6 899.5 177.1 901.6 177.5C903.7 177.9 905.8 178.3 907.9 178.7C910 179.1 912 179.5 914.1 180C916.2 180.4 918.3 180.8 920.4 181.2C922.5 181.6 924.6 182.1 926.7 182.3C928.8 182.5 932 182.3 933 182.3" stroke="url(#g40)" stroke-width="3.5" fill="none" stroke-linecap="round"/>
<path d="M845.0,157.1C846.1 157.2 849.3 157.8 851.4 157.9C853.5 158 855.6 157.9 857.8 157.9C859.9 157.9 862 157.9 864.2 157.9C866.3 157.9 868.4 157.9 870.5 157.9C872.7 157.9 874.8 157.9 876.9 157.9C879.1 157.9 881.2 157.8 883.3 157.9C885.4 158 887.6 158.3 889.7 158.7C891.8 159.1 893.9 159.6 896.1 160.1C898.2 160.6 900.3 161 902.5 161.5C904.6 162 906.7 162.4 908.8 162.9C911 163.4 913.1 163.8 915.2 164.3C917.4 164.8 919.5 165.3 921.6 165.7C923.7 166.1 926.9 166.6 928 166.8" stroke="url(#g41)" stroke-width="3.5" fill="none" stroke-linecap="round"/>
<path d="M843.0,139.9C844 140.2 847.2 141.7 849.3 142.1C851.4 142.5 853.5 142.1 855.6 142.1C857.7 142.1 859.8 142.1 861.9 142.1C864 142.1 866 142.1 868.1 142.1C870.2 142.1 872.3 142.1 874.4 142.1C876.5 142.1 878.6 142 880.7 142.1C882.8 142.2 884.9 142.2 887 142.4C889.1 142.7 891.2 143.4 893.3 143.8C895.4 144.3 897.5 144.8 899.6 145.4C901.7 145.9 903.8 146.4 905.9 146.9C908 147.4 910 147.9 912.1 148.4C914.2 148.9 916.3 149.4 918.4 149.9C920.5 150.4 922.6 151 924.7 151.4C926.8 151.7 930 151.8 931 151.9" stroke="url(#g42)" stroke-width="3" fill="none" stroke-linecap="round"/>
<path d="M841.0,119.3C842 120 845.1 123 847.1 123.8C849.2 124.5 851.2 123.9 853.3 123.9C855.3 123.9 857.4 123.9 859.4 123.9C861.4 123.9 863.5 123.9 865.5 123.9C867.6 123.9 869.6 123.9 871.7 123.9C873.7 123.9 875.8 123.9 877.8 123.9C879.8 123.9 881.9 123.8 883.9 123.9C886 124.1 888 124.5 890.1 125C892.1 125.4 894.2 126 896.2 126.6C898.2 127.1 900.3 127.7 902.3 128.2C904.4 128.7 906.4 129.3 908.5 129.8C910.5 130.4 912.6 130.9 914.6 131.4C916.6 132 918.7 132.5 920.7 133C922.8 133.6 924.8 134.3 926.9 134.5C928.9 134.8 932 134.5 933 134.5" stroke="url(#g43)" stroke-width="3.5" fill="none" stroke-linecap="round"/>
<path d="M850.0,108.2C851.1 108.2 854.3 108.2 856.4 108.2C858.5 108.2 860.6 108.2 862.8 108.2C864.9 108.2 867 108.2 869.2 108.2C871.3 108.2 873.4 108.2 875.5 108.2C877.7 108.2 879.8 108.1 881.9 108.2C884.1 108.3 886.2 108.5 888.3 108.9C890.4 109.3 892.6 110.1 894.7 110.7C896.8 111.3 898.9 111.9 901.1 112.5C903.2 113.1 905.3 113.7 907.5 114.3C909.6 114.9 911.7 115.5 913.8 116.1C916 116.7 918.1 117.3 920.2 117.9C922.4 118.5 924.5 119.3 926.6 119.6C928.7 119.9 931.9 119.6 933 119.6" stroke="url(#g44)" stroke-width="3" fill="none" stroke-linecap="round"/>
<path d="M880.0,92.5C881.2 92.6 885 92.6 887.5 93C890 93.5 893.8 94.9 895 95.2" stroke="url(#g45)" stroke-width="2" fill="none" stroke-linecap="round"/>


<path d="M1067.0,296.0C1076 296.6 1105.7 298.6 1121 299.4C1136.3 300.2 1152.7 300.7 1159 301" stroke="url(#g46)" stroke-width="4.5" fill="none" stroke-linecap="round"/>
<path d="M1052.0,281.0C1060.8 280.9 1089 280.9 1105 280.5C1121 280.1 1140.8 278.8 1148 278.4" stroke="url(#g47)" stroke-width="3" fill="none" stroke-linecap="round"/>
<path d="M1057.0,262.0C1065 261.6 1091.2 260.6 1105 259.6C1118.8 258.7 1134.2 256.9 1140 256.3" stroke="url(#g48)" stroke-width="3" fill="none" stroke-linecap="round"/>
<path d="M1057.0,244.5C1063.3 243.8 1081.6 241.8 1095 240.2C1108.4 238.6 1130.4 235.7 1137.5 234.8" stroke="url(#g49)" stroke-width="3" fill="none" stroke-linecap="round"/>


<path d="M1247.0,304.4C1248 304.6 1251 305.2 1253 305.4C1255 305.7 1257 305.9 1259 306C1261 306.2 1263 306.1 1265 306.2C1267 306.2 1269 306.3 1271 306.5C1273 306.6 1275 306.7 1277 306.8C1279 306.9 1281 307.1 1283 307.2C1285 307.3 1287 307.5 1289 307.5C1291 307.5 1293 307.3 1295 307.2C1297 307.1 1299 306.8 1301 306.8C1303 306.7 1305 306.8 1307 306.9C1309 306.9 1311 307 1313 307C1315 307.1 1317 307.1 1319 307.2C1321 307.2 1323 307.3 1325 307.3C1327 307.4 1329 307.4 1331 307.4C1333 307.4 1335 307.3 1337 307.2C1339 307.1 1341 307.1 1343 306.9C1345 306.7 1347 306.3 1349 306.1C1351 305.9 1353 305.7 1355 305.7C1357 305.6 1360 305.6 1361 305.5" stroke="url(#g50)" stroke-width="3" fill="none" stroke-linecap="round"/>
<path d="M1248.0,287.5C1249 287.9 1252.1 289 1254.1 289.5C1256.1 290 1258.2 290.2 1260.2 290.4C1262.3 290.6 1264.3 290.4 1266.3 290.6C1268.4 290.7 1270.4 291 1272.4 291.2C1274.5 291.4 1276.5 291.7 1278.6 291.9C1280.6 292.1 1282.6 292.4 1284.7 292.5C1286.7 292.7 1288.7 293.1 1290.8 293C1292.8 292.9 1294.9 292.3 1296.9 292.1C1298.9 291.8 1301 291.6 1303 291.6C1305 291.6 1307.1 291.8 1309.1 291.9C1311.1 292 1313.2 292.1 1315.2 292.2C1317.3 292.3 1319.3 292.4 1321.3 292.5C1323.4 292.6 1325.4 292.7 1327.4 292.8C1329.5 292.8 1331.5 292.7 1333.6 292.7C1335.6 292.6 1337.6 292.5 1339.7 292.3C1341.7 292 1343.7 291.6 1345.8 291.2C1347.8 290.8 1349.9 290.2 1351.9 289.9C1353.9 289.6 1357 289.5 1358 289.5" stroke="url(#g51)" stroke-width="5" fill="none" stroke-linecap="round"/>
<path d="M1249.0,270.0C1250 270.5 1253 272.1 1255 272.8C1257 273.4 1259 273.6 1261 273.8C1263 274 1265 273.9 1267 274.1C1269 274.4 1271 274.8 1273 275.1C1275 275.4 1277 275.7 1279 276.1C1281 276.4 1283 276.8 1285 277C1287 277.3 1289 277.7 1291 277.6C1293 277.5 1295 276.6 1297 276.2C1299 275.9 1301 275.6 1303 275.6C1305 275.5 1307 275.8 1309 276C1311 276.1 1313 276.3 1315 276.4C1317 276.6 1319 276.7 1321 276.8C1323 277 1325 277.2 1327 277.3C1329 277.3 1331 277.3 1333 277.2C1335 277.1 1337 277 1339 276.6C1341 276.3 1343 275.8 1345 275.3C1347 274.7 1350 273.6 1351 273.3" stroke="url(#g52)" stroke-width="3.5" fill="none" stroke-linecap="round"/>
<path d="M1249.0,254.0C1250.1 254.6 1253.2 256.9 1255.3 257.7C1257.4 258.5 1259.5 258.6 1261.6 258.9C1263.7 259.2 1265.8 259.2 1267.9 259.5C1270 259.8 1272.1 260.4 1274.2 260.8C1276.4 261.3 1278.5 261.7 1280.6 262.1C1282.7 262.6 1284.8 263.2 1286.9 263.5C1289 263.7 1291.1 263.8 1293.2 263.4C1295.3 263.1 1297.4 261.7 1299.5 261.4C1301.6 261 1303.7 261.3 1305.8 261.4C1307.9 261.5 1310 261.8 1312.1 262C1314.2 262.2 1316.3 262.4 1318.4 262.6C1320.5 262.8 1322.6 263 1324.8 263.2C1326.9 263.3 1329 263.5 1331.1 263.4C1333.2 263.4 1335.3 263.1 1337.4 262.8C1339.5 262.4 1341.6 262 1343.7 261.3C1345.8 260.6 1348.9 259 1350 258.6" stroke="url(#g53)" stroke-width="5" fill="none" stroke-linecap="round"/>
<path d="M1250.0,238.8C1251 239.5 1254.2 242.1 1256.2 242.9C1258.3 243.8 1260.4 243.7 1262.5 244C1264.6 244.4 1266.7 244.5 1268.8 245C1270.8 245.4 1272.9 246 1275 246.6C1277.1 247.1 1279.2 247.6 1281.2 248.2C1283.3 248.7 1285.4 249.6 1287.5 249.7C1289.6 249.9 1291.7 249.8 1293.8 249.3C1295.8 248.9 1297.9 247.3 1300 246.9C1302.1 246.6 1304.2 247 1306.2 247.1C1308.3 247.3 1310.4 247.6 1312.5 247.8C1314.6 248.1 1316.7 248.3 1318.8 248.6C1320.8 248.8 1322.9 249.1 1325 249.3C1327.1 249.4 1329.2 249.6 1331.2 249.6C1333.3 249.5 1335.4 249.1 1337.5 248.7C1339.6 248.3 1341.7 247.8 1343.8 247C1345.8 246.1 1349 244.1 1350 243.6" stroke="url(#g54)" stroke-width="4" fill="none" stroke-linecap="round"/>
<path d="M1251.0,223.9C1252 224.6 1255 227.3 1257.1 228.2C1259.1 229.1 1261.1 228.8 1263.1 229.2C1265.1 229.5 1267.2 229.9 1269.2 230.4C1271.2 230.9 1273.2 231.6 1275.2 232.2C1277.3 232.8 1279.3 233.4 1281.3 234C1283.3 234.6 1285.4 235.6 1287.4 235.9C1289.4 236.1 1291.4 236.1 1293.4 235.5C1295.5 235 1297.5 233.2 1299.5 232.7C1301.5 232.2 1303.5 232.6 1305.6 232.7C1307.6 232.9 1309.6 233.3 1311.6 233.5C1313.6 233.8 1315.7 234.1 1317.7 234.4C1319.7 234.6 1321.7 234.9 1323.8 235.2C1325.8 235.4 1327.8 235.8 1329.8 235.7C1331.8 235.7 1333.9 235.3 1335.9 235C1337.9 234.6 1339.9 234.3 1341.9 233.5C1344 232.6 1347 230.5 1348 229.9" stroke="url(#g55)" stroke-width="4" fill="none" stroke-linecap="round"/>
<path d="M1263.0,214.2C1264.1 214.5 1267.3 215.1 1269.4 215.8C1271.6 216.4 1273.7 217.3 1275.9 218C1278 218.8 1280.2 219.5 1282.3 220.3C1284.5 221 1286.6 222.3 1288.8 222.4C1290.9 222.5 1293.1 221.3 1295.2 220.6C1297.4 219.8 1299.5 218.3 1301.7 218C1303.8 217.7 1306 218.5 1308.1 218.8C1310.3 219.1 1312.4 219.4 1314.6 219.8C1316.7 220.1 1319.9 220.6 1321 220.8" stroke="url(#g56)" stroke-width="3" fill="none" stroke-linecap="round"/>
<path d="M1263.0,197.7C1264.1 197.9 1267.2 198.6 1269.4 199.4C1271.5 200.1 1273.6 201.1 1275.7 201.9C1277.8 202.8 1280 203.6 1282.1 204.5C1284.2 205.3 1286.3 206.8 1288.5 207C1290.6 207.1 1292.7 206.1 1294.8 205.2C1296.9 204.4 1299.1 202.4 1301.2 202C1303.3 201.6 1305.4 202.4 1307.5 202.8C1309.7 203.1 1311.8 203.5 1313.9 203.9C1316 204.3 1318.2 204.7 1320.3 205C1322.4 205.4 1324.5 206 1326.6 206.2C1328.8 206.3 1331.9 206.1 1333 206.1" stroke="url(#g57)" stroke-width="3.5" fill="none" stroke-linecap="round"/>
<path d="M1260.0,184.3C1261.1 184.4 1264.2 184.6 1266.4 185.1C1268.5 185.7 1270.6 186.9 1272.7 187.8C1274.8 188.7 1277 189.7 1279.1 190.6C1281.2 191.6 1283.3 192.8 1285.5 193.5C1287.6 194.1 1289.7 195.2 1291.8 194.6C1293.9 194.1 1296.1 191.1 1298.2 190.3C1300.3 189.4 1302.4 189.4 1304.5 189.5C1306.7 189.6 1308.8 190.3 1310.9 190.8C1313 191.2 1315.2 191.6 1317.3 192C1319.4 192.4 1321.5 192.9 1323.6 193.3C1325.8 193.6 1328.9 194 1330 194.1" stroke="url(#g58)" stroke-width="3.5" fill="none" stroke-linecap="round"/>
<path d="M1263.0,167.9C1264 168.2 1267.1 169 1269.1 169.8C1271.1 170.7 1273.2 171.8 1275.2 172.8C1277.2 173.9 1279.2 174.9 1281.3 175.9C1283.3 176.9 1285.3 178.5 1287.4 178.9C1289.4 179.3 1291.4 179.2 1293.5 178.4C1295.5 177.5 1297.5 174.4 1299.5 173.7C1301.6 172.9 1303.6 173.5 1305.6 173.8C1307.7 174 1309.7 174.7 1311.7 175.1C1313.8 175.5 1315.8 176 1317.8 176.4C1319.8 176.9 1321.9 177.4 1323.9 177.8C1325.9 178.2 1329 178.5 1330 178.7" stroke="url(#g59)" stroke-width="3.5" fill="none" stroke-linecap="round"/>
<path d="M1280.0,163.0C1281 163.6 1284 165.5 1286 166.3C1288 167 1291 167.1 1292 167.3" stroke="url(#g60)" stroke-width="2.5" fill="none" stroke-linecap="round"/>
<path d="M1263.0,138.1C1264.2 138.6 1267.9 139.9 1270.3 141.1C1272.8 142.4 1275.2 144 1277.7 145.5C1280.1 146.9 1283.8 149.1 1285 149.8" stroke="url(#g61)" stroke-width="3" fill="none" stroke-linecap="round"/>
<path d="M1263.0,121.5C1264.2 122 1267.8 123.4 1270.2 124.8C1272.7 126.1 1275.1 127.9 1277.5 129.4C1279.9 131 1282.3 133 1284.8 134.1C1287.2 135.2 1290.8 135.8 1292 136.1" stroke="url(#g62)" stroke-width="2.5" fill="none" stroke-linecap="round"/>
<path d="M1265.0,107.1L1275.0,113.4" stroke="url(#g63)" stroke-width="2" fill="none" stroke-linecap="round"/>

<path d="M181.0,670.2C182.1 670.1 185.2 670 187.4 670C189.5 669.9 191.6 669.9 193.7 669.9C195.8 669.8 198 669.8 200.1 669.8C202.2 669.8 204.3 669.7 206.5 669.7C208.6 669.7 210.7 669.7 212.8 669.8C214.9 669.8 217.1 669.8 219.2 669.8C221.3 669.9 223.4 669.9 225.5 670C227.7 670 229.8 670.1 231.9 670.2C234 670.3 236.2 670.4 238.3 670.4C240.4 670.5 242.5 670.5 244.6 670.6C246.8 670.6 249.9 670.7 251 670.7" stroke="url(#g64)" stroke-width="2.5" fill="none" stroke-linecap="round"/>
<path d="M173.0,656.5C174 656.4 177 656.3 179 656.2C181 656.1 183 656 185 655.9C187 655.8 189 655.7 191 655.6C193 655.6 195 655.5 197 655.5C199 655.4 201 655.4 203 655.3C205 655.3 207 655.2 209 655.2C211 655.3 213 655.3 215 655.4C217 655.4 219 655.5 221 655.5C223 655.6 225 655.7 227 655.8C229 655.9 231 656.1 233 656.3C235 656.4 237 656.6 239 656.7C241 656.8 243 656.9 245 657C247 657 250 657.1 251 657.2" stroke="url(#g65)" stroke-width="4.2" fill="none" stroke-linecap="round"/>
<path d="M173.0,645.3C174 645.2 177.1 645 179.2 644.9C181.2 644.8 183.3 644.6 185.3 644.5C187.4 644.3 189.4 644.2 191.5 644.1C193.6 644 195.6 643.9 197.7 643.9C199.7 643.8 201.8 643.7 203.8 643.6C205.9 643.6 207.9 643.6 210 643.6C212.1 643.6 214.1 643.7 216.2 643.8C218.2 643.9 220.3 643.9 222.3 644C224.4 644.1 226.4 644.3 228.5 644.5C230.6 644.7 232.6 645 234.7 645.2C236.7 645.4 238.8 645.6 240.8 645.8C242.9 645.9 246 646 247 646.1" stroke="url(#g66)" stroke-width="5" fill="none" stroke-linecap="round"/>
<path d="M175.0,633.2C176 633.1 179.1 632.8 181.1 632.6C183.1 632.5 185.1 632.2 187.2 632.1C189.2 631.9 191.2 631.8 193.2 631.7C195.3 631.5 197.3 631.5 199.3 631.4C201.3 631.3 203.4 631.2 205.4 631.1C207.4 631.1 209.4 631.1 211.5 631.2C213.5 631.2 215.5 631.3 217.5 631.5C219.6 631.6 221.6 631.6 223.6 631.8C225.6 631.9 227.7 632.2 229.7 632.5C231.7 632.7 233.7 633.1 235.8 633.3C237.8 633.6 239.8 633.9 241.8 634C243.9 634.2 245.9 634.3 247.9 634.4C249.9 634.5 253 634.6 254 634.7" stroke="url(#g67)" stroke-width="4" fill="none" stroke-linecap="round"/>
<path d="M175.0,620.2C176.1 620 179.2 619.7 181.4 619.4C183.5 619.2 185.6 618.9 187.7 618.7C189.8 618.5 192 618.3 194.1 618.2C196.2 618 198.3 617.9 200.5 617.8C202.6 617.7 204.7 617.5 206.8 617.5C208.9 617.5 211.1 617.6 213.2 617.7C215.3 617.8 217.4 617.9 219.5 618.1C221.7 618.2 223.8 618.4 225.9 618.6C228 618.9 230.2 619.3 232.3 619.7C234.4 620.1 236.5 620.5 238.6 620.8C240.8 621.1 243.9 621.3 245 621.4" stroke="url(#g68)" stroke-width="4.5" fill="none" stroke-linecap="round"/>
<path d="M175.0,609.0C176 608.9 179 608.5 181 608.2C183 608 185 607.6 187 607.4C189 607.2 191 607 193 606.8C195 606.6 197 606.5 199 606.4C201 606.3 203 606.1 205 606C207 605.9 209 605.9 211 606C213 606.1 215 606.3 217 606.4C219 606.6 221 606.6 223 606.9C225 607.1 227 607.5 229 607.8C231 608.2 233 608.7 235 609.1C237 609.5 239 609.9 241 610.2C243 610.4 246 610.6 247 610.7" stroke="url(#g69)" stroke-width="4" fill="none" stroke-linecap="round"/>
<path d="M183.0,594.8C184 594.7 187 594.1 189 593.9C191 593.6 193 593.5 195 593.3C197 593.1 199 593 201 592.8C203 592.7 205 592.5 207 592.4C209 592.4 211 592.6 213 592.7C215 592.8 217 593 219 593.2C221 593.4 223 593.5 225 593.8C227 594.2 229 594.7 231 595.2C233 595.6 236 596.4 237 596.6" stroke="url(#g70)" stroke-width="3.5" fill="none" stroke-linecap="round"/>
<path d="M190.0,581.4C191.1 581.2 194.6 580.9 196.8 580.7C199.1 580.5 201.4 580.2 203.7 580.1C205.9 580 208.2 579.9 210.5 579.9C212.8 580 215.1 580.3 217.3 580.6C219.6 580.8 221.9 580.9 224.2 581.3C226.4 581.7 229.9 582.7 231 582.9" stroke="url(#g71)" stroke-width="3" fill="none" stroke-linecap="round"/>
<path d="M196.0,567.3C197 567.2 200.1 566.8 202.1 566.7C204.2 566.5 206.2 566.3 208.3 566.3C210.3 566.3 212.4 566.6 214.4 566.8C216.5 567 218.5 567.1 220.6 567.4C222.6 567.7 224.7 568 226.7 568.5C228.8 569 230.8 569.7 232.9 570.4C234.9 571 238 571.9 239 572.2" stroke="url(#g72)" stroke-width="3" fill="none" stroke-linecap="round"/>
<path d="M183.0,557.1C184 556.9 187.1 556.1 189.2 555.7C191.3 555.3 193.4 555.1 195.4 554.9C197.5 554.6 199.6 554.4 201.7 554.2C203.7 554 205.8 553.7 207.9 553.7C210 553.7 212 554 214.1 554.2C216.2 554.4 218.3 554.6 220.3 554.9C222.4 555.2 224.5 555.5 226.6 556.1C228.6 556.6 230.7 557.5 232.8 558.2C234.9 558.9 238 559.9 239 560.3" stroke="url(#g73)" stroke-width="4.5" fill="none" stroke-linecap="round"/>
<path d="M175.0,546.9C176 546.7 179.1 545.9 181.2 545.4C183.3 544.9 185.3 544.3 187.4 543.8C189.5 543.4 191.5 543 193.6 542.7C195.7 542.4 197.7 542.2 199.8 542C201.9 541.7 203.9 541.3 206 541.3C208.1 541.2 210.1 541.4 212.2 541.5C214.3 541.7 216.3 542 218.4 542.3C220.5 542.6 222.5 542.8 224.6 543.3C226.7 543.8 228.7 544.6 230.8 545.4C232.9 546.1 236 547.3 237 547.7" stroke="url(#g74)" stroke-width="4" fill="none" stroke-linecap="round"/>
<path d="M181.0,533.2C182 532.9 185 532 187 531.6C189 531.1 191 530.7 193 530.4C195 530 197 529.8 199 529.6C201 529.3 203 528.9 205 528.8C207 528.7 209 528.7 211 528.8C213 529 215 529.4 217 529.6C219 529.9 221 530 223 530.5C225 531 227 531.7 229 532.4C231 533.1 234 534.5 235 534.9" stroke="url(#g75)" stroke-width="3.5" fill="none" stroke-linecap="round"/>


<path d="M301.0,537.0L392.0,537.0" stroke="url(#g76)" stroke-width="3" fill="none" stroke-linecap="round"/>
<path d="M301.0,556.4L392.0,556.4" stroke="url(#g77)" stroke-width="3.5" fill="none" stroke-linecap="round"/>
<path d="M305.0,574.0L385.0,574.0" stroke="url(#g78)" stroke-width="3" fill="none" stroke-linecap="round"/>
<path d="M291.0,615.5C297.5 615.2 318.5 614.4 330 614C341.5 613.6 352.5 613 360 613C367.5 613 369 613.5 375 614C381 614.5 392.5 615.7 396 616" stroke="url(#g79)" stroke-width="11" fill="none" stroke-linecap="round"/>
<path d="M295.0,644.5C300.8 644.6 319.2 645.2 330 645C340.8 644.8 349 643.1 360 643C371 642.9 390 644.2 396 644.5" stroke="url(#g80)" stroke-width="8" fill="none" stroke-linecap="round"/>
<path d="M399.7,612.0L399.7,650.0" stroke="#000" stroke-opacity="0.500" stroke-width="2" fill="none" stroke-linecap="round"/>
<path d="M339.7,663.9L393.9,663.9" stroke="url(#g81)" stroke-width="3" fill="none" stroke-linecap="round"/>
<path d="M309.0,659.0L393.0,659.0" stroke="url(#g82)" stroke-width="2" fill="none" stroke-linecap="round"/>
<path d="M315.0,669.0L390.0,669.0" stroke="url(#g83)" stroke-width="2" fill="none" stroke-linecap="round"/>
<path d="M463.0,669.3C464.5 669.3 469 669.3 472 669.3C475 669.3 478 669.3 481 669.3C484 669.2 487 669.3 490 669.2C493 669.2 496 669.2 499 669.2C502 669.3 505 669.3 508 669.3C511 669.3 514 669.4 517 669.5C520 669.5 523 669.6 526 669.6C529 669.7 532 669.7 535 669.8C538 669.8 541 669.9 544 669.9C547 670 550 670 553 670C556 670.1 559 670.1 562 670.2C565 670.2 568 670.3 571 670.3C574 670.4 577 670.4 580 670.4C583 670.4 586 670.4 589 670.4C592 670.4 595 670.4 598 670.4C601 670.4 604 670.3 607 670.3C610 670.3 613 670.2 616 670.2C619 670.2 622 670.1 625 670.1C628 670 631 670 634 670C637 669.9 640 669.8 643 669.7C646 669.6 649 669.6 652 669.5C655 669.4 658 669.3 661 669.2C664 669.1 667 669 670 668.9C673 668.9 676 668.7 679 668.7C682 668.6 685 668.5 688 668.5C691 668.5 694 668.5 697 668.6C700 668.6 703 668.6 706 668.7C709 668.7 712 668.8 715 668.8C718 668.8 721 668.9 724 668.9C727 668.9 730 668.9 733 668.9C736 669 739 669 742 669C745 669 748 669 751 669.1C754 669.1 757 669.1 760 669.1C763 669.1 766 669.2 769 669.2C772 669.2 775 669.2 778 669.2C781 669.2 784 669.2 787 669.2C790 669.2 793 669.2 796 669.2C799 669.2 802 669.2 805 669.2C808 669.2 811 669.2 814 669.1C817 669.1 820 669.1 823 669.1C826 669.1 829 669.1 832 669.1C835 669.1 838 669.2 841 669.2C844 669.2 847 669.3 850 669.3C853 669.3 856 669.4 859 669.4C862 669.4 865 669.4 868 669.5C871 669.5 874 669.5 877 669.6C880 669.6 883 669.6 886 669.7C889 669.7 892 669.7 895 669.8C898 669.8 901 669.8 904 669.9C907 669.9 910 669.9 913 670C916 670 919 670 922 670.1C925 670.1 928 670.1 931 670.1C934 670.1 937 670 940 670C943 669.9 946 669.8 949 669.8C952 669.7 955 669.7 958 669.6C961 669.5 964 669.5 967 669.4C970 669.4 973 669.3 976 669.2C979 669.2 982 669.1 985 669.1C988 669.1 991 669 994 669C997 668.9 1000 668.9 1003 668.8C1006 668.8 1009 668.7 1012 668.7C1015 668.7 1018 668.6 1021 668.6C1024 668.6 1027 668.7 1030 668.7C1033 668.7 1036 668.8 1039 668.8C1042 668.8 1045 668.9 1048 668.9C1051 668.9 1054 668.9 1057 669C1060 669 1063 669 1066 669.1C1069 669.1 1072 669.2 1075 669.2C1078 669.3 1081 669.3 1084 669.4C1087 669.4 1090 669.5 1093 669.5C1096 669.5 1099 669.6 1102 669.6C1105 669.6 1108 669.6 1111 669.6C1114 669.6 1117 669.6 1120 669.6C1123 669.6 1126 669.6 1129 669.6C1132 669.6 1135 669.6 1138 669.6C1141 669.6 1144 669.6 1147 669.6C1150 669.6 1153 669.6 1156 669.6C1159 669.6 1162 669.6 1165 669.6C1168 669.6 1171 669.6 1174 669.6C1177 669.6 1180 669.6 1183 669.6C1186 669.6 1189 669.6 1192 669.6C1195 669.6 1198 669.6 1201 669.6C1204 669.6 1207 669.6 1210 669.6C1213 669.6 1216 669.6 1219 669.7C1222 669.7 1225 669.7 1228 669.7C1231 669.7 1234 669.7 1237 669.7C1240 669.7 1243 669.7 1246 669.7C1249 669.7 1252 669.8 1255 669.8C1258 669.8 1261 669.8 1264 669.8C1267 669.8 1270 669.8 1273 669.9C1276 669.9 1279 669.9 1282 669.9C1285 669.9 1288 669.9 1291 669.9C1294 669.9 1297.5 670 1300 670C1302.5 670 1305 670 1306 670" stroke="url(#g84)" stroke-width="2" fill="none" stroke-linecap="butt"/>
<path d="M463.0,656.8C464.5 656.8 469 656.8 472 656.8C475 656.8 478 656.8 481 656.8C484 656.7 487 656.8 490 656.8C493 656.7 496 656.7 499 656.8C502 656.8 505 656.8 508 656.9C511 656.9 514 657.1 517 657.2C520 657.3 523 657.4 526 657.5C529 657.6 532 657.7 535 657.8C538 657.9 541 658 544 658.1C547 658.2 550 658.2 553 658.3C556 658.4 559 658.5 562 658.6C565 658.7 568 658.8 571 658.9C574 659 577 659.1 580 659.1C583 659.1 586 659.1 589 659.1C592 659.1 595 659 598 659C601 659 604 658.9 607 658.9C610 658.8 613 658.7 616 658.7C619 658.6 622 658.5 625 658.4C628 658.3 631 658.3 634 658.2C637 658 640 657.9 643 657.7C646 657.5 649 657.4 652 657.2C655 657 658 656.9 661 656.7C664 656.5 667 656.3 670 656.1C673 656 676 655.7 679 655.6C682 655.4 685 655.3 688 655.2C691 655.2 694 655.3 697 655.4C700 655.4 703 655.5 706 655.6C709 655.7 712 655.8 715 655.8C718 655.9 721 656 724 656C727 656.1 730 656.1 733 656.1C736 656.2 739 656.2 742 656.2C745 656.3 748 656.3 751 656.4C754 656.4 757 656.4 760 656.5C763 656.5 766 656.6 769 656.6C772 656.6 775 656.7 778 656.7C781 656.7 784 656.7 787 656.7C790 656.7 793 656.7 796 656.7C799 656.6 802 656.6 805 656.6C808 656.6 811 656.6 814 656.5C817 656.5 820 656.5 823 656.5C826 656.5 829 656.5 832 656.5C835 656.5 838 656.6 841 656.7C844 656.7 847 656.8 850 656.9C853 656.9 856 657 859 657C862 657.1 865 657.1 868 657.2C871 657.3 874 657.3 877 657.4C880 657.5 883 657.5 886 657.6C889 657.6 892 657.7 895 657.8C898 657.8 901 657.9 904 658C907 658 910 658.1 913 658.2C916 658.2 919 658.3 922 658.4C925 658.4 928 658.5 931 658.5C934 658.4 937 658.3 940 658.1C943 658 946 657.9 949 657.8C952 657.7 955 657.5 958 657.4C961 657.3 964 657.2 967 657.1C970 657 973 656.8 976 656.7C979 656.6 982 656.5 985 656.4C988 656.4 991 656.3 994 656.2C997 656.1 1000 656 1003 655.9C1006 655.8 1009 655.7 1012 655.6C1015 655.6 1018 655.5 1021 655.5C1024 655.5 1027 655.6 1030 655.7C1033 655.7 1036 655.8 1039 655.9C1042 655.9 1045 656 1048 656C1051 656.1 1054 656.1 1057 656.2C1060 656.3 1063 656.3 1066 656.4C1069 656.5 1072 656.6 1075 656.7C1078 656.8 1081 656.9 1084 657C1087 657.1 1090 657.2 1093 657.2C1096 657.3 1099 657.4 1102 657.4C1105 657.5 1108 657.4 1111 657.5C1114 657.5 1117 657.5 1120 657.5C1123 657.5 1126 657.5 1129 657.5C1132 657.5 1135 657.5 1138 657.5C1141 657.5 1144 657.5 1147 657.5C1150 657.5 1153 657.5 1156 657.5C1159 657.5 1162 657.5 1165 657.5C1168 657.5 1171 657.5 1174 657.5C1177 657.5 1180 657.5 1183 657.5C1186 657.5 1189 657.4 1192 657.5C1195 657.5 1198 657.5 1201 657.5C1204 657.5 1207 657.5 1210 657.5C1213 657.5 1216 657.5 1219 657.6C1222 657.6 1225 657.6 1228 657.6C1231 657.6 1234 657.7 1237 657.7C1240 657.7 1243 657.7 1246 657.7C1249 657.7 1252 657.8 1255 657.8C1258 657.8 1261 657.8 1264 657.9C1267 657.9 1270 657.9 1273 658C1276 658 1279 658 1282 658C1285 658.1 1288 658.1 1291 658.1C1294 658.1 1297.5 658.2 1300 658.2C1302.5 658.2 1305 658.2 1306 658.2" stroke="url(#g85)" stroke-width="3" fill="none" stroke-linecap="butt"/>
<path d="M463.0,644.4C464.5 644.4 469 644.4 472 644.3C475 644.3 478 644.3 481 644.3C484 644.2 487 644.3 490 644.2C493 644.2 496 644.2 499 644.2C502 644.3 505 644.3 508 644.4C511 644.5 514 644.7 517 644.9C520 645 523 645.2 526 645.3C529 645.5 532 645.6 535 645.8C538 645.9 541 646.1 544 646.2C547 646.4 550 646.5 553 646.6C556 646.8 559 646.9 562 647C565 647.2 568 647.3 571 647.4C574 647.6 577 647.7 580 647.8C583 647.8 586 647.8 589 647.7C592 647.7 595 647.7 598 647.6C601 647.6 604 647.5 607 647.5C610 647.4 613 647.2 616 647.1C619 647 622 646.9 625 646.8C628 646.6 631 646.5 634 646.4C637 646.2 640 645.9 643 645.7C646 645.4 649 645.2 652 644.9C655 644.7 658 644.4 661 644.2C664 643.9 667 643.6 670 643.3C673 643.1 676 642.7 679 642.5C682 642.3 685 642 688 642C691 641.9 694 642.1 697 642.2C700 642.3 703 642.4 706 642.5C709 642.6 712 642.8 715 642.9C718 643 721 643.1 724 643.1C727 643.2 730 643.2 733 643.3C736 643.4 739 643.4 742 643.5C745 643.5 748 643.6 751 643.7C754 643.7 757 643.8 760 643.9C763 643.9 766 644 769 644C772 644.1 775 644.2 778 644.2C781 644.2 784 644.2 787 644.2C790 644.2 793 644.1 796 644.1C799 644.1 802 644.1 805 644C808 644 811 644 814 643.9C817 643.9 820 643.9 823 643.9C826 643.9 829 643.8 832 643.9C835 643.9 838 644 841 644.1C844 644.2 847 644.3 850 644.4C853 644.5 856 644.6 859 644.7C862 644.8 865 644.8 868 644.9C871 645 874 645.1 877 645.2C880 645.3 883 645.4 886 645.5C889 645.6 892 645.7 895 645.8C898 645.9 901 646 904 646.1C907 646.2 910 646.3 913 646.4C916 646.5 919 646.6 922 646.7C925 646.8 928 646.9 931 646.8C934 646.8 937 646.5 940 646.4C943 646.2 946 646 949 645.8C952 645.6 955 645.4 958 645.3C961 645.1 964 644.9 967 644.7C970 644.6 973 644.4 976 644.2C979 644.1 982 643.9 985 643.8C988 643.7 991 643.5 994 643.4C997 643.3 1000 643.1 1003 643C1006 642.8 1009 642.7 1012 642.6C1015 642.5 1018 642.4 1021 642.4C1024 642.4 1027 642.6 1030 642.6C1033 642.7 1036 642.8 1039 642.9C1042 643 1045 643.1 1048 643.2C1051 643.2 1054 643.3 1057 643.4C1060 643.5 1063 643.6 1066 643.8C1069 643.9 1072 644 1075 644.2C1078 644.3 1081 644.4 1084 644.6C1087 644.7 1090 644.9 1093 645C1096 645.1 1099 645.2 1102 645.3C1105 645.3 1108 645.3 1111 645.3C1114 645.3 1117 645.3 1120 645.3C1123 645.3 1126 645.3 1129 645.3C1132 645.3 1135 645.3 1138 645.3C1141 645.3 1144 645.3 1147 645.3C1150 645.3 1153 645.3 1156 645.3C1159 645.3 1162 645.3 1165 645.3C1168 645.3 1171 645.3 1174 645.3C1177 645.3 1180 645.3 1183 645.3C1186 645.3 1189 645.3 1192 645.3C1195 645.3 1198 645.3 1201 645.3C1204 645.3 1207 645.4 1210 645.4C1213 645.4 1216 645.4 1219 645.5C1222 645.5 1225 645.5 1228 645.6C1231 645.6 1234 645.6 1237 645.6C1240 645.7 1243 645.7 1246 645.7C1249 645.7 1252 645.8 1255 645.8C1258 645.9 1261 645.9 1264 645.9C1267 646 1270 646 1273 646.1C1276 646.1 1279 646.1 1282 646.2C1285 646.2 1288 646.3 1291 646.3C1294 646.3 1297.5 646.4 1300 646.4C1302.5 646.5 1305 646.5 1306 646.5" stroke="url(#g86)" stroke-width="4.5" fill="none" stroke-linecap="butt"/>
<path d="M463.0,631.9C464.5 631.9 469 631.9 472 631.9C475 631.8 478 631.8 481 631.8C484 631.7 487 631.8 490 631.8C493 631.7 496 631.7 499 631.8C502 631.8 505 631.8 508 632C511 632.1 514 632.4 517 632.6C520 632.8 523 633 526 633.2C529 633.4 532 633.6 535 633.8C538 634 541 634.2 544 634.4C547 634.6 550 634.8 553 634.9C556 635.1 559 635.3 562 635.5C565 635.7 568 635.8 571 636C574 636.2 577 636.4 580 636.5C583 636.5 586 636.4 589 636.4C592 636.4 595 636.3 598 636.3C601 636.2 604 636.1 607 636C610 635.9 613 635.7 616 635.6C619 635.4 622 635.2 625 635.1C628 634.9 631 634.8 634 634.6C637 634.3 640 634 643 633.7C646 633.3 649 633 652 632.6C655 632.3 658 632 661 631.6C664 631.3 667 630.9 670 630.5C673 630.2 676 629.7 679 629.4C682 629.1 685 628.8 688 628.7C691 628.6 694 628.9 697 629C700 629.1 703 629.3 706 629.5C709 629.6 712 629.8 715 629.9C718 630 721 630.2 724 630.3C727 630.4 730 630.4 733 630.5C736 630.6 739 630.7 742 630.7C745 630.8 748 630.9 751 631C754 631.1 757 631.1 760 631.2C763 631.3 766 631.4 769 631.5C772 631.5 775 631.6 778 631.7C781 631.7 784 631.7 787 631.7C790 631.6 793 631.6 796 631.6C799 631.5 802 631.5 805 631.5C808 631.4 811 631.4 814 631.3C817 631.3 820 631.2 823 631.2C826 631.2 829 631.2 832 631.2C835 631.3 838 631.5 841 631.6C844 631.7 847 631.8 850 632C853 632.1 856 632.2 859 632.3C862 632.4 865 632.5 868 632.7C871 632.8 874 632.9 877 633C880 633.2 883 633.3 886 633.4C889 633.5 892 633.7 895 633.8C898 633.9 901 634.1 904 634.2C907 634.3 910 634.5 913 634.6C916 634.7 919 634.9 922 635C925 635.1 928 635.3 931 635.2C934 635.1 937 634.8 940 634.5C943 634.3 946 634.1 949 633.8C952 633.6 955 633.4 958 633.1C961 632.9 964 632.6 967 632.4C970 632.2 973 631.9 976 631.7C979 631.5 982 631.3 985 631.1C988 631 991 630.8 994 630.6C997 630.4 1000 630.2 1003 630.1C1006 629.9 1009 629.6 1012 629.5C1015 629.4 1018 629.3 1021 629.3C1024 629.3 1027 629.5 1030 629.6C1033 629.7 1036 629.8 1039 630C1042 630.1 1045 630.2 1048 630.3C1051 630.4 1054 630.5 1057 630.6C1060 630.8 1063 630.9 1066 631.1C1069 631.3 1072 631.5 1075 631.6C1078 631.8 1081 632 1084 632.2C1087 632.4 1090 632.6 1093 632.7C1096 632.9 1099 633.1 1102 633.1C1105 633.2 1108 633.1 1111 633.1C1114 633.2 1117 633.1 1120 633.1C1123 633.1 1126 633.1 1129 633.1C1132 633.1 1135 633.1 1138 633.1C1141 633.1 1144 633.1 1147 633.1C1150 633.1 1153 633.1 1156 633.1C1159 633.1 1162 633.1 1165 633.1C1168 633.1 1171 633.1 1174 633.1C1177 633.1 1180 633.1 1183 633.1C1186 633.1 1189 633.1 1192 633.1C1195 633.2 1198 633.1 1201 633.2C1204 633.2 1207 633.2 1210 633.3C1213 633.3 1216 633.3 1219 633.4C1222 633.4 1225 633.5 1228 633.5C1231 633.5 1234 633.6 1237 633.6C1240 633.6 1243 633.7 1246 633.7C1249 633.7 1252 633.8 1255 633.8C1258 633.9 1261 633.9 1264 634C1267 634.1 1270 634.1 1273 634.2C1276 634.2 1279 634.3 1282 634.3C1285 634.4 1288 634.4 1291 634.5C1294 634.5 1297.5 634.6 1300 634.6C1302.5 634.7 1305 634.7 1306 634.7" stroke="url(#g87)" stroke-width="5" fill="none" stroke-linecap="butt"/>
<path d="M463.0,619.5C464.5 619.5 469 619.4 472 619.4C475 619.3 478 619.3 481 619.3C484 619.2 487 619.3 490 619.2C493 619.2 496 619.2 499 619.2C502 619.3 505 619.3 508 619.5C511 619.7 514 620 517 620.3C520 620.5 523 620.8 526 621.1C529 621.3 532 621.6 535 621.8C538 622.1 541 622.3 544 622.5C547 622.8 550 623 553 623.2C556 623.5 559 623.7 562 623.9C565 624.1 568 624.4 571 624.6C574 624.8 577 625.1 580 625.1C583 625.2 586 625.1 589 625.1C592 625 595 625 598 624.9C601 624.8 604 624.7 607 624.6C610 624.5 613 624.2 616 624C619 623.8 622 623.6 625 623.4C628 623.2 631 623.1 634 622.8C637 622.5 640 622 643 621.6C646 621.2 649 620.8 652 620.4C655 619.9 658 619.5 661 619.1C664 618.6 667 618.2 670 617.7C673 617.3 676 616.7 679 616.3C682 615.9 685 615.5 688 615.4C691 615.3 694 615.7 697 615.8C700 616 703 616.2 706 616.4C709 616.6 712 616.8 715 616.9C718 617.1 721 617.3 724 617.4C727 617.5 730 617.6 733 617.7C736 617.8 739 617.9 742 618C745 618.1 748 618.2 751 618.3C754 618.4 757 618.5 760 618.6C763 618.7 766 618.8 769 618.9C772 619 775 619.1 778 619.2C781 619.2 784 619.2 787 619.1C790 619.1 793 619.1 796 619C799 619 802 618.9 805 618.9C808 618.8 811 618.8 814 618.7C817 618.7 820 618.6 823 618.6C826 618.6 829 618.5 832 618.6C835 618.7 838 618.9 841 619C844 619.2 847 619.4 850 619.5C853 619.6 856 619.8 859 620C862 620.1 865 620.2 868 620.4C871 620.6 874 620.7 877 620.9C880 621 883 621.2 886 621.3C889 621.5 892 621.7 895 621.8C898 622 901 622.2 904 622.3C907 622.5 910 622.7 913 622.8C916 623 919 623.2 922 623.3C925 623.4 928 623.6 931 623.5C934 623.5 937 623 940 622.8C943 622.5 946 622.1 949 621.9C952 621.6 955 621.2 958 621C961 620.7 964 620.3 967 620C970 619.8 973 619.5 976 619.2C979 618.9 982 618.7 985 618.5C988 618.3 991 618 994 617.8C997 617.6 1000 617.4 1003 617.1C1006 616.9 1009 616.6 1012 616.5C1015 616.3 1018 616.1 1021 616.2C1024 616.2 1027 616.4 1030 616.6C1033 616.7 1036 616.9 1039 617C1042 617.1 1045 617.3 1048 617.4C1051 617.6 1054 617.7 1057 617.9C1060 618 1063 618.2 1066 618.5C1069 618.7 1072 618.9 1075 619.1C1078 619.4 1081 619.6 1084 619.8C1087 620 1090 620.3 1093 620.5C1096 620.7 1099 620.9 1102 621C1105 621.1 1108 621 1111 621C1114 621 1117 621 1120 621C1123 621 1126 621 1129 621C1132 621 1135 621 1138 621C1141 621 1144 621 1147 621C1150 621 1153 621 1156 621C1159 621 1162 621 1165 621C1168 621 1171 621 1174 621C1177 621 1180 621 1183 621C1186 621 1189 621 1192 621C1195 621 1198 621 1201 621C1204 621 1207 621.1 1210 621.1C1213 621.2 1216 621.2 1219 621.3C1222 621.3 1225 621.4 1228 621.4C1231 621.5 1234 621.5 1237 621.6C1240 621.6 1243 621.6 1246 621.7C1249 621.7 1252 621.8 1255 621.9C1258 621.9 1261 622 1264 622.1C1267 622.1 1270 622.2 1273 622.3C1276 622.3 1279 622.4 1282 622.5C1285 622.5 1288 622.6 1291 622.7C1294 622.7 1297.5 622.8 1300 622.9C1302.5 622.9 1305 623 1306 623" stroke="url(#g88)" stroke-width="4" fill="none" stroke-linecap="butt"/>
<path d="M559.0,612.1C560.5 612.2 565 612.6 568 612.9C571 613.1 574 613.5 577 613.7C580 613.8 583 613.8 586 613.8C589 613.8 592 613.7 595 613.6C598 613.5 601 613.5 604 613.3C607 613.2 610 612.9 613 612.7C616 612.5 619 612.2 622 612C625 611.8 628 611.6 631 611.3C634 611 637 610.6 640 610.1C643 609.7 646 609.1 649 608.6C652 608.1 655 607.6 658 607.1C661 606.6 664 606 667 605.5C670 604.9 673 604.3 676 603.8C679 603.3 682 602.5 685 602.3C688 602.1 691 602.3 694 602.5C697 602.6 700 602.9 703 603.1C706 603.3 709 603.5 712 603.8C715 604 718 604.2 721 604.4C724 604.5 727 604.6 730 604.8C733 604.9 736 605 739 605.1C742 605.2 745 605.4 748 605.5C751 605.6 754 605.7 757 605.8C760 606 763 606.1 766 606.2C769 606.3 772 606.5 775 606.5C778 606.6 781 606.7 784 606.7C787 606.7 790 606.6 793 606.5C796 606.5 799 606.4 802 606.4C805 606.3 808 606.2 811 606.2C814 606.1 817 606.1 820 606C823 606 826 605.9 829 605.9C832 606 835 606.2 838 606.3C841 606.5 844 606.7 847 606.9C850 607 853 607.2 856 607.4C859 607.6 862 607.8 865 608C868 608.1 871 608.3 874 608.5C877 608.7 880 608.9 883 609C886 609.2 889 609.4 892 609.6C895 609.8 898 610 901 610.2C904 610.4 907 610.6 910 610.8C913 611 916 611.2 919 611.4C922 611.6 925 612 928 612C931 611.9 934 611.6 937 611.3C940 611 943 610.6 946 610.2C949 609.9 952 609.5 955 609.1C958 608.8 961 608.4 964 608.1C967 607.7 970 607.3 973 607C976 606.7 979 606.4 982 606.1C985 605.8 988 605.6 991 605.3C994 605 997 604.8 1000 604.5C1003 604.2 1006 603.9 1009 603.7C1012 603.4 1015 603.1 1018 603C1021 603 1024 603.2 1027 603.4C1030 603.5 1033 603.7 1036 603.9C1039 604 1042 604.2 1045 604.4C1048 604.6 1051 604.7 1054 604.9C1057 605.1 1060 605.3 1063 605.5C1066 605.8 1069 606.1 1072 606.3C1075 606.6 1078 606.9 1081 607.1C1084 607.4 1087 607.7 1090 608C1093 608.2 1096 608.6 1099 608.7C1102 608.9 1105 608.8 1108 608.9C1111 608.9 1114 608.9 1117 608.9C1120 608.9 1123 608.9 1126 608.9C1129 608.9 1132 608.9 1135 608.9C1138 608.9 1141 608.9 1144 608.9C1147 608.9 1150 608.9 1153 608.9C1156 608.9 1159 608.9 1162 608.9C1165 608.9 1168 608.9 1171 608.9C1174 608.9 1177 608.9 1180 608.9C1183 608.9 1186 608.8 1189 608.9C1192 608.9 1195 608.8 1198 608.9C1201 608.9 1204 608.9 1207 609C1210 609 1213 609.1 1216 609.1C1219 609.2 1222 609.2 1225 609.3C1228 609.4 1231 609.4 1234 609.5C1237 609.5 1240 609.6 1243 609.6C1246 609.7 1249 609.7 1252 609.8C1255 609.9 1258 610 1261 610C1264 610.1 1267 610.2 1270 610.3C1273 610.4 1276 610.4 1279 610.5C1282 610.6 1285 610.7 1288 610.8C1291 610.8 1295.5 611 1297 611" stroke="url(#g89)" stroke-width="3.5" fill="none" stroke-linecap="butt"/>
<path d="M559.0,600.4C560.5 600.6 565 601.1 568 601.4C571 601.7 574 602.1 577 602.3C580 602.5 583 602.5 586 602.5C589 602.5 592 602.3 595 602.2C598 602.1 601 602.1 604 601.9C607 601.8 610 601.5 613 601.2C616 600.9 619 600.6 622 600.4C625 600.1 628 599.9 631 599.5C634 599.2 637 598.7 640 598.2C643 597.7 646 597 649 596.4C652 595.8 655 595.2 658 594.6C661 594 664 593.4 667 592.7C670 592.1 673 591.4 676 590.8C679 590.2 682 589.3 685 589.1C688 588.8 691 589.1 694 589.2C697 589.4 700 589.7 703 590C706 590.2 709 590.5 712 590.8C715 591 718 591.3 721 591.5C724 591.7 727 591.8 730 591.9C733 592.1 736 592.2 739 592.3C742 592.5 745 592.6 748 592.8C751 592.9 754 593 757 593.2C760 593.3 763 593.5 766 593.6C769 593.7 772 593.9 775 594C778 594.1 781 594.2 784 594.2C787 594.2 790 594 793 594C796 593.9 799 593.9 802 593.8C805 593.7 808 593.7 811 593.6C814 593.5 817 593.5 820 593.4C823 593.4 826 593.2 829 593.3C832 593.3 835 593.6 838 593.8C841 593.9 844 594.2 847 594.4C850 594.6 853 594.8 856 595C859 595.2 862 595.4 865 595.6C868 595.9 871 596.1 874 596.3C877 596.5 880 596.7 883 596.9C886 597.2 889 597.4 892 597.6C895 597.9 898 598.1 901 598.3C904 598.5 907 598.8 910 599C913 599.2 916 599.5 919 599.7C922 599.9 925 600.3 928 600.3C931 600.3 934 599.9 937 599.6C940 599.2 943 598.7 946 598.3C949 597.9 952 597.5 955 597C958 596.6 961 596.2 964 595.8C967 595.4 970 594.9 973 594.5C976 594.2 979 593.8 982 593.5C985 593.2 988 592.9 991 592.6C994 592.2 997 591.9 1000 591.6C1003 591.3 1006 590.9 1009 590.7C1012 590.4 1015 590 1018 589.9C1021 589.8 1024 590.1 1027 590.3C1030 590.5 1033 590.7 1036 590.9C1039 591.1 1042 591.3 1045 591.5C1048 591.7 1051 591.9 1054 592.1C1057 592.3 1060 592.5 1063 592.8C1066 593.1 1069 593.4 1072 593.8C1075 594.1 1078 594.4 1081 594.7C1084 595 1087 595.3 1090 595.6C1093 596 1096 596.3 1099 596.5C1102 596.7 1105 596.7 1108 596.7C1111 596.7 1114 596.7 1117 596.7C1120 596.7 1123 596.7 1126 596.7C1129 596.7 1132 596.7 1135 596.7C1138 596.7 1141 596.7 1144 596.7C1147 596.7 1150 596.7 1153 596.7C1156 596.7 1159 596.7 1162 596.7C1165 596.7 1168 596.7 1171 596.7C1174 596.7 1177 596.7 1180 596.7C1183 596.7 1186 596.7 1189 596.7C1192 596.7 1195 596.7 1198 596.7C1201 596.7 1204 596.8 1207 596.8C1210 596.9 1213 597 1216 597C1219 597.1 1222 597.2 1225 597.2C1228 597.3 1231 597.4 1234 597.4C1237 597.5 1240 597.5 1243 597.6C1246 597.7 1249 597.7 1252 597.8C1255 597.9 1258 598 1261 598.1C1264 598.2 1267 598.3 1270 598.4C1273 598.5 1276 598.6 1279 598.7C1282 598.8 1285 598.8 1288 598.9C1291 599 1295.5 599.2 1297 599.2" stroke="url(#g90)" stroke-width="3.2" fill="none" stroke-linecap="butt"/>
<path d="M559.0,588.8C560.5 589 565 589.6 568 589.9C571 590.3 574 590.8 577 591C580 591.2 583 591.2 586 591.2C589 591.1 592 591 595 590.9C598 590.8 601 590.7 604 590.5C607 590.3 610 590 613 589.7C616 589.4 619 589.1 622 588.7C625 588.4 628 588.2 631 587.8C634 587.4 637 586.8 640 586.2C643 585.6 646 584.9 649 584.2C652 583.5 655 582.9 658 582.2C661 581.5 664 580.8 667 580C670 579.3 673 578.5 676 577.8C679 577.1 682 576.1 685 575.8C688 575.5 691 575.9 694 576C697 576.2 700 576.6 703 576.9C706 577.1 709 577.5 712 577.8C715 578 718 578.3 721 578.6C724 578.8 727 578.9 730 579.1C733 579.2 736 579.4 739 579.6C742 579.7 745 579.9 748 580C751 580.2 754 580.4 757 580.5C760 580.7 763 580.8 766 581C769 581.2 772 581.4 775 581.5C778 581.6 781 581.7 784 581.7C787 581.6 790 581.5 793 581.4C796 581.4 799 581.3 802 581.2C805 581.1 808 581.1 811 581C814 580.9 817 580.9 820 580.8C823 580.7 826 580.6 829 580.6C832 580.7 835 581 838 581.2C841 581.4 844 581.7 847 581.9C850 582.2 853 582.4 856 582.6C859 582.9 862 583.1 865 583.4C868 583.6 871 583.8 874 584.1C877 584.3 880 584.6 883 584.8C886 585.1 889 585.3 892 585.6C895 585.9 898 586.1 901 586.4C904 586.7 907 586.9 910 587.2C913 587.5 916 587.7 919 588C922 588.2 925 588.7 928 588.7C931 588.7 934 588.2 937 587.8C940 587.4 943 586.9 946 586.4C949 585.9 952 585.4 955 585C958 584.5 961 584 964 583.5C967 583 970 582.5 973 582.1C976 581.6 979 581.3 982 580.9C985 580.5 988 580.2 991 579.8C994 579.5 997 579.1 1000 578.7C1003 578.4 1006 578 1009 577.6C1012 577.3 1015 576.8 1018 576.8C1021 576.7 1024 577 1027 577.2C1030 577.4 1033 577.7 1036 577.9C1039 578.1 1042 578.4 1045 578.6C1048 578.8 1051 579 1054 579.3C1057 579.5 1060 579.8 1063 580.1C1066 580.4 1069 580.8 1072 581.2C1075 581.5 1078 581.9 1081 582.3C1084 582.6 1087 583 1090 583.4C1093 583.7 1096 584.2 1099 584.4C1102 584.5 1105 584.5 1108 584.5C1111 584.6 1114 584.5 1117 584.5C1120 584.5 1123 584.5 1126 584.5C1129 584.5 1132 584.5 1135 584.5C1138 584.5 1141 584.5 1144 584.5C1147 584.5 1150 584.5 1153 584.5C1156 584.5 1159 584.5 1162 584.5C1165 584.5 1168 584.5 1171 584.5C1174 584.5 1177 584.5 1180 584.5C1183 584.5 1186 584.5 1189 584.5C1192 584.6 1195 584.5 1198 584.6C1201 584.6 1204 584.7 1207 584.7C1210 584.8 1213 584.9 1216 584.9C1219 585 1222 585.1 1225 585.1C1228 585.2 1231 585.3 1234 585.4C1237 585.4 1240 585.5 1243 585.6C1246 585.7 1249 585.7 1252 585.8C1255 585.9 1258 586 1261 586.1C1264 586.2 1267 586.4 1270 586.5C1273 586.6 1276 586.7 1279 586.8C1282 586.9 1285.5 587 1288 587.1C1290.5 587.2 1293 587.3 1294 587.3" stroke="url(#g91)" stroke-width="3.0" fill="none" stroke-linecap="butt"/>
<path d="M604.0,579.1C605.5 579 610 578.5 613 578.2C616 577.9 619 577.5 622 577.1C625 576.8 628 576.5 631 576C634 575.6 637 575 640 574.3C643 573.6 646 572.8 649 572C652 571.3 655 570.5 658 569.7C661 569 664 568.1 667 567.3C670 566.5 673 565.6 676 564.8C679 564 682 562.9 685 562.6C688 562.2 691 562.6 694 562.8C697 563 700 563.4 703 563.7C706 564.1 709 564.4 712 564.8C715 565.1 718 565.4 721 565.7C724 565.9 727 566.1 730 566.2C733 566.4 736 566.6 739 566.8C742 567 745 567.2 748 567.3C751 567.5 754 567.7 757 567.9C760 568 763 568.2 766 568.4C769 568.6 772 568.8 775 569C778 569.1 781 569.2 784 569.1C787 569.1 790 569 793 568.9C796 568.8 799 568.7 802 568.7C805 568.6 808 568.5 811 568.4C814 568.3 817 568.2 820 568.2C823 568.1 826 567.9 829 568C832 568.1 835 568.4 838 568.6C841 568.9 844 569.2 847 569.4C850 569.7 853 570 856 570.2C859 570.5 862 570.8 865 571C868 571.3 871 571.6 874 571.9C877 572.1 880 572.4 883 572.7C886 573 889 573.3 892 573.6C895 573.9 898 574.2 901 574.5C904 574.8 907 575.1 910 575.4C913 575.7 916 576 919 576.3C922 576.5 925.5 577 928 577.1C930.5 577.1 933 576.7 934 576.6" stroke="url(#g92)" stroke-width="3.0" fill="none" stroke-linecap="butt"/>
<path d="M1033.0,564.7C1034.5 564.8 1039 565.2 1042 565.5C1045 565.7 1048 566 1051 566.2C1054 566.5 1057 566.7 1060 567.1C1063 567.4 1066 567.8 1069 568.2C1072 568.6 1075 569 1078 569.4C1081 569.8 1084 570.2 1087 570.6C1090 571 1093 571.6 1096 571.9C1099 572.2 1102.5 572.3 1105 572.4C1107.5 572.5 1110 572.4 1111 572.4" stroke="url(#g93)" stroke-width="3.0" fill="none" stroke-linecap="butt"/>
<path d="M604.0,567.7C605.5 567.6 610 567.1 613 566.7C616 566.3 619 565.9 622 565.5C625 565.1 628 564.8 631 564.3C634 563.8 637 563.1 640 562.4C643 561.6 646 560.7 649 559.8C652 559 655 558.2 658 557.3C661 556.4 664 555.5 667 554.6C670 553.7 673 552.7 676 551.8C679 550.9 682 549.7 685 549.3C688 549 691 549.4 694 549.6C697 549.8 700 550.3 703 550.6C706 551 709 551.4 712 551.8C715 552.1 718 552.5 721 552.8C724 553.1 727 553.2 730 553.4C733 553.6 736 553.8 739 554C742 554.2 745 554.4 748 554.6C751 554.8 754 555 757 555.2C760 555.4 763 555.6 766 555.8C769 556 772 556.3 775 556.4C778 556.6 781 556.6 784 556.6C787 556.6 790 556.5 793 556.4C796 556.3 799.5 556.2 802 556.1C804.5 556 807 555.9 808 555.9" stroke="url(#g94)" stroke-width="3.0" fill="none" stroke-linecap="butt"/>
<path d="M622.0,553.9C623.5 553.6 628 553.1 631 552.5C634 552 637 551.2 640 550.4C643 549.6 646 548.6 649 547.6C652 546.7 655 545.8 658 544.9C661 543.9 664 542.9 667 541.9C670 540.9 673 539.8 676 538.8C679 537.9 682 536.5 685 536.1C688 535.7 691 536.2 694 536.4C697 536.6 700 537.1 703 537.5C706 537.9 710 538.5 712 538.8C714 539 714.5 539.1 715 539.2" stroke="url(#g95)" stroke-width="3.0" fill="none" stroke-linecap="butt"/>
<path d="M778.0,544.1C779.5 544.1 784 544.1 787 544C790 544 793 543.8 796 543.7C799 543.6 802 543.5 805 543.4C808 543.3 811 543.2 814 543.1C817 543 820 542.9 823 542.8C826 542.8 829 542.7 832 542.9C835 543 838 543.5 841 543.8C844 544.1 848.5 544.6 850 544.8" stroke="url(#g96)" stroke-width="3.0" fill="none" stroke-linecap="butt"/>
<path d="M961.0,547.3C962.5 547 967 546 970 545.4C973 544.7 976 544.1 979 543.6C982 543 985 542.6 988 542.1C991 541.6 994 541.1 997 540.6C1000 540.1 1003 539.6 1006 539.1C1009 538.6 1012 537.9 1015 537.6C1018 537.4 1021 537.6 1024 537.7C1027 537.9 1030 538.4 1033 538.7C1036 539 1039 539.3 1042 539.6C1045 539.9 1049 540.3 1051 540.6C1053 540.8 1053.5 540.8 1054 540.9" stroke="url(#g97)" stroke-width="3.0" fill="none" stroke-linecap="butt"/>
<path d="M1153.0,548.1C1154.5 548.1 1159 548.1 1162 548.1C1165 548.1 1168 548.1 1171 548.1C1174 548.1 1177 548.1 1180 548.1C1183 548.1 1186 548.1 1189 548.1C1192 548.1 1195 548.1 1198 548.1C1201 548.1 1205 548.3 1207 548.3C1209 548.4 1209.5 548.4 1210 548.4" stroke="url(#g98)" stroke-width="3.0" fill="none" stroke-linecap="butt"/>
<path d="M622.0,542.2C623.5 542 628 541.4 631 540.8C634 540.2 637 539.4 640 538.5C643 537.6 646 536.5 649 535.4C652 534.4 655 533.5 658 532.4C661 531.4 664 530.3 667 529.2C670 528.1 673 526.9 676 525.8C679 524.8 682 523.3 685 522.9C688 522.4 691 522.9 694 523.2C697 523.4 700 524 703 524.4C706 524.8 710 525.5 712 525.8C714 526 714.5 526.1 715 526.2" stroke="url(#g99)" stroke-width="3.0" fill="none" stroke-linecap="butt"/>
<path d="M778.0,531.6C779.5 531.5 784 531.6 787 531.5C790 531.4 793 531.3 796 531.2C799 531.1 802 531 805 530.9C808 530.7 811 530.6 814 530.5C817 530.4 820 530.2 823 530.2C826 530.2 829 530.1 832 530.2C835 530.4 838 530.9 841 531.3C844 531.6 848.5 532.2 850 532.4" stroke="url(#g100)" stroke-width="3.0" fill="none" stroke-linecap="butt"/>
<path d="M622.0,530.6C623.5 530.3 628 529.7 631 529C634 528.4 637 527.5 640 526.5C643 525.6 646 524.3 649 523.3C652 522.2 655 521.1 658 520C661 518.8 664 517.6 667 516.5C670 515.3 673 514 676 512.9C679 511.7 682 510.1 685 509.6C688 509.1 691 509.7 694 510C697 510.2 700 510.8 703 511.3C706 511.8 710 512.4 712 512.8C714 513.1 714.5 513.2 715 513.2" stroke="url(#g101)" stroke-width="3.0" fill="none" stroke-linecap="butt"/>
<path d="M622.0,519.0C623.5 518.7 628 518 631 517.3C634 516.6 637 515.6 640 514.6C643 513.6 646 512.2 649 511.1C652 509.9 655 508.7 658 507.5C661 506.3 664 505 667 503.7C670 502.5 673 501.1 676 499.9C679 498.6 682 496.9 685 496.4C688 495.8 691 496.4 694 496.8C697 497.1 700 497.7 703 498.2C706 498.7 710 499.4 712 499.8C714 500.1 714.5 500.2 715 500.3" stroke="url(#g102)" stroke-width="2.6" fill="none" stroke-linecap="butt"/>
<path d="M622.0,507.3C623.5 507 628 506.3 631 505.5C634 504.8 637 503.8 640 502.6C643 501.5 646 500.1 649 498.9C652 497.6 655 496.4 658 495.1C661 493.8 664 492.4 667 491C670 489.7 673 488.2 676 486.9C679 485.5 682 483.7 685 483.1C688 482.6 691 483.2 694 483.5C697 483.9 700 484.5 703 485.1C706 485.6 710 486.4 712 486.8C714 487.1 714.5 487.2 715 487.3" stroke="url(#g103)" stroke-width="2.6" fill="none" stroke-linecap="butt"/>
<path d="M778.0,494.0C779.5 494 784 494 787 493.9C790 493.9 793 493.7 796 493.5C799 493.4 802 493.3 805 493.1C808 493 811 492.9 814 492.7C817 492.6 820 492.4 823 492.3C826 492.3 829 492.1 832 492.4C835 492.6 838 493.2 841 493.6C844 494.1 848.5 494.8 850 495" stroke="url(#g104)" stroke-width="2.6" fill="none" stroke-linecap="butt"/>
<path d="M961.0,498.5C962.5 498 967 496.6 970 495.8C973 494.9 976 494.1 979 493.3C982 492.6 985 492 988 491.3C991 490.6 994 489.9 997 489.3C1000 488.6 1003 487.9 1006 487.2C1009 486.5 1012 485.5 1015 485.2C1018 484.9 1021 485.1 1024 485.4C1027 485.6 1030 486.2 1033 486.6C1036 487.1 1039 487.5 1042 487.9C1045 488.4 1049 488.9 1051 489.2C1053 489.5 1053.5 489.6 1054 489.6" stroke="url(#g105)" stroke-width="2.6" fill="none" stroke-linecap="butt"/>
<path d="M622.0,495.7C623.5 495.4 628 494.6 631 493.8C634 493 637 491.9 640 490.7C643 489.5 646 488 649 486.7C652 485.3 655 484 658 482.6C661 481.2 664 479.8 667 478.3C670 476.8 673 475.3 676 473.9C679 472.5 682 470.5 685 469.9C688 469.3 691 470 694 470.3C697 470.7 700 471.4 703 472C706 472.5 710 473.4 712 473.8C714 474.1 714.5 474.2 715 474.4" stroke="url(#g106)" stroke-width="2.6" fill="none" stroke-linecap="butt"/>
<path d="M778.0,481.5C779.5 481.5 784 481.5 787 481.4C790 481.3 793 481.1 796 481C799 480.8 802 480.7 805 480.6C808 480.4 811 480.3 814 480.1C817 480 820 479.7 823 479.7C826 479.6 829 479.5 832 479.7C835 480 838 480.6 841 481.1C844 481.6 848.5 482.3 850 482.6" stroke="url(#g107)" stroke-width="2.6" fill="none" stroke-linecap="butt"/>
<path d="M622.0,484.1C623.5 483.8 628 482.9 631 482.1C634 481.2 637 480 640 478.8C643 477.5 646 475.9 649 474.5C652 473.1 655 471.7 658 470.2C661 468.7 664 467.1 667 465.6C670 464 673 462.4 676 460.9C679 459.4 682 457.3 685 456.6C688 456 691 456.7 694 457.1C697 457.5 700 458.2 703 458.8C706 459.4 710 460.3 712 460.8C714 461.2 714.5 461.3 715 461.4" stroke="url(#g108)" stroke-width="2.6" fill="none" stroke-linecap="butt"/>
<path d="M622.0,472.5C623.5 472.1 628 471.2 631 470.3C634 469.4 637 468.2 640 466.8C643 465.5 646 463.8 649 462.3C652 460.8 655 459.3 658 457.7C661 456.2 664 454.5 667 452.9C670 451.2 673 449.5 676 447.9C679 446.3 682 444.1 685 443.4C688 442.7 691 443.5 694 443.9C697 444.3 700 445.1 703 445.7C706 446.4 710 447.3 712 447.8C714 448.2 714.5 448.3 715 448.4" stroke="url(#g109)" stroke-width="2.6" fill="none" stroke-linecap="butt"/>
<path d="M622.0,460.8C623.5 460.5 628 459.6 631 458.6C634 457.6 637 456.3 640 454.9C643 453.5 646 451.7 649 450.1C652 448.5 655 447 658 445.3C661 443.6 664 441.9 667 440.2C670 438.4 673 436.6 676 434.9C679 433.2 682 430.9 685 430.2C688 429.5 691 430.3 694 430.7C697 431.1 700 431.9 703 432.6C706 433.3 710 434.3 712 434.8C714 435.2 714.5 435.3 715 435.5" stroke="url(#g110)" stroke-width="2.6" fill="none" stroke-linecap="butt"/>
<path d="M778.0,443.9C779.5 443.9 784 444 787 443.9C790 443.8 793 443.5 796 443.3C799 443.2 802 443 805 442.8C808 442.7 811 442.5 814 442.3C817 442.1 820 441.9 823 441.8C826 441.7 829 441.6 832 441.9C835 442.1 838 442.9 841 443.5C844 444 848.5 444.9 850 445.2" stroke="url(#g111)" stroke-width="2.6" fill="none" stroke-linecap="butt"/>
<path d="M961.0,449.6C962.5 449 967 447.2 970 446.2C973 445.1 976 444 979 443.1C982 442.2 985 441.4 988 440.5C991 439.7 994 438.8 997 437.9C1000 437.1 1003 436.2 1006 435.3C1009 434.5 1012 433.2 1015 432.8C1018 432.4 1021 432.7 1024 433C1027 433.3 1030 434.1 1033 434.6C1036 435.2 1039 435.7 1042 436.2C1045 436.8 1049 437.5 1051 437.9C1053 438.2 1053.5 438.3 1054 438.4" stroke="url(#g112)" stroke-width="2.6" fill="none" stroke-linecap="butt"/>
<path d="M622.0,449.2C623.5 448.8 628 447.9 631 446.8C634 445.8 637 444.4 640 443C643 441.5 646 439.6 649 437.9C652 436.2 655 434.6 658 432.9C661 431.1 664 429.3 667 427.4C670 425.6 673 423.7 676 421.9C679 420.1 682 417.7 685 416.9C688 416.2 691 417 694 417.5C697 417.9 700 418.8 703 419.5C706 420.2 710 421.3 712 421.8C714 422.2 714.5 422.4 715 422.5" stroke="url(#g113)" stroke-width="2.6" fill="none" stroke-linecap="butt"/>
<path d="M778.0,431.4C779.5 431.4 784 431.4 787 431.3C790 431.2 793 431 796 430.8C799 430.6 802 430.4 805 430.2C808 430.1 811 429.9 814 429.7C817 429.5 820 429.2 823 429.2C826 429.1 829 428.9 832 429.2C835 429.5 838 430.4 841 431C844 431.5 848.5 432.4 850 432.8" stroke="url(#g114)" stroke-width="2.6" fill="none" stroke-linecap="butt"/>
<path d="M961.0,437.4C962.5 436.8 967 434.9 970 433.8C973 432.6 976 431.5 979 430.5C982 429.6 985 428.7 988 427.8C991 426.9 994 426 997 425.1C1000 424.2 1003 423.3 1006 422.4C1009 421.5 1012 420.1 1015 419.7C1018 419.3 1021 419.6 1024 419.9C1027 420.2 1030 421 1033 421.6C1036 422.2 1039 422.8 1042 423.3C1045 423.9 1049 424.7 1051 425C1053 425.4 1053.5 425.5 1054 425.6" stroke="url(#g115)" stroke-width="2.6" fill="none" stroke-linecap="butt"/>
<path d="M622.0,437.6C623.5 437.2 628 436.2 631 435.1C634 434 637 432.6 640 431C643 429.5 646 427.5 649 425.7C652 424 655 422.2 658 420.4C661 418.6 664 416.6 667 414.7C670 412.8 673 410.8 676 408.9C679 407.1 682 404.5 685 403.7C688 402.9 691 403.8 694 404.2C697 404.7 700 405.6 703 406.4C706 407.1 710 408.2 712 408.8C714 409.3 714.5 409.4 715 409.5" stroke="url(#g116)" stroke-width="2.6" fill="none" stroke-linecap="butt"/>
<path d="M625.0,425.1C626.5 424.6 631 423.5 634 422.2C637 420.9 640 419 643 417.2C646 415.5 649 413.5 652 411.7C655 409.8 658 408 661 406C664 404.1 667 402 670 400C673 398 676 395.6 679 393.9C682 392.2 685 390.3 688 389.9C691 389.6 694 391.1 697 391.7C700 392.4 703 393.3 706 394.1C709 394.9 713.5 396.2 715 396.6" stroke="url(#g117)" stroke-width="2.6" fill="none" stroke-linecap="butt"/>
<path d="M463.0,612.2C464.5 611.9 469 611 472 610.3C475 609.7 478 609 481 608.5C484 608 487 607.6 490 607.4C493 607.1 496 607 499 607C502 607 505 607.2 508 607.3C511 607.4 514 607.6 517 607.7C520 607.9 523 608 526 608.2C529 608.4 532 608.6 535 608.8C538 609 541 609.3 544 609.5C547 609.7 550 609.9 553 610.2C556 610.5 559 610.7 562 611C565 611.3 568 611.6 571 611.8C574 612.1 577 612.3 580 612.5C583 612.8 586 613 589 613.2C592 613.4 595.5 613.7 598 613.9C600.5 614 603 614 604 614" stroke="url(#g118)" stroke-width="3.5" fill="none" stroke-linecap="butt"/>
<path d="M463.0,600.6C464.5 600.3 469 599.2 472 598.5C475 597.8 478 596.9 481 596.3C484 595.8 487 595.3 490 595C493 594.7 496 594.6 499 594.6C502 594.6 505 594.8 508 594.9C511 595 514 595.2 517 595.4C520 595.6 523 595.8 526 596C529 596.2 532 596.5 535 596.7C538 596.9 541 597.2 544 597.5C547 597.8 550 598 553 598.3C556 598.6 559 598.9 562 599.3C565 599.6 568 599.9 571 600.2C574 600.5 577 600.8 580 601C583 601.3 586 601.6 589 601.8C592 602.1 596 602.5 598 602.6C600 602.8 600.5 602.7 601 602.8" stroke="url(#g119)" stroke-width="3.5" fill="none" stroke-linecap="butt"/>
<path d="M463.0,589.1C464.5 588.7 469 587.4 472 586.6C475 585.8 478 584.8 481 584.2C484 583.5 487 583 490 582.6C493 582.3 496 582.2 499 582.2C502 582.2 505 582.4 508 582.5C511 582.7 514 582.9 517 583.1C520 583.3 523 583.5 526 583.8C529 584 532 584.3 535 584.6C538 584.9 541 585.2 544 585.5C547 585.8 550 586.1 553 586.4C556 586.8 559 587.1 562 587.5C565 587.9 568 588.2 571 588.6C574 588.9 577 589.2 580 589.6C583 589.9 586 590.2 589 590.4C592 590.7 596.5 591.2 598 591.3" stroke="url(#g120)" stroke-width="3.5" fill="none" stroke-linecap="butt"/>
<path d="M466.0,577.0C467.5 576.5 472 574.8 475 573.8C478 572.8 481 571.8 484 571.1C487 570.5 490 570.2 493 570C496 569.8 499 569.9 502 569.9C505 570 508 570.1 511 570.3C514 570.5 517 570.8 520 571.1C523 571.3 526 571.5 529 571.8C532 572.1 535 572.5 538 572.8C541 573.1 544 573.5 547 573.8C550 574.2 553 574.6 556 575C559 575.3 563.5 576 565 576.2" stroke="url(#g121)" stroke-width="3.5" fill="none" stroke-linecap="butt"/>
<path d="M466.0,565.4C467.5 564.8 472 562.9 475 561.8C478 560.7 481 559.6 484 558.9C487 558.2 490 557.8 493 557.6C496 557.4 499 557.5 502 557.5C505 557.6 508 557.8 511 558C514 558.2 517 558.5 520 558.8C523 559.1 527.5 559.5 529 559.6" stroke="url(#g122)" stroke-width="3.5" fill="none" stroke-linecap="butt"/>
<path d="M466.0,553.8C467.5 553.2 472 551.1 475 549.9C478 548.7 481 547.4 484 546.6C487 545.8 490 545.4 493 545.2C496 544.9 499 545 502 545.1C505 545.2 508 545.4 511 545.6C514 545.9 517 546.2 520 546.5C523 546.8 526 547.1 529 547.5C532 547.8 535 548.2 538 548.7C541 549.1 545 549.6 547 549.9C549 550.2 549.5 550.2 550 550.3" stroke="url(#g123)" stroke-width="3.5" fill="none" stroke-linecap="butt"/>
<path d="M466.0,542.2C467.5 541.5 472 539.2 475 537.9C478 536.6 481 535.2 484 534.3C487 533.5 490 533.1 493 532.8C496 532.5 499 532.6 502 532.7C505 532.8 508 533 511 533.3C514 533.5 517 533.9 520 534.3C523 534.6 526 534.9 529 535.3C532 535.7 535 536.1 538 536.6C541 537 544.5 537.5 547 537.9C549.5 538.3 552 538.7 553 538.9" stroke="url(#g124)" stroke-width="3.5" fill="none" stroke-linecap="butt"/>
<path d="M466.0,530.6C467.5 529.8 472 527.4 475 525.9C478 524.5 481 523 484 522.1C487 521.2 490 520.7 493 520.4C496 520.1 499 520.2 502 520.3C505 520.4 508 520.6 511 520.9C514 521.2 518 521.8 520 522C522 522.2 522.5 522.3 523 522.4" stroke="url(#g125)" stroke-width="3.5" fill="none" stroke-linecap="butt"/>
<path d="M469.0,517.2C470.5 516.5 475 513.9 478 512.6C481 511.2 484 509.8 487 509C490 508.2 494 507.9 496 507.7C498 507.5 498.5 507.7 499 507.7" stroke="url(#g126)" stroke-width="2.6" fill="none" stroke-linecap="butt"/>
<path d="M469.0,505.5C470.5 504.7 475 502 478 500.5C481 499 484 497.5 487 496.6C490 495.8 494.5 495.5 496 495.3" stroke="url(#g127)" stroke-width="2.6" fill="none" stroke-linecap="butt"/>
<path d="M484.0,485.3C485.5 485 490 483.6 493 483.2C496 482.9 499 483 502 483.1C505 483.2 508 483.5 511 483.9C514 484.2 518 484.9 520 485.2C522 485.5 522.5 485.6 523 485.6" stroke="url(#g128)" stroke-width="2.6" fill="none" stroke-linecap="butt"/>
<path d="M484.0,473.0C485.5 472.7 490 471.2 493 470.9C496 470.5 499 470.6 502 470.7C505 470.8 508 471.1 511 471.5C514 471.9 518 472.6 520 472.9C522 473.2 522.5 473.3 523 473.4" stroke="url(#g129)" stroke-width="2.6" fill="none" stroke-linecap="butt"/>
<path d="M484.0,460.8C485.5 460.4 490 458.9 493 458.5C496 458.1 499 458.2 502 458.3C505 458.4 508 458.8 511 459.2C514 459.5 518 460.3 520 460.6C522 461 522.5 461.1 523 461.1" stroke="url(#g130)" stroke-width="2.6" fill="none" stroke-linecap="butt"/>
<path d="M484.0,448.5C485.5 448.1 490 446.5 493 446.1C496 445.6 499 445.8 502 445.9C505 446.1 508 446.4 511 446.8C514 447.2 518 448 520 448.4C522 448.7 522.5 448.8 523 448.9" stroke="url(#g131)" stroke-width="2.6" fill="none" stroke-linecap="butt"/>
<path d="M484.0,436.2C485.5 435.8 490 434.1 493 433.7C496 433.2 499 433.4 502 433.5C505 433.7 508 434 511 434.4C514 434.9 518 435.7 520 436.1C522 436.5 522.5 436.6 523 436.7" stroke="url(#g132)" stroke-width="2.6" fill="none" stroke-linecap="butt"/>
<path d="M484.0,424.0C485.5 423.5 490 421.8 493 421.3C496 420.8 499 421 502 421.1C505 421.3 508 421.6 511 422.1C514 422.5 518 423.4 520 423.8C522 424.2 522.5 424.3 523 424.4" stroke="url(#g133)" stroke-width="2.6" fill="none" stroke-linecap="butt"/>
<path d="M484.0,411.7C485.5 411.2 490 409.4 493 408.9C496 408.4 499 408.6 502 408.7C505 408.9 508 409.3 511 409.7C514 410.2 518 411.2 520 411.6C522 412 522.5 412.1 523 412.2" stroke="url(#g134)" stroke-width="2.6" fill="none" stroke-linecap="butt"/>
<path d="M484.0,399.5C485.5 399 490 397 493 396.5C496 396 499 396.2 502 396.3C505 396.5 508 396.9 511 397.4C514 397.9 518 398.9 520 399.3C522 399.7 522.5 399.8 523 399.9" stroke="url(#g135)" stroke-width="2.6" fill="none" stroke-linecap="butt"/>
<path d="M1176.0,427.0L1182.0,425.0" stroke="url(#g136)" stroke-width="2" fill="none" stroke-linecap="round"/>
<path d="M1042.0,430.0L1052.0,431.0" stroke="url(#g137)" stroke-width="2" fill="none" stroke-linecap="round"/>


<path d="M180.0,1005.0C182.2 1005.5 189.2 1007.8 193 1008C196.8 1008.2 199.7 1006.9 203 1006C206.3 1005.1 211.2 1003.2 212.8 1002.6" stroke="url(#g138)" stroke-width="4.5" fill="none" stroke-linecap="round"/>
<path d="M205.0,1030.4C206 1030.4 209.2 1030.4 211.3 1030.4C213.4 1030.4 215.5 1030.5 217.6 1030.5C219.7 1030.6 221.8 1030.6 223.9 1030.7C226 1030.7 228.1 1030.8 230.2 1030.8C232.3 1030.9 234.4 1030.9 236.5 1031C238.6 1031 240.7 1031.1 242.8 1031.1C244.9 1031.2 247 1031.2 249.1 1031.3C251.2 1031.3 253.3 1031.4 255.4 1031.5C257.5 1031.5 259.5 1031.6 261.6 1031.6C263.7 1031.7 265.8 1031.8 267.9 1031.9C270 1031.9 272.1 1032 274.2 1032.1C276.3 1032.1 278.4 1032.2 280.5 1032.3C282.6 1032.3 284.7 1032.4 286.8 1032.5C288.9 1032.5 291 1032.6 293.1 1032.7C295.2 1032.7 297.3 1032.8 299.4 1032.8C301.5 1032.8 303.6 1032.8 305.7 1032.7C307.8 1032.6 311 1032.3 312 1032.2" stroke="url(#g139)" stroke-width="3" fill="none" stroke-linecap="round"/>
<path d="M205.0,1017.8C206 1017.8 209 1017.8 211 1017.8C213 1017.8 215 1017.9 217 1018C219 1018.1 221 1018.2 223 1018.2C225 1018.3 227 1018.4 229 1018.5C231 1018.6 233 1018.7 235 1018.8C237 1018.9 239 1019 241 1019.1C243 1019.1 245 1019.2 247 1019.3C249 1019.4 251 1019.5 253 1019.6C255 1019.7 257 1019.8 259 1019.9C261 1020 263 1020.1 265 1020.3C267 1020.4 269 1020.5 271 1020.6C273 1020.7 275 1020.9 277 1021C279 1021.1 281 1021.2 283 1021.3C285 1021.4 287 1021.6 289 1021.7C291 1021.8 293 1021.9 295 1022C297 1022.1 300 1022.2 301 1022.2" stroke="url(#g140)" stroke-width="3.2" fill="none" stroke-linecap="round"/>
<path d="M212.0,1002.6C213 1002.7 216.1 1002.8 218.2 1003C220.2 1003.1 222.3 1003.2 224.4 1003.4C226.4 1003.5 228.5 1003.7 230.5 1003.8C232.6 1004 234.6 1004.1 236.7 1004.2C238.8 1004.4 240.8 1004.5 242.9 1004.7C244.9 1004.8 247 1004.9 249.1 1005.1C251.1 1005.2 253.2 1005.4 255.2 1005.5C257.3 1005.7 259.4 1005.9 261.4 1006C263.5 1006.2 265.5 1006.4 267.6 1006.6C269.6 1006.8 271.7 1007 273.8 1007.2C275.8 1007.4 277.9 1007.6 279.9 1007.7C282 1007.9 284.1 1008.1 286.1 1008.3C288.2 1008.5 290.2 1008.7 292.3 1008.8C294.4 1009 296.4 1009.2 298.5 1009.2C300.5 1009.3 302.6 1009.4 304.6 1009.2C306.7 1009 308.8 1008.4 310.8 1007.9C312.9 1007.4 316 1006.4 317 1006.1" stroke="url(#g141)" stroke-width="5.2" fill="none" stroke-linecap="round"/>
<path d="M212.0,991.0C213 991.1 216.1 991.3 218.2 991.5C220.2 991.6 222.3 991.8 224.4 992C226.4 992.2 228.5 992.4 230.6 992.5C232.6 992.7 234.7 992.9 236.8 993.1C238.8 993.3 240.9 993.4 242.9 993.6C245 993.8 247.1 994 249.1 994.2C251.2 994.3 253.2 994.5 255.3 994.7C257.4 994.9 259.4 995.1 261.5 995.4C263.6 995.6 265.6 995.9 267.7 996.1C269.8 996.3 271.8 996.6 273.9 996.8C275.9 997.1 278 997.3 280.1 997.5C282.1 997.8 284.2 998 286.2 998.3C288.3 998.5 290.4 998.7 292.4 998.9C294.5 999.1 296.6 999.4 298.6 999.4C300.7 999.5 302.8 999.6 304.8 999.3C306.9 999 310 997.9 311 997.7" stroke="url(#g142)" stroke-width="3.6" fill="none" stroke-linecap="round"/>
<path d="M214.0,977.7C215 977.8 218.1 978.1 220.1 978.3C222.2 978.5 224.2 978.7 226.3 978.9C228.3 979.2 230.4 979.4 232.4 979.6C234.4 979.8 236.5 980.1 238.5 980.3C240.6 980.5 242.6 980.7 244.7 981C246.7 981.2 248.8 981.4 250.8 981.6C252.8 981.8 254.9 982.1 256.9 982.3C259 982.6 261 982.9 263.1 983.2C265.1 983.5 267.2 983.8 269.2 984.1C271.2 984.4 273.3 984.7 275.3 985C277.4 985.3 279.4 985.6 281.5 985.9C283.5 986.1 285.6 986.5 287.6 986.7C289.6 987 291.7 987.3 293.7 987.5C295.8 987.7 297.8 988.1 299.9 988.1C301.9 988.1 305 987.7 306 987.6" stroke="url(#g143)" stroke-width="3.6" fill="none" stroke-linecap="round"/>
<path d="M214.0,964.2C215 964.3 218 964.7 220.1 964.9C222.1 965.2 224.1 965.4 226.1 965.7C228.2 966 230.2 966.2 232.2 966.5C234.2 966.8 236.2 967 238.3 967.3C240.3 967.6 242.3 967.8 244.3 968.1C246.4 968.4 248.4 968.6 250.4 968.9C252.4 969.1 254.4 969.4 256.5 969.7C258.5 970 260.5 970.4 262.5 970.7C264.6 971 266.6 971.4 268.6 971.8C270.6 972.1 272.6 972.5 274.7 972.8C276.7 973.2 278.7 973.5 280.7 973.9C282.8 974.2 284.8 974.6 286.8 974.9C288.8 975.3 290.8 975.6 292.9 975.8C294.9 976.1 296.9 976.5 298.9 976.6C301 976.7 304 976.4 305 976.3" stroke="url(#g144)" stroke-width="4" fill="none" stroke-linecap="round"/>
<path d="M216.0,952.0C217 952.1 220.1 952.6 222.2 952.9C224.3 953.2 226.4 953.5 228.4 953.8C230.5 954.1 232.6 954.4 234.6 954.8C236.7 955.1 238.8 955.4 240.9 955.7C242.9 956 245 956.3 247.1 956.6C249.1 956.9 251.2 957.2 253.3 957.6C255.4 957.9 257.4 958.2 259.5 958.6C261.6 959 263.6 959.4 265.7 959.9C267.8 960.3 269.9 960.7 271.9 961.1C274 961.5 276.1 961.9 278.1 962.4C280.2 962.8 282.3 963.2 284.4 963.6C286.4 964 288.5 964.4 290.6 964.8C292.6 965.1 294.7 965.5 296.8 965.7C298.9 965.9 302 966.1 303 966.1" stroke="url(#g145)" stroke-width="4" fill="none" stroke-linecap="round"/>
<path d="M232.0,942.2C233 942.4 236.1 942.9 238.2 943.3C240.2 943.6 242.3 944 244.4 944.3C246.4 944.7 248.5 945 250.5 945.4C252.6 945.7 254.7 946.1 256.7 946.5C258.8 946.9 260.8 947.4 262.9 947.8C265 948.3 267 948.8 269.1 949.2C271.2 949.7 273.2 950.2 275.3 950.6C277.3 951.1 279.4 951.6 281.5 952C283.5 952.5 285.6 953 287.6 953.4C289.7 953.9 291.8 954.2 293.8 954.6C295.9 955 299 955.5 300 955.6" stroke="url(#g146)" stroke-width="3.2" fill="none" stroke-linecap="round"/>
<path d="M240.0,931.2C241 931.3 244 931.9 246 932.3C248 932.7 250 933 252 933.4C254 933.8 256 934.2 258 934.7C260 935.1 262 935.7 264 936.2C266 936.7 268 937.2 270 937.7C272 938.2 274 938.7 276 939.2C278 939.7 280 940.3 282 940.8C284 941.3 286 941.8 288 942.3C290 942.7 292 943.1 294 943.5C296 943.9 299 944.5 300 944.6" stroke="url(#g147)" stroke-width="3" fill="none" stroke-linecap="round"/>
<path d="M245.0,919.8C246 920 249.2 920.6 251.2 921.1C253.3 921.5 255.4 922 257.5 922.5C259.6 923 261.7 923.6 263.8 924.2C265.8 924.8 267.9 925.4 270 926C272.1 926.6 274.2 927.2 276.2 927.7C278.3 928.3 280.4 928.9 282.5 929.5C284.6 930.1 286.7 930.7 288.8 931.2C290.8 931.8 294 932.4 295 932.6" stroke="url(#g148)" stroke-width="3" fill="none" stroke-linecap="round"/>
<path d="M222.0,902.1C223 902.3 226.1 903 228.2 903.5C230.2 904 232.3 904.5 234.4 905C236.4 905.4 238.5 905.9 240.5 906.4C242.6 906.9 244.7 907.4 246.7 907.8C248.8 908.3 250.8 908.8 252.9 909.3C255 909.8 257 910.3 259.1 910.9C261.2 911.5 263.2 912.1 265.3 912.8C267.3 913.4 269.4 914.1 271.5 914.7C273.5 915.3 275.6 916 277.6 916.6C279.7 917.2 281.8 917.9 283.8 918.5C285.9 919.2 289 920.1 290 920.4" stroke="url(#g149)" stroke-width="3" fill="none" stroke-linecap="round"/>
<path d="M218.0,886.3C219.1 886.6 222.2 887.4 224.3 887.9C226.4 888.4 228.6 889 230.7 889.5C232.8 890.1 234.9 890.6 237 891.1C239.1 891.7 241.2 892.2 243.3 892.8C245.4 893.3 247.6 893.8 249.7 894.4C251.8 894.9 253.9 895.4 256 896.1C258.1 896.7 260.2 897.4 262.3 898.1C264.4 898.8 266.6 899.5 268.7 900.3C270.8 901 273.9 902.1 275 902.4" stroke="url(#g150)" stroke-width="3.6" fill="none" stroke-linecap="round"/>
<path d="M225.0,877.3C226 877.6 229.1 878.4 231.2 879C233.2 879.5 235.3 880.1 237.3 880.7C239.4 881.2 241.4 881.8 243.5 882.3C245.6 882.9 247.6 883.5 249.7 884C251.7 884.6 253.8 885.1 255.8 885.8C257.9 886.4 261 887.5 262 887.9" stroke="url(#g151)" stroke-width="3" fill="none" stroke-linecap="round"/>
<path d="M240.0,868.0C241.1 868.3 244.4 869.3 246.7 870C248.9 870.6 251.1 871.2 253.3 871.9C255.6 872.6 258.9 873.8 260 874.2" stroke="url(#g152)" stroke-width="2.5" fill="none" stroke-linecap="round"/>
<path d="M222.0,849.8C223 850.2 226 851.1 228 851.7C230 852.4 232 853 234 853.6C236 854.3 238 854.9 240 855.5C242 856.2 244 856.8 246 857.4C248 858.1 251 859 252 859.3" stroke="url(#g153)" stroke-width="2.5" fill="none" stroke-linecap="round"/>
<path d="M222.0,836.0C223 836.4 226.2 837.5 228.2 838.2C230.3 838.9 232.4 839.6 234.5 840.3C236.6 841 238.7 841.7 240.8 842.4C242.8 843.1 246 844.2 247 844.5" stroke="url(#g154)" stroke-width="2.5" fill="none" stroke-linecap="round"/>
<path d="M225.0,823.3C226.1 823.7 229.4 824.9 231.7 825.7C233.9 826.5 236.1 827.3 238.3 828.1C240.6 829 243.9 830.2 245 830.6" stroke="url(#g155)" stroke-width="2.2" fill="none" stroke-linecap="round"/>
<path d="M228.0,811.7C229 812.1 232 813.3 234 814C236 814.8 239 815.9 240 816.3" stroke="url(#g156)" stroke-width="2.0" fill="none" stroke-linecap="round"/>


<path d="M411.0,1033.1C412 1033.1 415 1033.3 417.1 1033.3C419.1 1033.3 421.1 1033.1 423.1 1033C425.1 1032.9 427.1 1032.8 429.2 1032.7C431.2 1032.6 433.2 1032.5 435.2 1032.4C437.2 1032.3 439.2 1032.2 441.3 1032.1C443.3 1032.1 445.3 1032.1 447.3 1032.1C449.3 1032.1 451.4 1032.2 453.4 1032.2C455.4 1032.3 457.4 1032.3 459.4 1032.4C461.4 1032.4 463.5 1032.5 465.5 1032.5C467.5 1032.5 469.5 1032.6 471.5 1032.6C473.5 1032.7 475.6 1032.7 477.6 1032.8C479.6 1032.8 481.6 1032.9 483.6 1032.9C485.6 1032.9 487.7 1033 489.7 1033C491.7 1033.1 493.7 1033.1 495.7 1033.1C497.8 1033.2 499.8 1033.2 501.8 1033.2C503.8 1033.3 505.8 1033.4 507.8 1033.3C509.9 1033.3 511.9 1033.2 513.9 1033C515.9 1032.8 517.9 1032.4 519.9 1032.1C522 1031.8 525 1031.5 526 1031.4" stroke="url(#g157)" stroke-width="3" fill="none" stroke-linecap="round"/>
<path d="M400.0,1020.7C401 1020.9 404.1 1021.3 406.2 1021.6C408.3 1021.9 410.4 1022.4 412.4 1022.6C414.5 1022.7 416.6 1022.7 418.6 1022.6C420.7 1022.5 422.8 1022.2 424.8 1022.1C426.9 1021.9 429 1021.7 431.1 1021.5C433.1 1021.3 435.2 1021.1 437.3 1020.9C439.3 1020.8 441.4 1020.5 443.5 1020.5C445.5 1020.5 447.6 1020.6 449.7 1020.7C451.8 1020.7 453.8 1020.8 455.9 1020.9C458 1021 460 1021.1 462.1 1021.2C464.2 1021.3 466.2 1021.3 468.3 1021.4C470.4 1021.5 472.5 1021.6 474.5 1021.7C476.6 1021.8 478.7 1021.9 480.7 1021.9C482.8 1022 484.9 1022.1 486.9 1022.2C489 1022.2 491.1 1022.3 493.2 1022.4C495.2 1022.4 497.3 1022.5 499.4 1022.6C501.4 1022.6 503.5 1022.8 505.6 1022.8C507.6 1022.8 509.7 1022.9 511.8 1022.6C513.9 1022.3 517 1021.4 518 1021.1" stroke="url(#g158)" stroke-width="3.5" fill="none" stroke-linecap="round"/>
<path d="M398.0,1006.6C399 1006.8 402.2 1007.4 404.2 1007.9C406.3 1008.3 408.4 1008.9 410.5 1009.3C412.6 1009.7 414.7 1010 416.8 1010C418.8 1010 420.9 1009.5 423 1009.2C425.1 1008.9 427.2 1008.6 429.2 1008.3C431.3 1008 433.4 1007.7 435.5 1007.5C437.6 1007.2 439.7 1006.8 441.8 1006.6C443.8 1006.5 445.9 1006.6 448 1006.7C450.1 1006.8 452.2 1007 454.2 1007.1C456.3 1007.2 458.4 1007.4 460.5 1007.5C462.6 1007.6 464.7 1007.8 466.8 1007.9C468.8 1008 470.9 1008.2 473 1008.3C475.1 1008.4 477.2 1008.5 479.2 1008.7C481.3 1008.8 483.4 1008.9 485.5 1009C487.6 1009.2 489.7 1009.3 491.8 1009.4C493.8 1009.5 495.9 1009.6 498 1009.7C500.1 1009.8 502.2 1010 504.2 1010C506.3 1010.1 508.4 1010.4 510.5 1010C512.6 1009.7 514.7 1008.8 516.8 1008.1C518.8 1007.3 522 1005.8 523 1005.4" stroke="url(#g159)" stroke-width="5.5" fill="none" stroke-linecap="round"/>
<path d="M398.0,994.2C399 994.4 402 995.2 404 995.7C406 996.3 408 997.1 410 997.6C412 998.1 414 998.7 416 998.7C418 998.8 420 998.1 422 997.8C424 997.5 426 997.1 428 996.7C430 996.3 432 995.9 434 995.6C436 995.2 438 994.7 440 994.5C442 994.2 444 994.1 446 994.1C448 994.2 450 994.5 452 994.6C454 994.8 456 995 458 995.1C460 995.3 462 995.5 464 995.6C466 995.8 468 996 470 996.1C472 996.3 474 996.5 476 996.6C478 996.8 480 997 482 997.1C484 997.3 486 997.4 488 997.6C490 997.7 492 997.8 494 998C496 998.1 498 998.2 500 998.4C502 998.5 504 998.8 506 998.8C508 998.8 510 998.9 512 998.3C514 997.8 516 996.4 518 995.4C520 994.4 523 992.7 524 992.1" stroke="url(#g160)" stroke-width="4" fill="none" stroke-linecap="round"/>
<path d="M398.0,980.9C399 981.3 402.2 982.3 404.3 983C406.4 983.8 408.5 984.8 410.6 985.4C412.7 986 414.8 986.6 416.9 986.6C419 986.6 421.1 985.7 423.2 985.2C425.3 984.8 427.4 984.3 429.5 983.8C431.6 983.3 433.7 982.8 435.8 982.3C437.9 981.8 440 981.2 442.1 981C444.2 980.8 446.3 981 448.4 981.2C450.5 981.3 452.5 981.6 454.6 981.8C456.7 982 458.8 982.2 460.9 982.5C463 982.7 465.1 982.9 467.2 983.1C469.3 983.3 471.4 983.5 473.5 983.8C475.6 984 477.7 984.2 479.8 984.4C481.9 984.6 484 984.8 486.1 985C488.2 985.2 490.3 985.4 492.4 985.6C494.5 985.7 496.6 985.9 498.7 986.1C500.8 986.3 504 986.5 505 986.6" stroke="url(#g161)" stroke-width="4" fill="none" stroke-linecap="round"/>
<path d="M398.0,968.6C399 969 402 970.1 404.1 971C406.1 971.8 408.1 973 410.1 973.7C412.1 974.5 414.1 975.3 416.2 975.4C418.2 975.4 420.2 974.5 422.2 974C424.2 973.5 426.2 972.9 428.3 972.3C430.3 971.7 432.3 971.2 434.3 970.6C436.3 970.1 438.4 969.3 440.4 969C442.4 968.6 444.4 968.6 446.4 968.6C448.4 968.7 450.5 969.1 452.5 969.4C454.5 969.6 456.5 969.9 458.5 970.1C460.5 970.4 462.6 970.6 464.6 970.9C466.6 971.1 468.6 971.4 470.6 971.6C472.6 971.9 474.7 972.1 476.7 972.4C478.7 972.6 480.7 972.9 482.7 973.1C484.8 973.3 486.8 973.5 488.8 973.7C490.8 973.9 492.8 974.1 494.8 974.4C496.9 974.6 498.9 974.8 500.9 975C502.9 975.2 504.9 975.7 506.9 975.6C509 975.5 512 974.5 513 974.3" stroke="url(#g162)" stroke-width="4.5" fill="none" stroke-linecap="round"/>
<path d="M400.0,956.9C401 957.5 404 959 406 960C408 961.1 410 962.6 412 963.2C414 963.9 416 964.1 418 963.9C420 963.6 422 962.6 424 961.9C426 961.3 428 960.6 430 960C432 959.3 434 958.7 436 958.1C438 957.4 440 956.6 442 956.3C444 956.1 446 956.3 448 956.5C450 956.7 452 957.1 454 957.4C456 957.7 458 957.9 460 958.2C462 958.5 464 958.8 466 959.1C468 959.4 470 959.7 472 959.9C474 960.2 476 960.5 478 960.8C480 961.1 482 961.4 484 961.6C486 961.9 488 962.1 490 962.4C492 962.6 494 962.8 496 963.1C498 963.3 500 963.5 502 963.8C504 964 506 964.7 508 964.5C510 964.2 513 962.5 514 962.1" stroke="url(#g163)" stroke-width="4.5" fill="none" stroke-linecap="round"/>
<path d="M402.0,946.4C403 947 406 948.9 408 950C410 951.1 412 952.8 414 953.2C416 953.6 418 952.9 420 952.4C422 951.9 424 950.9 426 950.2C428 949.5 430 948.7 432 948C434 947.3 436 946.4 438 945.8C440 945.2 442 944.5 444 944.4C446 944.3 448 944.8 450 945.1C452 945.4 454 945.8 456 946.1C458 946.4 460 946.7 462 947.1C464 947.4 466 947.7 468 948C470 948.4 472 948.7 474 949C476 949.3 478 949.7 480 950C482 950.3 484 950.6 486 950.9C488 951.2 490 951.4 492 951.7C494 952 496 952.2 498 952.5C500 952.7 502 953.1 504 953.3C506 953.5 508 954.3 510 953.6C512 952.9 515 949.8 516 949.1" stroke="url(#g164)" stroke-width="4.5" fill="none" stroke-linecap="round"/>
<path d="M405.0,938.0C406 938.7 409.2 941.2 411.2 942.2C413.3 943.1 415.4 943.8 417.5 943.6C419.5 943.4 421.6 942 423.7 941.2C425.8 940.3 427.8 939.5 429.9 938.7C432 937.8 434.1 936.9 436.2 936.2C438.2 935.4 440.3 934.3 442.4 934C444.5 933.7 446.5 934.1 448.6 934.4C450.7 934.7 452.8 935.1 454.8 935.5C456.9 935.9 459 936.3 461.1 936.6C463.2 937 465.2 937.4 467.3 937.7C469.4 938.1 471.5 938.5 473.5 938.9C475.6 939.2 477.7 939.6 479.8 940C481.8 940.3 485 940.8 486 941" stroke="url(#g165)" stroke-width="4" fill="none" stroke-linecap="round"/>
<path d="M410.0,929.0C411 929.4 414.1 931.6 416.2 931.7C418.2 931.8 420.3 930.2 422.4 929.4C424.4 928.5 426.5 927.5 428.6 926.6C430.6 925.7 432.7 924.7 434.8 923.8C436.8 922.9 438.9 921.6 440.9 921.1C443 920.6 445.1 920.7 447.1 920.9C449.2 921.1 451.2 921.7 453.3 922.2C455.4 922.6 457.4 923 459.5 923.4C461.6 923.8 463.6 924.2 465.7 924.6C467.8 925 469.8 925.5 471.9 925.9C473.9 926.3 476 926.7 478.1 927.1C480.1 927.5 482.2 927.9 484.2 928.3C486.3 928.7 488.4 929 490.4 929.3C492.5 929.7 494.6 930 496.6 930.3C498.7 930.7 500.8 931.1 502.8 931.4C504.9 931.7 508 932 509 932.2" stroke="url(#g166)" stroke-width="3.5" fill="none" stroke-linecap="round"/>
<path d="M443.0,908.3C444 908.4 447 908.7 449 909C451 909.4 453 909.9 455 910.3C457 910.8 459 911.2 461 911.6C463 912.1 465 912.5 467 913C469 913.4 471 913.8 473 914.3C475 914.7 477 915.2 479 915.6C481 916 483 916.5 485 916.9C487 917.2 489 917.6 491 917.9C493 918.3 495 918.7 497 919C499 919.4 502 919.9 503 920.1" stroke="url(#g167)" stroke-width="3" fill="none" stroke-linecap="round"/>
<path d="M443.0,896.0C444 896.1 447.2 896.4 449.2 896.8C451.3 897.2 453.4 897.8 455.5 898.3C457.6 898.8 459.7 899.3 461.8 899.8C463.8 900.3 465.9 900.8 468 901.3C470.1 901.8 472.2 902.3 474.2 902.8C476.3 903.3 478.4 903.8 480.5 904.3C482.6 904.7 484.7 905.2 486.8 905.6C488.8 906.1 492 906.6 493 906.9" stroke="url(#g168)" stroke-width="3.2" fill="none" stroke-linecap="round"/>
<path d="M443.0,884.4C444.1 884.6 447.2 884.9 449.3 885.3C451.4 885.7 453.5 886.4 455.6 886.9C457.7 887.5 459.8 888 461.9 888.6C464 889.1 466.1 889.6 468.2 890.2C470.3 890.7 472.4 891.3 474.5 891.8C476.6 892.3 478.7 892.9 480.8 893.4C482.9 893.9 485 894.4 487.1 894.9C489.2 895.4 491.3 895.8 493.4 896.2C495.5 896.7 497.6 897.1 499.7 897.6C501.8 898 504.9 898.7 506 898.9" stroke="url(#g169)" stroke-width="3.2" fill="none" stroke-linecap="round"/>
<path d="M443.0,872.9C444.1 873 447.3 873.4 449.4 873.9C451.6 874.3 453.7 875.1 455.9 875.7C458 876.2 460.2 876.8 462.3 877.4C464.5 878 466.6 878.6 468.8 879.2C470.9 879.8 473.1 880.4 475.2 881C477.4 881.6 479.5 882.2 481.7 882.8C483.8 883.3 486 883.8 488.1 884.3C490.3 884.8 492.4 885.3 494.6 885.8C496.7 886.3 499.9 887 501 887.2" stroke="url(#g170)" stroke-width="3" fill="none" stroke-linecap="round"/>
<path d="M445.0,860.7C446.1 861 449.3 861.9 451.4 862.5C453.6 863.1 455.7 863.7 457.9 864.4C460 865 462.1 865.6 464.3 866.3C466.4 866.9 468.6 867.5 470.7 868.2C472.9 868.8 475 869.4 477.1 870.1C479.3 870.7 481.4 871.3 483.6 871.9C485.7 872.5 488.9 873.3 490 873.5" stroke="url(#g171)" stroke-width="2.5" fill="none" stroke-linecap="round"/>
<path d="M445.0,849.8C446.2 850.1 449.7 851.1 452 851.8C454.3 852.5 456.7 853.3 459 854C461.3 854.7 463.7 855.5 466 856.2C468.3 856.9 470.7 857.6 473 858.4C475.3 859.1 478.8 860.2 480 860.6" stroke="url(#g172)" stroke-width="2.5" fill="none" stroke-linecap="round"/>
<path d="M445.0,839.8C446 840.1 449.2 841 451.2 841.7C453.3 842.4 455.4 843.1 457.5 843.8C459.6 844.4 461.7 845.1 463.8 845.8C465.8 846.5 469 847.5 470 847.9" stroke="url(#g173)" stroke-width="2.2" fill="none" stroke-linecap="round"/>
<path d="M440.0,824.4C441.2 824.3 445 823.3 447.5 823.6C450 823.9 453.8 825.8 455 826.3" stroke="url(#g174)" stroke-width="2.0" fill="none" stroke-linecap="round"/>










<path d="M830.0,1029.5L1010.0,1030.0" stroke="url(#g175)" stroke-width="2.5" fill="none" stroke-linecap="round"/>
<path d="M832.0,888.0C843.3 887.8 872 887 900 887C928 887 983.3 887.8 1000 888" stroke="url(#g176)" stroke-width="2.5" fill="none" stroke-linecap="round"/>
<path d="M714.6,832.0L714.6,1040.0" stroke="url(#g177)" stroke-width="4.6" fill="none"/>
<path d="M738.9,832.0L738.9,1040.0" stroke="url(#g178)" stroke-width="4.6" fill="none"/>
<path d="M750.2,832.0L750.2,1040.0" stroke="url(#g179)" stroke-width="4.6" fill="none"/>
<path d="M760.8,832.0L760.8,1040.0" stroke="url(#g180)" stroke-width="4.6" fill="none"/>
<path d="M770.5,832.0L770.5,1040.0" stroke="url(#g181)" stroke-width="4.6" fill="none"/>
<path d="M779.4,832.0L779.4,1040.0" stroke="url(#g182)" stroke-width="4.6" fill="none"/>
<path d="M787.5,832.0L787.5,1040.0" stroke="url(#g183)" stroke-width="4.6" fill="none"/>
<path d="M795.0,832.0L795.0,1040.0" stroke="url(#g184)" stroke-width="4.6" fill="none"/>
<path d="M801.0,832.0L801.0,1040.0" stroke="url(#g185)" stroke-width="4.6" fill="none"/>
<path d="M807.0,832.0L807.0,1040.0" stroke="url(#g186)" stroke-width="4.6" fill="none"/>
<path d="M813.5,832.0L813.5,1040.0" stroke="url(#g187)" stroke-width="4.6" fill="none"/>
<path d="M821.6,832.0L821.6,1040.0" stroke="url(#g188)" stroke-width="4.6" fill="none"/>
<path d="M828.0,832.0L828.0,1040.0" stroke="url(#g189)" stroke-width="4.6" fill="none"/>
<path d="M838.0,832.0L838.0,1040.0" stroke="url(#g190)" stroke-width="4.6" fill="none"/>
<path d="M913.0,832.0L913.0,1040.0" stroke="url(#g191)" stroke-width="4.6" fill="none"/>
<path d="M967.0,832.0L967.0,1040.0" stroke="url(#g192)" stroke-width="4.6" fill="none"/>
<path d="M981.0,832.0L981.0,1040.0" stroke="url(#g193)" stroke-width="4.6" fill="none"/>
<path d="M990.0,832.0L990.0,1040.0" stroke="url(#g194)" stroke-width="4.6" fill="none"/>
<path d="M1012.0,832.0L1012.0,1040.0" stroke="url(#g195)" stroke-width="4.6" fill="none"/>

<path d="M199.0,1390.0C200 1390 203 1389.9 205.1 1389.8C207.1 1389.7 209.1 1389.6 211.1 1389.5C213.1 1389.4 215.1 1389.3 217.2 1389.2C219.2 1389.1 221.2 1389 223.2 1389C225.2 1388.9 227.2 1388.9 229.2 1388.8C231.3 1388.8 233.3 1388.8 235.3 1388.8C237.3 1388.7 239.3 1388.7 241.3 1388.7C243.4 1388.8 245.4 1388.8 247.4 1388.9C249.4 1388.9 251.4 1389 253.4 1389C255.5 1389.1 257.5 1389.1 259.5 1389.2C261.5 1389.2 263.5 1389.2 265.6 1389.3C267.6 1389.4 269.6 1389.4 271.6 1389.5C273.6 1389.6 275.6 1389.7 277.6 1389.8C279.7 1389.9 281.7 1390 283.7 1390.1C285.7 1390.3 287.7 1390.4 289.8 1390.5C291.8 1390.6 293.8 1390.8 295.8 1390.9C297.8 1391 299.8 1391.2 301.9 1391.3C303.9 1391.5 305.9 1391.6 307.9 1391.8C309.9 1391.9 311.9 1392 313.9 1392.1C316 1392.2 319 1392.2 320 1392.3" stroke="url(#g196)" stroke-width="2.5" fill="none" stroke-linecap="round"/>
<path d="M197.0,1374.7C198 1374.6 201 1374.4 203 1374.2C205 1374.1 207 1373.9 209 1373.7C211 1373.6 213 1373.4 215 1373.2C217 1373 219 1372.8 221 1372.7C223 1372.5 225 1372.4 227 1372.3C229 1372.2 231 1372.2 233 1372.2C235 1372.1 237 1372 239 1372.1C241 1372.1 243 1372.2 245 1372.2C247 1372.3 249 1372.4 251 1372.5C253 1372.6 255 1372.7 257 1372.8C259 1372.9 261 1373 263 1373.1C265 1373.2 267 1373.2 269 1373.4C271 1373.5 273 1373.7 275 1373.9C277 1374.1 279 1374.3 281 1374.5C283 1374.7 285 1374.9 287 1375.1C289 1375.4 291 1375.6 293 1375.9C295 1376.1 297 1376.4 299 1376.7C301 1377 303 1377.3 305 1377.5C307 1377.8 309 1378.1 311 1378.3C313 1378.5 316 1378.7 317 1378.8" stroke="url(#g197)" stroke-width="5.5" fill="none" stroke-linecap="round"/>
<path d="M197.0,1360.0C198 1359.9 201 1359.6 203 1359.4C205 1359.1 207 1358.9 209 1358.6C211 1358.4 213 1358.1 215 1357.9C217 1357.6 219 1357.3 221 1357.1C223 1356.9 225 1356.7 227 1356.5C229 1356.4 231 1356.4 233 1356.3C235 1356.3 237 1356.2 239 1356.2C241 1356.2 243 1356.3 245 1356.4C247 1356.5 249 1356.7 251 1356.8C253 1357 255 1357.1 257 1357.2C259 1357.4 261 1357.5 263 1357.6C265 1357.8 267 1357.9 269 1358.1C271 1358.3 273 1358.6 275 1358.9C277 1359.2 279 1359.5 281 1359.8C283 1360.1 285 1360.4 287 1360.7C289 1361 291 1361.4 293 1361.7C295 1362.1 297 1362.6 299 1363C301 1363.4 303 1363.8 305 1364.2C307 1364.5 309 1365 311 1365.3C313 1365.6 316 1365.9 317 1366" stroke="url(#g198)" stroke-width="4.5" fill="none" stroke-linecap="round"/>
<path d="M197.0,1345.5C198 1345.3 201.2 1344.9 203.3 1344.6C205.4 1344.2 207.5 1343.9 209.6 1343.5C211.6 1343.2 213.7 1342.8 215.8 1342.5C217.9 1342.1 220 1341.7 222.1 1341.4C224.2 1341.2 226.3 1341 228.4 1340.8C230.5 1340.7 232.6 1340.6 234.7 1340.5C236.8 1340.5 238.9 1340.4 240.9 1340.4C243 1340.5 245.1 1340.8 247.2 1340.9C249.3 1341.1 251.4 1341.3 253.5 1341.5C255.6 1341.7 257.7 1341.9 259.8 1342C261.9 1342.2 264 1342.4 266.1 1342.6C268.1 1342.8 270.2 1343.1 272.3 1343.4C274.4 1343.8 276.5 1344.2 278.6 1344.7C280.7 1345.1 282.8 1345.5 284.9 1345.9C287 1346.3 289.1 1346.8 291.2 1347.3C293.3 1347.8 295.4 1348.3 297.4 1348.9C299.5 1349.4 301.6 1350 303.7 1350.6C305.8 1351.1 309 1351.9 310 1352.1" stroke="url(#g199)" stroke-width="4.5" fill="none" stroke-linecap="round"/>
<path d="M255.0,1328.2C256.2 1328.3 259.7 1328.7 262 1328.9C264.3 1329.2 266.7 1329.4 269 1329.7C271.3 1330.1 273.7 1330.7 276 1331.2C278.3 1331.8 280.7 1332.3 283 1332.9C285.3 1333.5 288.8 1334.4 290 1334.7" stroke="url(#g200)" stroke-width="4" fill="none" stroke-linecap="round"/>
<path d="M250.0,1311.3C251.1 1311.4 254.4 1311.8 256.6 1312.1C258.7 1312.4 260.9 1312.7 263.1 1313C265.3 1313.3 267.5 1313.5 269.7 1313.9C271.9 1314.4 274 1315.1 276.2 1315.7C278.4 1316.3 280.6 1316.9 282.8 1317.6C285 1318.2 287.1 1318.8 289.3 1319.5C291.5 1320.2 293.7 1321.1 295.9 1321.9C298.1 1322.7 300.3 1323.6 302.4 1324.5C304.6 1325.3 307.9 1326.5 309 1326.9" stroke="url(#g201)" stroke-width="3.5" fill="none" stroke-linecap="round"/>
<path d="M270.0,1299.6C271 1299.9 274.1 1300.9 276.1 1301.5C278.2 1302.2 280.2 1302.9 282.3 1303.6C284.3 1304.3 286.4 1304.9 288.4 1305.7C290.5 1306.4 292.5 1307.3 294.6 1308.2C296.6 1309.1 298.7 1310 300.7 1310.9C302.8 1311.8 304.8 1312.8 306.9 1313.7C308.9 1314.5 312 1315.5 313 1315.9" stroke="url(#g202)" stroke-width="3" fill="none" stroke-linecap="round"/>
<path d="M249.0,1283.1C250 1283.3 253.2 1283.8 255.2 1284.1C257.3 1284.5 259.4 1284.8 261.5 1285.2C263.6 1285.5 265.7 1285.8 267.8 1286.2C269.8 1286.7 273 1287.8 274 1288.1" stroke="url(#g203)" stroke-width="2.5" fill="none" stroke-linecap="round"/>
<path d="M214.0,1268.2C215 1267.8 218 1266.7 220 1266C222 1265.4 224 1264.7 226 1264.3C228 1263.8 230 1263.8 232 1263.6C234 1263.4 236 1263 238 1263C240 1263 242 1263.3 244 1263.6C246 1263.8 248 1264.3 250 1264.7C252 1265.1 254 1265.5 256 1265.9C258 1266.2 260 1266.6 262 1267C264 1267.4 266 1267.7 268 1268.2C270 1268.7 272 1269.5 274 1270.3C276 1271 278 1272 280 1272.9C282 1273.7 285 1275 286 1275.4" stroke="url(#g204)" stroke-width="2.8" fill="none" stroke-linecap="round"/>
<path d="M206.0,1255.4C207 1255 210 1253.8 212 1253C214 1252.2 216 1251.4 218 1250.6C220 1249.8 222 1248.9 224 1248.3C226 1247.8 228 1247.6 230 1247.3C232 1247 234 1246.7 236 1246.6C238 1246.5 240 1246.5 242 1246.7C244 1246.9 246 1247.5 248 1247.9C250 1248.3 252 1248.8 254 1249.2C256 1249.6 258 1250 260 1250.5C262 1250.9 264 1251.2 266 1251.8C268 1252.3 270 1252.8 272 1253.6C274 1254.4 276 1255.5 278 1256.5C280 1257.4 282 1258.4 284 1259.3C286 1260.3 288 1261.2 290 1262.4C292 1263.5 294 1264.8 296 1266.1C298 1267.3 301 1269.3 302 1269.9" stroke="url(#g205)" stroke-width="2.8" fill="none" stroke-linecap="round"/>
<path d="M251.0,1188.0L270.0,1190.0" stroke="url(#g206)" stroke-width="2" fill="none" stroke-linecap="round"/>
<path d="M253.0,1152.0L283.0,1165.0" stroke="url(#g207)" stroke-width="2" fill="none" stroke-linecap="round"/>




<path d="M404.0,1377.1C405.5 1377.1 410 1377 413 1377C416 1377 419 1377 422 1376.9C425 1376.9 428 1376.9 431 1376.8C434 1376.8 437 1376.8 440 1376.8C443 1376.7 446 1376.7 449 1376.7C452 1376.6 455 1376.6 458 1376.6C461 1376.6 464 1376.4 467 1376.5C470 1376.6 473 1377 476 1377.1C479 1377.1 482 1376.8 485 1376.7C488 1376.6 491 1376.5 494 1376.4C497 1376.3 500 1376 503 1376.1C506 1376.2 509 1376.8 512 1376.9C515 1376.9 518 1376.5 521 1376.4C524 1376.2 527 1375.8 530 1375.9C533 1376 536 1376.6 539 1376.7C542 1376.8 545 1376.4 548 1376.2C551 1376.1 554 1375.7 557 1375.8C560 1375.9 563 1376.6 566 1376.6C569 1376.7 572 1376.4 575 1376.2C578 1376.1 581 1376 584 1375.8C587 1375.7 590 1375.5 593 1375.4C596 1375.3 600.5 1375.3 602 1375.3" stroke="url(#g208)" stroke-width="3.4" fill="none" stroke-linecap="butt"/>
<path d="M404.0,1369.8C405.5 1369.7 410 1369.7 413 1369.6C416 1369.6 419 1369.6 422 1369.5C425 1369.5 428 1369.5 431 1369.4C434 1369.4 437 1369.4 440 1369.3C443 1369.3 446 1369.3 449 1369.2C452 1369.2 455 1369.2 458 1369.1C461 1369.1 464 1368.9 467 1369C470 1369.1 473 1369.6 476 1369.7C479 1369.7 482 1369.4 485 1369.3C488 1369.2 491 1369 494 1368.9C497 1368.8 500 1368.4 503 1368.5C506 1368.6 509 1369.4 512 1369.5C515 1369.5 518 1369.1 521 1368.9C524 1368.7 527 1368.2 530 1368.2C533 1368.3 536 1369.2 539 1369.2C542 1369.3 545 1368.9 548 1368.7C551 1368.5 554 1368 557 1368.1C560 1368.2 563 1369.1 566 1369.2C569 1369.3 572 1368.8 575 1368.7C578 1368.5 581 1368.3 584 1368.2C587 1368 590 1367.8 593 1367.7C596 1367.6 600.5 1367.5 602 1367.5" stroke="url(#g209)" stroke-width="3.4" fill="none" stroke-linecap="butt"/>
<path d="M404.0,1362.4C405.5 1362.4 410 1362.3 413 1362.3C416 1362.2 419 1362.2 422 1362.1C425 1362.1 428 1362.1 431 1362C434 1362 437 1361.9 440 1361.9C443 1361.9 446 1361.8 449 1361.8C452 1361.7 455 1361.7 458 1361.6C461 1361.6 464 1361.4 467 1361.5C470 1361.6 473 1362.3 476 1362.3C479 1362.4 482 1362 485 1361.9C488 1361.7 491 1361.5 494 1361.4C497 1361.2 500 1360.8 503 1360.9C506 1361 509 1362 512 1362.1C515 1362.1 518 1361.6 521 1361.3C524 1361.1 527 1360.5 530 1360.6C533 1360.7 536 1361.7 539 1361.8C542 1361.9 545 1361.3 548 1361.1C551 1360.9 554 1360.4 557 1360.5C560 1360.5 563 1361.6 566 1361.7C569 1361.8 572 1361.3 575 1361.1C578 1360.9 581 1360.7 584 1360.5C587 1360.3 590 1360 593 1359.9C596 1359.8 600.5 1359.7 602 1359.7" stroke="url(#g210)" stroke-width="3.4" fill="none" stroke-linecap="butt"/>
<path d="M404.0,1355.0C405.5 1355 410 1355 413 1354.9C416 1354.9 419 1354.8 422 1354.8C425 1354.7 428 1354.7 431 1354.6C434 1354.6 437 1354.5 440 1354.5C443 1354.4 446 1354.4 449 1354.3C452 1354.3 455 1354.2 458 1354.2C461 1354.1 464 1353.9 467 1354C470 1354.2 473 1354.9 476 1355C479 1355 482 1354.6 485 1354.4C488 1354.2 491 1354 494 1353.9C497 1353.7 500 1353.2 503 1353.3C506 1353.4 509 1354.6 512 1354.6C515 1354.7 518 1354.1 521 1353.8C524 1353.5 527 1352.9 530 1353C533 1353 536 1354.2 539 1354.3C542 1354.5 545 1353.8 548 1353.6C551 1353.3 554 1352.7 557 1352.8C560 1352.9 563 1354.1 566 1354.2C569 1354.4 572 1353.8 575 1353.5C578 1353.3 581 1353.1 584 1352.8C587 1352.6 590 1352.3 593 1352.1C596 1352 600.5 1351.9 602 1351.9" stroke="url(#g211)" stroke-width="3.4" fill="none" stroke-linecap="butt"/>
<path d="M404.0,1347.7C405.5 1347.7 410 1347.6 413 1347.5C416 1347.5 419 1347.4 422 1347.4C425 1347.3 428 1347.2 431 1347.2C434 1347.1 437 1347.1 440 1347C443 1347 446 1346.9 449 1346.9C452 1346.8 455 1346.7 458 1346.7C461 1346.6 464 1346.4 467 1346.5C470 1346.7 473 1347.5 476 1347.6C479 1347.7 482 1347.2 485 1347C488 1346.8 491 1346.5 494 1346.3C497 1346.1 500 1345.5 503 1345.7C506 1345.9 509 1347.1 512 1347.2C515 1347.3 518 1346.6 521 1346.3C524 1345.9 527 1345.2 530 1345.3C533 1345.4 536 1346.8 539 1346.9C542 1347 545 1346.3 548 1346C551 1345.7 554 1345 557 1345.1C560 1345.2 563 1346.6 566 1346.8C569 1346.9 572 1346.2 575 1346C578 1345.7 581 1345.4 584 1345.2C587 1344.9 590 1344.5 593 1344.4C596 1344.2 600.5 1344.1 602 1344.1" stroke="url(#g212)" stroke-width="3.4" fill="none" stroke-linecap="butt"/>
<path d="M404.0,1340.3C405.5 1340.3 410 1340.2 413 1340.2C416 1340.1 419 1340 422 1340C425 1339.9 428 1339.8 431 1339.8C434 1339.7 437 1339.7 440 1339.6C443 1339.5 446 1339.5 449 1339.4C452 1339.3 455 1339.3 458 1339.2C461 1339.1 464 1338.8 467 1339C470 1339.2 473 1340.2 476 1340.2C479 1340.3 482 1339.8 485 1339.5C488 1339.3 491 1339.1 494 1338.8C497 1338.6 500 1337.9 503 1338.1C506 1338.3 509 1339.7 512 1339.8C515 1339.9 518 1339.1 521 1338.7C524 1338.4 527 1337.5 530 1337.7C533 1337.8 536 1339.3 539 1339.5C542 1339.6 545 1338.8 548 1338.4C551 1338.1 554 1337.3 557 1337.4C560 1337.6 563 1339.1 566 1339.3C569 1339.5 572 1338.7 575 1338.4C578 1338.1 581 1337.8 584 1337.5C587 1337.2 590 1336.8 593 1336.6C596 1336.4 600.5 1336.3 602 1336.3" stroke="url(#g213)" stroke-width="3.4" fill="none" stroke-linecap="butt"/>
<path d="M404.0,1333.0C405.5 1333 410 1332.9 413 1332.8C416 1332.7 419 1332.6 422 1332.6C425 1332.5 428 1332.4 431 1332.4C434 1332.3 437 1332.2 440 1332.2C443 1332.1 446 1332 449 1331.9C452 1331.9 455 1331.8 458 1331.7C461 1331.7 464 1331.3 467 1331.5C470 1331.7 473 1332.8 476 1332.9C479 1333 482 1332.4 485 1332.1C488 1331.8 491 1331.6 494 1331.3C497 1331 500 1330.3 503 1330.5C506 1330.7 509 1332.3 512 1332.4C515 1332.5 518 1331.6 521 1331.2C524 1330.8 527 1329.9 530 1330C533 1330.1 536 1331.9 539 1332C542 1332.1 545 1331.2 548 1330.9C551 1330.5 554 1329.6 557 1329.8C560 1329.9 563 1331.7 566 1331.8C569 1332 572 1331.2 575 1330.8C578 1330.5 581 1330.2 584 1329.8C587 1329.5 590 1329.1 593 1328.8C596 1328.6 600.5 1328.6 602 1328.5" stroke="url(#g214)" stroke-width="3.4" fill="none" stroke-linecap="butt"/>
<path d="M404.0,1325.7C405.5 1325.6 410 1325.5 413 1325.4C416 1325.3 419 1325.3 422 1325.2C425 1325.1 428 1325 431 1325C434 1324.9 437 1324.8 440 1324.7C443 1324.6 446 1324.6 449 1324.5C452 1324.4 455 1324.3 458 1324.3C461 1324.2 464 1323.8 467 1324C470 1324.2 473 1325.4 476 1325.5C479 1325.6 482 1324.9 485 1324.6C488 1324.4 491 1324.1 494 1323.8C497 1323.5 500 1322.7 503 1322.9C506 1323.1 509 1324.9 512 1325C515 1325.1 518 1324.1 521 1323.7C524 1323.2 527 1322.2 530 1322.3C533 1322.5 536 1324.4 539 1324.5C542 1324.7 545 1323.7 548 1323.3C551 1322.9 554 1321.9 557 1322.1C560 1322.3 563 1324.2 566 1324.4C569 1324.6 572 1323.6 575 1323.3C578 1322.9 581 1322.5 584 1322.2C587 1321.8 590 1321.3 593 1321.1C596 1320.8 600.5 1320.8 602 1320.7" stroke="url(#g215)" stroke-width="3.4" fill="none" stroke-linecap="butt"/>
<path d="M404.0,1318.3C405.5 1318.3 410 1318.1 413 1318C416 1318 419 1317.9 422 1317.8C425 1317.7 428 1317.6 431 1317.5C434 1317.5 437 1317.4 440 1317.3C443 1317.2 446 1317.1 449 1317C452 1317 455 1316.9 458 1316.8C461 1316.7 464 1316.3 467 1316.5C470 1316.8 473 1318 476 1318.2C479 1318.3 482 1317.5 485 1317.2C488 1316.9 491 1316.6 494 1316.3C497 1315.9 500 1315.1 503 1315.3C506 1315.5 509 1317.5 512 1317.6C515 1317.8 518 1316.6 521 1316.2C524 1315.7 527 1314.5 530 1314.7C533 1314.9 536 1316.9 539 1317.1C542 1317.3 545 1316.2 548 1315.8C551 1315.3 554 1314.2 557 1314.4C560 1314.6 563 1316.7 566 1316.9C569 1317.1 572 1316.1 575 1315.7C578 1315.3 581 1314.9 584 1314.5C587 1314.1 590 1313.6 593 1313.3C596 1313 600.5 1313 602 1312.9" stroke="url(#g216)" stroke-width="3.4" fill="none" stroke-linecap="butt"/>
<path d="M404.0,1311.0C405.5 1310.9 410 1310.8 413 1310.7C416 1310.6 419 1310.5 422 1310.4C425 1310.3 428 1310.2 431 1310.1C434 1310 437 1309.9 440 1309.9C443 1309.8 446 1309.7 449 1309.6C452 1309.5 455 1309.4 458 1309.3C461 1309.2 464 1308.8 467 1309C470 1309.3 473 1310.7 476 1310.8C479 1310.9 482 1310.1 485 1309.8C488 1309.4 491 1309.1 494 1308.7C497 1308.4 500 1307.5 503 1307.7C506 1307.9 509 1310 512 1310.2C515 1310.4 518 1309.2 521 1308.6C524 1308.1 527 1306.9 530 1307C533 1307.2 536 1309.5 539 1309.7C542 1309.8 545 1308.7 548 1308.2C551 1307.7 554 1306.5 557 1306.7C560 1306.9 563 1309.2 566 1309.4C569 1309.7 572 1308.6 575 1308.1C578 1307.7 581 1307.3 584 1306.8C587 1306.4 590 1305.8 593 1305.5C596 1305.2 600.5 1305.2 602 1305.1" stroke="url(#g217)" stroke-width="3.4" fill="none" stroke-linecap="butt"/>
<path d="M404.0,1303.6C405.5 1303.6 410 1303.4 413 1303.3C416 1303.2 419 1303.1 422 1303C425 1302.9 428 1302.8 431 1302.7C434 1302.6 437 1302.5 440 1302.4C443 1302.3 446 1302.2 449 1302.1C452 1302 455 1301.9 458 1301.8C461 1301.7 464 1301.3 467 1301.5C470 1301.8 473 1303.3 476 1303.4C479 1303.6 482 1302.7 485 1302.3C488 1302 491 1301.6 494 1301.2C497 1300.8 500 1299.8 503 1300.1C506 1300.4 509 1302.6 512 1302.8C515 1303 518 1301.7 521 1301.1C524 1300.5 527 1299.2 530 1299.4C533 1299.6 536 1302 539 1302.2C542 1302.4 545 1301.2 548 1300.6C551 1300.1 554 1298.8 557 1299C560 1299.3 563 1301.7 566 1302C569 1302.2 572 1301 575 1300.6C578 1300.1 581 1299.6 584 1299.2C587 1298.7 590 1298.1 593 1297.8C596 1297.5 600.5 1297.4 602 1297.3" stroke="url(#g218)" stroke-width="3.4" fill="none" stroke-linecap="butt"/>
<path d="M404.0,1296.2C405.5 1296.2 410 1296 413 1295.9C416 1295.8 419 1295.7 422 1295.6C425 1295.5 428 1295.4 431 1295.3C434 1295.2 437 1295.1 440 1295C443 1294.9 446 1294.8 449 1294.7C452 1294.6 455 1294.5 458 1294.4C461 1294.2 464 1293.7 467 1294C470 1294.3 473 1295.9 476 1296.1C479 1296.2 482 1295.3 485 1294.9C488 1294.5 491 1294.1 494 1293.7C497 1293.3 500 1292.2 503 1292.5C506 1292.8 509 1295.2 512 1295.4C515 1295.6 518 1294.2 521 1293.6C524 1293 527 1291.6 530 1291.8C533 1291.9 536 1294.5 539 1294.8C542 1295 545 1293.6 548 1293.1C551 1292.5 554 1291.1 557 1291.4C560 1291.6 563 1294.2 566 1294.5C569 1294.8 572 1293.5 575 1293C578 1292.5 581 1292 584 1291.5C587 1291 590 1290.3 593 1290C596 1289.7 600.5 1289.6 602 1289.5" stroke="url(#g219)" stroke-width="3.4" fill="none" stroke-linecap="butt"/>
<path d="M404.0,1288.9C405.5 1288.8 410 1288.7 413 1288.6C416 1288.5 419 1288.3 422 1288.2C425 1288.1 428 1288 431 1287.9C434 1287.8 437 1287.7 440 1287.5C443 1287.4 446 1287.3 449 1287.2C452 1287.1 455 1287 458 1286.9C461 1286.8 464 1286.2 467 1286.5C470 1286.8 473 1288.6 476 1288.7C479 1288.9 482 1287.9 485 1287.4C488 1287 491 1286.6 494 1286.2C497 1285.7 500 1284.6 503 1284.9C506 1285.2 509 1287.8 512 1288C515 1288.2 518 1286.7 521 1286C524 1285.4 527 1283.9 530 1284.1C533 1284.3 536 1287.1 539 1287.3C542 1287.5 545 1286.1 548 1285.5C551 1284.9 554 1283.4 557 1283.7C560 1284 563 1286.7 566 1287C569 1287.3 572 1286 575 1285.4C578 1284.9 581 1284.4 584 1283.8C587 1283.3 590 1282.6 593 1282.2C596 1281.9 600.5 1281.8 602 1281.7" stroke="url(#g220)" stroke-width="3.4" fill="none" stroke-linecap="butt"/>
<path d="M404.0,1281.5C405.5 1281.5 410 1281.3 413 1281.2C416 1281.1 419 1281 422 1280.8C425 1280.7 428 1280.6 431 1280.5C434 1280.4 437 1280.2 440 1280.1C443 1280 446 1279.9 449 1279.8C452 1279.6 455 1279.5 458 1279.4C461 1279.3 464 1278.7 467 1279C470 1279.4 473 1281.2 476 1281.3C479 1281.5 482 1280.5 485 1280C488 1279.5 491 1279.1 494 1278.7C497 1278.2 500 1277 503 1277.3C506 1277.6 509 1280.4 512 1280.6C515 1280.8 518 1279.2 521 1278.5C524 1277.8 527 1276.2 530 1276.5C533 1276.7 536 1279.6 539 1279.8C542 1280.1 545 1278.6 548 1277.9C551 1277.3 554 1275.8 557 1276C560 1276.3 563 1279.3 566 1279.6C569 1279.9 572 1278.4 575 1277.9C578 1277.3 581 1276.7 584 1276.2C587 1275.6 590 1274.8 593 1274.5C596 1274.1 600.5 1274 602 1273.9" stroke="url(#g221)" stroke-width="3.4" fill="none" stroke-linecap="butt"/>
<path d="M404.0,1274.2C405.5 1274.1 410 1273.9 413 1273.8C416 1273.7 419 1273.6 422 1273.4C425 1273.3 428 1273.2 431 1273.1C434 1272.9 437 1272.8 440 1272.7C443 1272.6 446 1272.4 449 1272.3C452 1272.2 455 1272 458 1271.9C461 1271.8 464 1271.2 467 1271.5C470 1271.9 473 1273.8 476 1274C479 1274.2 482 1273 485 1272.6C488 1272.1 491 1271.6 494 1271.1C497 1270.7 500 1269.4 503 1269.7C506 1270 509 1272.9 512 1273.2C515 1273.4 518 1271.7 521 1271C524 1270.3 527 1268.6 530 1268.8C533 1269 536 1272.1 539 1272.4C542 1272.7 545 1271 548 1270.4C551 1269.7 554 1268.1 557 1268.3C560 1268.6 563 1271.8 566 1272.1C569 1272.4 572 1270.9 575 1270.3C578 1269.7 581 1269.1 584 1268.5C587 1267.9 590 1267.1 593 1266.7C596 1266.3 600.5 1266.2 602 1266.1" stroke="url(#g222)" stroke-width="3.4" fill="none" stroke-linecap="butt"/>
<path d="M404.0,1266.8C405.5 1266.8 410 1266.6 413 1266.4C416 1266.3 419 1266.2 422 1266C425 1265.9 428 1265.8 431 1265.6C434 1265.5 437 1265.4 440 1265.2C443 1265.1 446 1265 449 1264.8C452 1264.7 455 1264.6 458 1264.4C461 1264.3 464 1263.7 467 1264C470 1264.4 473 1266.4 476 1266.6C479 1266.8 482 1265.6 485 1265.1C488 1264.6 491 1264.1 494 1263.6C497 1263.1 500 1261.7 503 1262.1C506 1262.5 509 1265.5 512 1265.8C515 1266 518 1264.2 521 1263.5C524 1262.7 527 1260.9 530 1261.2C533 1261.4 536 1264.7 539 1265C542 1265.2 545 1263.5 548 1262.8C551 1262.1 554 1260.4 557 1260.7C560 1261 563 1264.3 566 1264.6C569 1265 572 1263.4 575 1262.7C578 1262.1 581 1261.5 584 1260.8C587 1260.2 590 1259.4 593 1258.9C596 1258.5 600.5 1258.4 602 1258.3" stroke="url(#g223)" stroke-width="3.4" fill="none" stroke-linecap="butt"/>
<path d="M404.0,1259.5C405.5 1259.4 410 1259.2 413 1259.1C416 1258.9 419 1258.8 422 1258.7C425 1258.5 428 1258.4 431 1258.2C434 1258.1 437 1258 440 1257.8C443 1257.7 446 1257.5 449 1257.4C452 1257.2 455 1257.1 458 1257C461 1256.8 464 1256.2 467 1256.5C470 1256.9 473 1259.1 476 1259.3C479 1259.5 482 1258.2 485 1257.7C488 1257.1 491 1256.6 494 1256.1C497 1255.6 500 1254.1 503 1254.5C506 1254.9 509 1258.1 512 1258.3C515 1258.6 518 1256.7 521 1255.9C524 1255.1 527 1253.2 530 1253.5C533 1253.8 536 1257.2 539 1257.5C542 1257.8 545 1256 548 1255.2C551 1254.5 554 1252.7 557 1253C560 1253.3 563 1256.8 566 1257.2C569 1257.5 573.5 1255.5 575 1255.2" stroke="url(#g224)" stroke-width="3.4" fill="none" stroke-linecap="butt"/>
<path d="M404.0,1252.2C405.5 1252.1 410 1251.9 413 1251.7C416 1251.6 419 1251.4 422 1251.3C425 1251.1 428 1251 431 1250.8C434 1250.7 437 1250.5 440 1250.4C443 1250.2 446 1250.1 449 1249.9C452 1249.8 455 1249.6 458 1249.5C461 1249.3 464 1248.6 467 1249C470 1249.5 473 1251.7 476 1251.9C479 1252.1 482 1250.8 485 1250.2C488 1249.7 491 1249.1 494 1248.6C497 1248 500 1246.5 503 1246.9C506 1247.3 509 1250.7 512 1250.9C515 1251.2 518 1249.2 521 1248.4C524 1247.5 528 1245.3 530 1245.8C532 1246.4 532.5 1250.7 533 1251.6" stroke="url(#g225)" stroke-width="3.4" fill="none" stroke-linecap="butt"/>
<path d="M404.0,1244.8C405.5 1244.7 410 1244.5 413 1244.3C416 1244.2 419 1244 422 1243.9C425 1243.7 428 1243.6 431 1243.4C434 1243.3 437 1243.1 440 1242.9C443 1242.8 446 1242.6 449 1242.5C452 1242.3 455 1242.2 458 1242C461 1241.9 464 1241.1 467 1241.6C470 1242 473 1244.3 476 1244.5C479 1244.7 483 1243.2 485 1242.8C487 1242.4 487.5 1242.3 488 1242.2" stroke="url(#g226)" stroke-width="3.4" fill="none" stroke-linecap="butt"/>
<path d="M404.0,1237.5C405.5 1237.4 410 1237.1 413 1237C416 1236.8 419 1236.6 422 1236.5C425 1236.3 428 1236.2 431 1236C434 1235.8 437.5 1235.6 440 1235.5C442.5 1235.4 445 1235.2 446 1235.2" stroke="url(#g227)" stroke-width="3.4" fill="none" stroke-linecap="butt"/>
<path d="M374.0,1323.7L404.0,1323.7" stroke="url(#g228)" stroke-width="3" fill="none" stroke-linecap="round"/>
<path d="M370.0,1372.0L404.0,1372.0" stroke="url(#g229)" stroke-width="3" fill="none" stroke-linecap="round"/>
<path d="M458.0,1391.1C459.5 1391.1 464 1391.1 467 1391.1C470 1391.1 473 1391.1 476 1391.1C479 1391.1 482 1391.1 485 1391.1C488 1391.1 491 1391.1 494 1391.1C497 1391.1 500 1391.1 503 1391.1C506 1391.1 509 1391.1 512 1391.1C515 1391.1 518 1391.1 521 1391.1C524 1391.1 527 1391.1 530 1391.1C533 1391.1 536 1391.1 539 1391.1C542 1391.1 545 1391.1 548 1391.1C551 1391.1 554 1391.1 557 1391.1C560 1391.1 563 1391.1 566 1391.1C569 1391.1 572 1391.1 575 1391.1C578 1391.1 581 1391.1 584 1391.1C587 1391.1 590 1391 593 1390.9C596 1390.8 599 1390.6 602 1390.4C605 1390.3 608 1390.1 611 1389.9C614 1389.7 617 1389.5 620 1389.3C623 1389.2 626 1389 629 1388.8C632 1388.6 635 1388.4 638 1388.2C641 1388 644 1387.8 647 1387.6C650 1387.4 653 1387.1 656 1386.9C659 1386.7 662 1386.5 665 1386.3C668 1386 671 1385.8 674 1385.6C677 1385.3 680 1385.1 683 1384.8C686 1384.6 689 1384.4 692 1384.1C695 1383.8 698 1383.6 701 1383.3C704 1383.1 707 1382.8 710 1382.5C713 1382.2 716 1382 719 1381.7C722 1381.4 725 1381.1 728 1380.8C731 1380.5 734 1380.2 737 1379.9C740 1379.6 743 1379.3 746 1379C749 1378.6 752 1378.3 755 1378C758 1377.7 761 1377.3 764 1377C767 1376.6 770 1376.3 773 1375.9C776 1375.6 779 1375.2 782 1374.8C785 1374.5 788 1374.1 791 1373.7C794 1373.3 798 1372.8 800 1372.5C802 1372.2 802.5 1372.2 803 1372.1" stroke="url(#g230)" stroke-width="3.4" fill="none" stroke-linecap="butt"/>
<path d="M470.0,1378.2C471.5 1378.2 476 1378.2 479 1378.2C482 1378.2 485 1378.2 488 1378.2C491 1378.2 494 1378.2 497 1378.2C500 1378.2 503 1378.2 506 1378.2C509 1378.2 512 1378.2 515 1378.2C518 1378.2 521 1378.2 524 1378.2C527 1378.2 530 1378.2 533 1378.2C536 1378.2 539 1378.2 542 1378.2C545 1378.2 548 1378.2 551 1378.2C554 1378.2 557 1378.2 560 1378.2C563 1378.2 566 1378.2 569 1378.2C572 1378.2 575 1378.2 578 1378.2C581 1378.2 584 1378.3 587 1378.2C590 1378.1 593 1377.8 596 1377.5C599 1377.2 602 1376.8 605 1376.5C608 1376.1 611 1375.8 614 1375.4C617 1375.1 620 1374.7 623 1374.3C626 1373.9 629 1373.5 632 1373.2C635 1372.8 638 1372.4 641 1372C644 1371.5 647 1371.1 650 1370.7C653 1370.3 656 1369.8 659 1369.4C662 1369 665 1368.5 668 1368.1C671 1367.6 674 1367.1 677 1366.7C680 1366.2 683 1365.7 686 1365.2C689 1364.7 692 1364.2 695 1363.7C698 1363.2 701 1362.6 704 1362.1C707 1361.6 710 1361 713 1360.5C716 1359.9 719 1359.4 722 1358.8C725 1358.2 728 1357.6 731 1357C734 1356.4 737 1355.8 740 1355.2C743 1354.6 746 1353.9 749 1353.3C752 1352.6 755 1352 758 1351.3C761 1350.6 764 1349.9 767 1349.2C770 1348.5 773 1347.8 776 1347.1C779 1346.4 782 1345.6 785 1344.9C788 1344.1 792.5 1343 794 1342.6" stroke="url(#g231)" stroke-width="5.5" fill="none" stroke-linecap="butt"/>
<path d="M470.0,1365.3C471.5 1365.3 476 1365.3 479 1365.3C482 1365.3 485 1365.3 488 1365.3C491 1365.3 494 1365.3 497 1365.3C500 1365.3 503 1365.3 506 1365.3C509 1365.3 512 1365.3 515 1365.3C518 1365.3 521 1365.3 524 1365.3C527 1365.3 530 1365.3 533 1365.3C536 1365.3 539 1365.3 542 1365.3C545 1365.3 548 1365.3 551 1365.3C554 1365.3 557 1365.3 560 1365.3C563 1365.3 566 1365.3 569 1365.3C572 1365.3 575 1365.3 578 1365.3C581 1365.3 584 1365.5 587 1365.3C590 1365.1 593 1364.7 596 1364.3C599 1363.9 602 1363.3 605 1362.7C608 1362.2 611 1361.7 614 1361.1C617 1360.6 620 1360 623 1359.5C626 1358.9 629 1358.3 632 1357.7C635 1357.1 638 1356.5 641 1355.9C644 1355.3 647 1354.7 650 1354.1C653 1353.4 656 1352.8 659 1352.1C662 1351.4 665 1350.8 668 1350.1C671 1349.4 674 1348.7 677 1348C680 1347.3 683 1346.5 686 1345.8C689 1345 692 1344.3 695 1343.5C698 1342.7 701 1342 704 1341.2C707 1340.4 710 1339.5 713 1338.7C716 1337.9 719 1337 722 1336.2C725 1335.3 728 1334.4 731 1333.5C734 1332.6 737 1331.7 740 1330.8C743 1329.9 746 1328.9 749 1327.9C752 1327 755 1326 758 1325C761 1323.9 764.5 1322.7 767 1321.9C769.5 1321 772 1320.1 773 1319.8" stroke="url(#g232)" stroke-width="4" fill="none" stroke-linecap="butt"/>
<path d="M470.0,1352.4C471.5 1352.4 476 1352.4 479 1352.4C482 1352.4 485 1352.4 488 1352.4C491 1352.4 494 1352.4 497 1352.4C500 1352.4 503 1352.4 506 1352.4C509 1352.4 512 1352.4 515 1352.4C518 1352.4 521 1352.4 524 1352.4C527 1352.4 530 1352.4 533 1352.4C536 1352.4 539 1352.4 542 1352.4C545 1352.4 548 1352.4 551 1352.4C554 1352.4 557 1352.4 560 1352.4C563 1352.4 566 1352.4 569 1352.4C572 1352.4 575 1352.4 578 1352.4C581 1352.4 584 1352.6 587 1352.4C590 1352.2 593 1351.6 596 1351.1C599 1350.5 602 1349.7 605 1349C608 1348.3 611 1347.6 614 1346.8C617 1346.1 620 1345.4 623 1344.6C626 1343.9 629 1343.1 632 1342.3C635 1341.5 638 1340.7 641 1339.9C644 1339.1 647 1338.3 650 1337.4C653 1336.6 656 1335.7 659 1334.8C662 1333.9 665 1333 668 1332.1C671 1331.2 674 1330.3 677 1329.3C680 1328.3 683 1327.4 686 1326.4C689 1325.4 692 1324.4 695 1323.4C698 1322.3 701 1321.3 704 1320.2C707 1319.1 710 1318.1 713 1317C716 1315.8 719 1314.7 722 1313.6C725 1312.4 728 1311.2 731 1310C734 1308.8 737 1307.6 740 1306.4C743 1305.1 746 1303.9 749 1302.6C752 1301.3 756.5 1299.3 758 1298.6" stroke="url(#g233)" stroke-width="3.4" fill="none" stroke-linecap="butt"/>
<path d="M584.0,1339.5C585.5 1339.4 590 1339.2 593 1338.7C596 1338.1 599 1337 602 1336.1C605 1335.3 608 1334.4 611 1333.5C614 1332.6 617 1331.7 620 1330.7C623 1329.8 626 1328.8 629 1327.9C632 1326.9 635 1325.9 638 1324.9C641 1323.9 644 1322.9 647 1321.8C650 1320.8 653 1319.7 656 1318.6C659 1317.5 662 1316.4 665 1315.3C668 1314.1 671 1313 674 1311.8C677 1310.6 680 1309.4 683 1308.2C686 1307 689 1305.8 692 1304.5C695 1303.2 698 1301.9 701 1300.6C704 1299.3 707 1298 710 1296.6C713 1295.2 716 1293.8 719 1292.4C722 1291 725 1289.5 728 1288C731 1286.6 734 1285 737 1283.5C740 1282 744 1279.9 746 1278.8C748 1277.8 748.5 1277.5 749 1277.2" stroke="url(#g234)" stroke-width="3.4" fill="none" stroke-linecap="butt"/>
<path d="M584.0,1326.6C585.5 1326.4 590 1326.3 593 1325.6C596 1324.9 599 1323.6 602 1322.5C605 1321.5 608 1320.4 611 1319.4C614 1318.3 617 1317.2 620 1316.1C623 1315 626 1313.8 629 1312.6C632 1311.5 635 1310.3 638 1309.1C641 1307.9 644 1306.6 647 1305.4C650 1304.1 653 1302.8 656 1301.5C659 1300.2 662 1298.9 665 1297.5C668 1296.2 671 1294.8 674 1293.4C677 1292 680 1290.5 683 1289.1C686 1287.6 689 1286.1 692 1284.6C695 1283.1 698 1281.5 701 1279.9C704 1278.4 707 1276.8 710 1275.1C713 1273.5 716 1271.8 719 1270.1C722 1268.4 725 1266.6 728 1264.8C731 1263.1 735.5 1260.3 737 1259.4" stroke="url(#g235)" stroke-width="3.4" fill="none" stroke-linecap="butt"/>
<path d="M584.0,1313.7C585.5 1313.5 590 1313.3 593 1312.5C596 1311.7 599 1310.2 602 1309C605 1307.8 608 1306.5 611 1305.3C614 1304 617 1302.7 620 1301.4C623 1300.1 626 1298.8 629 1297.4C632 1296.1 635 1294.7 638 1293.2C641 1291.8 644 1290.4 647 1288.9C650 1287.5 653 1286 656 1284.4C659 1282.9 662 1281.4 665 1279.8C668 1278.2 671 1276.6 674 1274.9C677 1273.3 680 1271.6 683 1269.9C686 1268.2 689 1266.5 692 1264.7C695 1262.9 698.5 1260.8 701 1259.3C703.5 1257.7 706 1256.1 707 1255.5" stroke="url(#g236)" stroke-width="3.4" fill="none" stroke-linecap="butt"/>
<path d="M584.0,1300.8C585.5 1300.6 590 1300.4 593 1299.5C596 1298.6 599 1296.8 602 1295.4C605 1294 608 1292.6 611 1291.2C614 1289.7 617 1288.3 620 1286.8C623 1285.3 626 1283.7 629 1282.2C632 1280.6 635 1279 638 1277.4C641 1275.8 644 1274.2 647 1272.5C650 1270.8 653 1269.1 656 1267.4C659 1265.6 662 1263.8 665 1262C668 1260.2 672.5 1257.4 674 1256.5" stroke="url(#g237)" stroke-width="3.4" fill="none" stroke-linecap="butt"/>
<path d="M584.0,1287.9C585.5 1287.6 590 1287.4 593 1286.4C596 1285.4 599 1283.4 602 1281.8C605 1280.3 608 1278.7 611 1277.1C614 1275.4 617 1273.8 620 1272.1C623 1270.4 626 1268.7 629 1267C632 1265.2 635 1263.4 638 1261.6C641 1259.8 645.5 1257 647 1256" stroke="url(#g238)" stroke-width="3.4" fill="none" stroke-linecap="butt"/>
<path d="M584.0,1275.0C585.5 1274.7 590 1274.4 593 1273.3C596 1272.2 599 1270 602 1268.2C605 1266.5 608 1264.7 611 1262.9C614 1261.2 618 1258.7 620 1257.5C622 1256.2 622.5 1255.9 623 1255.5" stroke="url(#g239)" stroke-width="3.4" fill="none" stroke-linecap="butt"/>
<path d="M584.0,1262.1C584.5 1262.1 586 1262.1 587 1262.1C588 1262.1 589 1262.4 590 1262.1C591 1261.8 592 1260.9 593 1260.3C594 1259.6 595 1259 596 1258.4C597 1257.8 598.5 1256.9 599 1256.6" stroke="url(#g240)" stroke-width="3.4" fill="none" stroke-linecap="butt"/>


</g>
<g id="axes" opacity="0.999">
<rect x="123.2" y="27.0" width="1259.8" height="298.0" fill="none" stroke="#000" stroke-width="2.1"/>
<line x1="118" y1="274.9" x2="123.2" y2="274.9" stroke="#000" stroke-width="2"/>
<rect x="89.80" y="261.20" width="2.9" height="22.70" fill="#000"/><path d="M91.10,261.90 Q88.40,265.90 84.70,267.90" stroke="#000" stroke-width="3" fill="none" stroke-linecap="round"/>
<line x1="118" y1="225.9" x2="123.2" y2="225.9" stroke="#000" stroke-width="2"/>
<text transform="translate(97.3,233.8) scale(1,1.03)" text-anchor="end" font-size="33">2</text>
<line x1="118" y1="176.8" x2="123.2" y2="176.8" stroke="#000" stroke-width="2"/>
<text transform="translate(97.3,183.9) scale(1,1.03)" text-anchor="end" font-size="33">3</text>
<line x1="118" y1="127.3" x2="123.2" y2="127.3" stroke="#000" stroke-width="2"/>
<text transform="translate(97.3,134.1) scale(1,1.03)" text-anchor="end" font-size="33">4</text>
<line x1="118" y1="76.0" x2="123.2" y2="76.0" stroke="#000" stroke-width="2"/>
<text transform="translate(97.3,84.2) scale(1,1.03)" text-anchor="end" font-size="33">5</text>
<line x1="494.4" y1="325.0" x2="494.4" y2="330.0" stroke="#000" stroke-width="2"/>
<line x1="863.4" y1="325.0" x2="863.4" y2="330.0" stroke="#000" stroke-width="2"/>
<line x1="1232.6" y1="325.0" x2="1232.6" y2="330.0" stroke="#000" stroke-width="2"/>
<text transform="translate(60,26.2) scale(1,1.03)" font-size="33">kHz</text>
<text transform="translate(1,175.8)" font-size="39.5">(a)</text>
<rect x="123.2" y="386.0" width="1259.8" height="298.5" fill="none" stroke="#000" stroke-width="2.1"/>
<line x1="118" y1="634.4" x2="123.2" y2="634.4" stroke="#000" stroke-width="2"/>
<rect x="89.80" y="620.70" width="2.9" height="22.70" fill="#000"/><path d="M91.10,621.40 Q88.40,625.40 84.70,627.40" stroke="#000" stroke-width="3" fill="none" stroke-linecap="round"/>
<line x1="118" y1="585.4" x2="123.2" y2="585.4" stroke="#000" stroke-width="2"/>
<text transform="translate(97.3,593.3) scale(1,1.03)" text-anchor="end" font-size="33">2</text>
<line x1="118" y1="536.3" x2="123.2" y2="536.3" stroke="#000" stroke-width="2"/>
<text transform="translate(97.3,543.5) scale(1,1.03)" text-anchor="end" font-size="33">3</text>
<line x1="118" y1="486.8" x2="123.2" y2="486.8" stroke="#000" stroke-width="2"/>
<text transform="translate(97.3,493.6) scale(1,1.03)" text-anchor="end" font-size="33">4</text>
<line x1="118" y1="435.5" x2="123.2" y2="435.5" stroke="#000" stroke-width="2"/>
<text transform="translate(97.3,443.8) scale(1,1.03)" text-anchor="end" font-size="33">5</text>
<line x1="494.4" y1="684.5" x2="494.4" y2="689.5" stroke="#000" stroke-width="2"/>
<line x1="863.4" y1="684.5" x2="863.4" y2="689.5" stroke="#000" stroke-width="2"/>
<line x1="1232.6" y1="684.5" x2="1232.6" y2="689.5" stroke="#000" stroke-width="2"/>
<text transform="translate(60,385.2) scale(1,1.03)" font-size="33">kHz</text>
<text transform="translate(1,533.2)" font-size="39.5">(b)</text>
<rect x="123.2" y="748.0" width="1259.8" height="298.0" fill="none" stroke="#000" stroke-width="2.1"/>
<line x1="118" y1="995.9" x2="123.2" y2="995.9" stroke="#000" stroke-width="2"/>
<rect x="89.80" y="982.20" width="2.9" height="22.70" fill="#000"/><path d="M91.10,982.90 Q88.40,986.90 84.70,988.90" stroke="#000" stroke-width="3" fill="none" stroke-linecap="round"/>
<line x1="118" y1="946.9" x2="123.2" y2="946.9" stroke="#000" stroke-width="2"/>
<text transform="translate(97.3,954.8) scale(1,1.03)" text-anchor="end" font-size="33">2</text>
<line x1="118" y1="897.8" x2="123.2" y2="897.8" stroke="#000" stroke-width="2"/>
<text transform="translate(97.3,905.0) scale(1,1.03)" text-anchor="end" font-size="33">3</text>
<line x1="118" y1="848.3" x2="123.2" y2="848.3" stroke="#000" stroke-width="2"/>
<text transform="translate(97.3,855.1) scale(1,1.03)" text-anchor="end" font-size="33">4</text>
<line x1="118" y1="797.0" x2="123.2" y2="797.0" stroke="#000" stroke-width="2"/>
<text transform="translate(97.3,805.2) scale(1,1.03)" text-anchor="end" font-size="33">5</text>
<line x1="494.4" y1="1046.0" x2="494.4" y2="1051.0" stroke="#000" stroke-width="2"/>
<line x1="863.4" y1="1046.0" x2="863.4" y2="1051.0" stroke="#000" stroke-width="2"/>
<line x1="1232.6" y1="1046.0" x2="1232.6" y2="1051.0" stroke="#000" stroke-width="2"/>
<text transform="translate(60,747.2) scale(1,1.03)" font-size="33">kHz</text>
<text transform="translate(1,889.7)" font-size="39.5">(c)</text>
<rect x="123.2" y="1108.0" width="1259.8" height="298.5" fill="none" stroke="#000" stroke-width="2.1"/>
<line x1="118" y1="1356.4" x2="123.2" y2="1356.4" stroke="#000" stroke-width="2"/>
<rect x="89.80" y="1342.70" width="2.9" height="22.70" fill="#000"/><path d="M91.10,1343.40 Q88.40,1347.40 84.70,1349.40" stroke="#000" stroke-width="3" fill="none" stroke-linecap="round"/>
<line x1="118" y1="1307.4" x2="123.2" y2="1307.4" stroke="#000" stroke-width="2"/>
<text transform="translate(97.3,1315.3) scale(1,1.03)" text-anchor="end" font-size="33">2</text>
<line x1="118" y1="1258.3" x2="123.2" y2="1258.3" stroke="#000" stroke-width="2"/>
<text transform="translate(97.3,1265.4) scale(1,1.03)" text-anchor="end" font-size="33">3</text>
<line x1="118" y1="1208.8" x2="123.2" y2="1208.8" stroke="#000" stroke-width="2"/>
<text transform="translate(97.3,1215.6) scale(1,1.03)" text-anchor="end" font-size="33">4</text>
<line x1="118" y1="1157.5" x2="123.2" y2="1157.5" stroke="#000" stroke-width="2"/>
<text transform="translate(97.3,1165.8) scale(1,1.03)" text-anchor="end" font-size="33">5</text>
<line x1="494.4" y1="1406.5" x2="494.4" y2="1411.5" stroke="#000" stroke-width="2"/>
<line x1="863.4" y1="1406.5" x2="863.4" y2="1411.5" stroke="#000" stroke-width="2"/>
<line x1="1232.6" y1="1406.5" x2="1232.6" y2="1411.5" stroke="#000" stroke-width="2"/>
<text transform="translate(60,1107.2) scale(1,1.03)" font-size="33">kHz</text>
<text transform="translate(1,1246.9)" font-size="39.5">(d)</text>
<rect x="493.00" y="1423.10" width="2.9" height="22.70" fill="#000"/><path d="M494.30,1423.80 Q491.60,1427.80 487.90,1429.80" stroke="#000" stroke-width="3" fill="none" stroke-linecap="round"/>
<text transform="translate(863.4,1445.5) scale(1,1.03)" text-anchor="middle" font-size="33">2</text>
<text transform="translate(1234.6,1445.5) scale(1,1.03)" text-anchor="middle" font-size="33">3</text>
<text transform="translate(1375.5,1445.5) scale(1,1.03)" font-size="33">s</text>
</g>
<g id="labels" opacity="0.999">
<text transform="translate(195.8,80.7) scale(1,1.06)" text-anchor="middle" font-size="40">G</text>
<text transform="translate(392.7,80.7) scale(1,1.06)" text-anchor="middle" font-size="40">G</text>
<text transform="translate(643.0,80.5) scale(1,1.06)" text-anchor="middle" font-size="40">I</text>
<text transform="translate(879.6,80.7) scale(1,1.06)" text-anchor="middle" font-size="40">G</text>
<text transform="translate(1081.2,80.5) scale(1,1.06)" text-anchor="middle" font-size="40">I</text>
<text transform="translate(1289.7,80.7) scale(1,1.06)" text-anchor="middle" font-size="40">G</text>
<text transform="translate(200.5,435.3) scale(1,1.06)" text-anchor="middle" font-size="40">G</text>
<text transform="translate(332.3,435.3) scale(1,1.06)" text-anchor="middle" font-size="40">I</text>
<text transform="translate(892.3,435.2) scale(1,1.06)" text-anchor="middle" font-size="40">M</text>
<text transform="translate(239.8,799.9) scale(1,1.06)" text-anchor="middle" font-size="40">G</text>
<text transform="translate(453.2,799.9) scale(1,1.06)" text-anchor="middle" font-size="40">G</text>
<text transform="translate(869.2,800.3) scale(1,1.06)" text-anchor="middle" font-size="40">W</text>
<text transform="translate(239.9,1158.8) scale(1,1.06)" text-anchor="middle" font-size="40">G</text>
<text transform="translate(567.0,1158.7) scale(1,1.06)" text-anchor="middle" font-size="40">Y</text>
</g>
</svg>
</body></html>
